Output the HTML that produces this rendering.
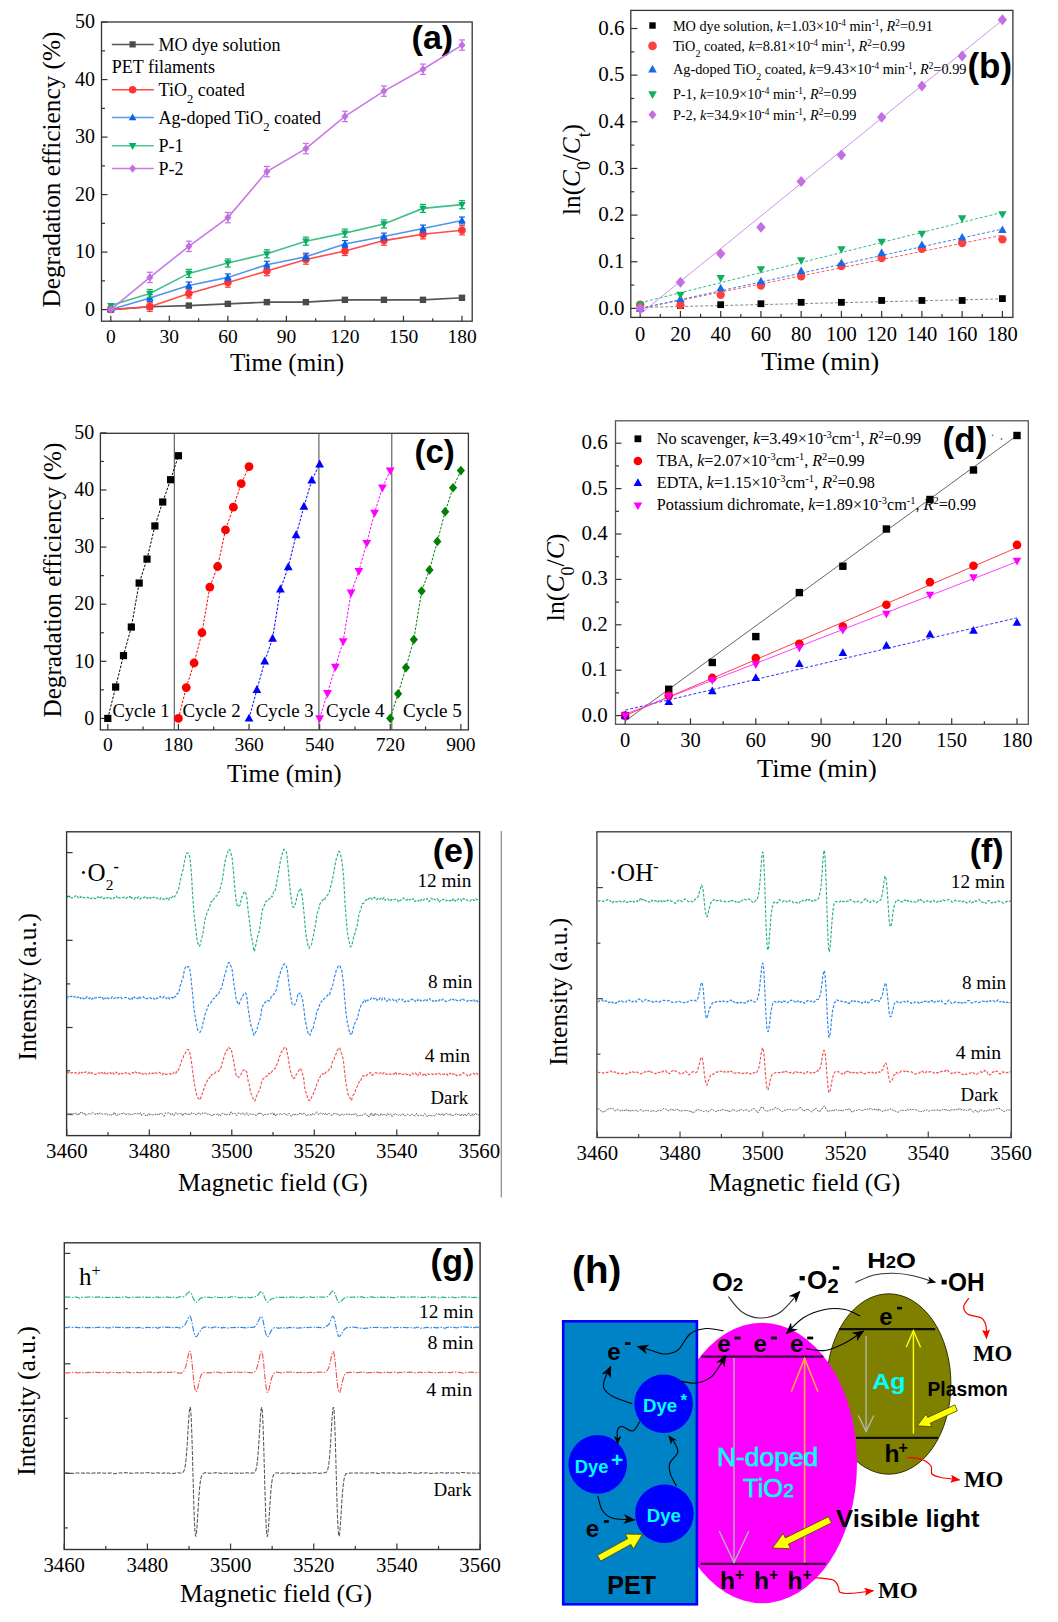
<!DOCTYPE html>
<html><head><meta charset="utf-8"><title>Figure</title>
<style>html,body{margin:0;padding:0;background:#fff;} svg{display:block;}</style>
</head><body>
<svg width="1058" height="1622" viewBox="0 0 1058 1622" font-family='"Liberation Serif", serif'>
<rect width="1058" height="1622" fill="#fff"/>
<rect x="101.50" y="22.00" width="370.70" height="299.20" fill="none" stroke="#333" stroke-width="1.3"/>
<line x1="110.80" y1="321.20" x2="110.80" y2="315.70" stroke="#333" stroke-width="1.2" />
<line x1="169.33" y1="321.20" x2="169.33" y2="315.70" stroke="#333" stroke-width="1.2" />
<line x1="227.86" y1="321.20" x2="227.86" y2="315.70" stroke="#333" stroke-width="1.2" />
<line x1="286.39" y1="321.20" x2="286.39" y2="315.70" stroke="#333" stroke-width="1.2" />
<line x1="344.92" y1="321.20" x2="344.92" y2="315.70" stroke="#333" stroke-width="1.2" />
<line x1="403.45" y1="321.20" x2="403.45" y2="315.70" stroke="#333" stroke-width="1.2" />
<line x1="461.98" y1="321.20" x2="461.98" y2="315.70" stroke="#333" stroke-width="1.2" />
<line x1="140.06" y1="321.20" x2="140.06" y2="318.20" stroke="#333" stroke-width="1.2" />
<line x1="198.59" y1="321.20" x2="198.59" y2="318.20" stroke="#333" stroke-width="1.2" />
<line x1="257.12" y1="321.20" x2="257.12" y2="318.20" stroke="#333" stroke-width="1.2" />
<line x1="315.66" y1="321.20" x2="315.66" y2="318.20" stroke="#333" stroke-width="1.2" />
<line x1="374.19" y1="321.20" x2="374.19" y2="318.20" stroke="#333" stroke-width="1.2" />
<line x1="432.72" y1="321.20" x2="432.72" y2="318.20" stroke="#333" stroke-width="1.2" />
<text x="110.8" y="343.0" font-size="19.5" font-family='"Liberation Serif", serif' text-anchor="middle">0</text>
<text x="169.3" y="343.0" font-size="19.5" font-family='"Liberation Serif", serif' text-anchor="middle">30</text>
<text x="227.9" y="343.0" font-size="19.5" font-family='"Liberation Serif", serif' text-anchor="middle">60</text>
<text x="286.4" y="343.0" font-size="19.5" font-family='"Liberation Serif", serif' text-anchor="middle">90</text>
<text x="344.9" y="343.0" font-size="19.5" font-family='"Liberation Serif", serif' text-anchor="middle">120</text>
<text x="403.5" y="343.0" font-size="19.5" font-family='"Liberation Serif", serif' text-anchor="middle">150</text>
<text x="462.0" y="343.0" font-size="19.5" font-family='"Liberation Serif", serif' text-anchor="middle">180</text>
<line x1="101.50" y1="309.60" x2="107.50" y2="309.60" stroke="#333" stroke-width="1.2" />
<line x1="101.50" y1="252.10" x2="107.50" y2="252.10" stroke="#333" stroke-width="1.2" />
<line x1="101.50" y1="194.60" x2="107.50" y2="194.60" stroke="#333" stroke-width="1.2" />
<line x1="101.50" y1="137.10" x2="107.50" y2="137.10" stroke="#333" stroke-width="1.2" />
<line x1="101.50" y1="79.60" x2="107.50" y2="79.60" stroke="#333" stroke-width="1.2" />
<line x1="101.50" y1="22.10" x2="107.50" y2="22.10" stroke="#333" stroke-width="1.2" />
<line x1="101.50" y1="280.85" x2="105.00" y2="280.85" stroke="#333" stroke-width="1.2" />
<line x1="101.50" y1="223.35" x2="105.00" y2="223.35" stroke="#333" stroke-width="1.2" />
<line x1="101.50" y1="165.85" x2="105.00" y2="165.85" stroke="#333" stroke-width="1.2" />
<line x1="101.50" y1="108.35" x2="105.00" y2="108.35" stroke="#333" stroke-width="1.2" />
<line x1="101.50" y1="50.85" x2="105.00" y2="50.85" stroke="#333" stroke-width="1.2" />
<text x="95.0" y="315.6" font-size="20" font-family='"Liberation Serif", serif' text-anchor="end">0</text>
<text x="95.0" y="258.1" font-size="20" font-family='"Liberation Serif", serif' text-anchor="end">10</text>
<text x="95.0" y="200.6" font-size="20" font-family='"Liberation Serif", serif' text-anchor="end">20</text>
<text x="95.0" y="143.1" font-size="20" font-family='"Liberation Serif", serif' text-anchor="end">30</text>
<text x="95.0" y="85.6" font-size="20" font-family='"Liberation Serif", serif' text-anchor="end">40</text>
<text x="95.0" y="28.1" font-size="20" font-family='"Liberation Serif", serif' text-anchor="end">50</text>
<text x="287.0" y="370.5" font-size="25" font-family='"Liberation Serif", serif' text-anchor="middle" textLength="114.0" lengthAdjust="spacingAndGlyphs">Time (min)</text>
<text x="59.6" y="169.5" font-size="25" font-family='"Liberation Serif", serif' text-anchor="middle" textLength="276.0" lengthAdjust="spacingAndGlyphs" transform="rotate(-90 59.6 169.5)">Degradation efficiency (%)</text>
<text x="411.6" y="49.2" font-size="34" font-family='"Liberation Sans", sans-serif' font-weight="bold">(a)</text>
<polyline points="110.80,309.60 149.82,306.73 188.84,305.58 227.86,303.85 266.88,302.12 305.90,302.12 344.92,299.83 383.94,299.83 422.96,299.83 461.98,297.81" fill="none" stroke="#555555" stroke-width="1.6" />
<rect x="107.60" y="306.40" width="6.40" height="6.40" fill="#4a4a4a"/>
<rect x="146.62" y="303.53" width="6.40" height="6.40" fill="#4a4a4a"/>
<rect x="185.64" y="302.38" width="6.40" height="6.40" fill="#4a4a4a"/>
<rect x="224.66" y="300.65" width="6.40" height="6.40" fill="#4a4a4a"/>
<rect x="263.68" y="298.93" width="6.40" height="6.40" fill="#4a4a4a"/>
<rect x="302.70" y="298.93" width="6.40" height="6.40" fill="#4a4a4a"/>
<rect x="341.72" y="296.63" width="6.40" height="6.40" fill="#4a4a4a"/>
<rect x="380.74" y="296.63" width="6.40" height="6.40" fill="#4a4a4a"/>
<rect x="419.76" y="296.63" width="6.40" height="6.40" fill="#4a4a4a"/>
<rect x="458.78" y="294.61" width="6.40" height="6.40" fill="#4a4a4a"/>
<polyline points="110.80,309.60 149.82,306.73 188.84,293.50 227.86,282.58 266.88,271.08 305.90,259.58 344.92,250.95 383.94,240.60 422.96,234.28 461.98,230.25" fill="none" stroke="#ff4a4a" stroke-width="1.6" />
<circle cx="110.80" cy="309.60" r="3.75" fill="#ff3535"/>
<line x1="149.82" y1="302.12" x2="149.82" y2="311.33" stroke="#ff3535" stroke-width="1.2" />
<line x1="146.82" y1="302.12" x2="152.82" y2="302.12" stroke="#ff3535" stroke-width="1.2" />
<line x1="146.82" y1="311.33" x2="152.82" y2="311.33" stroke="#ff3535" stroke-width="1.2" />
<circle cx="149.82" cy="306.73" r="3.75" fill="#ff3535"/>
<line x1="188.84" y1="288.90" x2="188.84" y2="298.10" stroke="#ff3535" stroke-width="1.2" />
<line x1="185.84" y1="288.90" x2="191.84" y2="288.90" stroke="#ff3535" stroke-width="1.2" />
<line x1="185.84" y1="298.10" x2="191.84" y2="298.10" stroke="#ff3535" stroke-width="1.2" />
<circle cx="188.84" cy="293.50" r="3.75" fill="#ff3535"/>
<line x1="227.86" y1="277.98" x2="227.86" y2="287.18" stroke="#ff3535" stroke-width="1.2" />
<line x1="224.86" y1="277.98" x2="230.86" y2="277.98" stroke="#ff3535" stroke-width="1.2" />
<line x1="224.86" y1="287.18" x2="230.86" y2="287.18" stroke="#ff3535" stroke-width="1.2" />
<circle cx="227.86" cy="282.58" r="3.75" fill="#ff3535"/>
<line x1="266.88" y1="266.48" x2="266.88" y2="275.68" stroke="#ff3535" stroke-width="1.2" />
<line x1="263.88" y1="266.48" x2="269.88" y2="266.48" stroke="#ff3535" stroke-width="1.2" />
<line x1="263.88" y1="275.68" x2="269.88" y2="275.68" stroke="#ff3535" stroke-width="1.2" />
<circle cx="266.88" cy="271.08" r="3.75" fill="#ff3535"/>
<line x1="305.90" y1="254.98" x2="305.90" y2="264.18" stroke="#ff3535" stroke-width="1.2" />
<line x1="302.90" y1="254.98" x2="308.90" y2="254.98" stroke="#ff3535" stroke-width="1.2" />
<line x1="302.90" y1="264.18" x2="308.90" y2="264.18" stroke="#ff3535" stroke-width="1.2" />
<circle cx="305.90" cy="259.58" r="3.75" fill="#ff3535"/>
<line x1="344.92" y1="246.35" x2="344.92" y2="255.55" stroke="#ff3535" stroke-width="1.2" />
<line x1="341.92" y1="246.35" x2="347.92" y2="246.35" stroke="#ff3535" stroke-width="1.2" />
<line x1="341.92" y1="255.55" x2="347.92" y2="255.55" stroke="#ff3535" stroke-width="1.2" />
<circle cx="344.92" cy="250.95" r="3.75" fill="#ff3535"/>
<line x1="383.94" y1="236.00" x2="383.94" y2="245.20" stroke="#ff3535" stroke-width="1.2" />
<line x1="380.94" y1="236.00" x2="386.94" y2="236.00" stroke="#ff3535" stroke-width="1.2" />
<line x1="380.94" y1="245.20" x2="386.94" y2="245.20" stroke="#ff3535" stroke-width="1.2" />
<circle cx="383.94" cy="240.60" r="3.75" fill="#ff3535"/>
<line x1="422.96" y1="229.68" x2="422.96" y2="238.88" stroke="#ff3535" stroke-width="1.2" />
<line x1="419.96" y1="229.68" x2="425.96" y2="229.68" stroke="#ff3535" stroke-width="1.2" />
<line x1="419.96" y1="238.88" x2="425.96" y2="238.88" stroke="#ff3535" stroke-width="1.2" />
<circle cx="422.96" cy="234.28" r="3.75" fill="#ff3535"/>
<line x1="461.98" y1="225.65" x2="461.98" y2="234.85" stroke="#ff3535" stroke-width="1.2" />
<line x1="458.98" y1="225.65" x2="464.98" y2="225.65" stroke="#ff3535" stroke-width="1.2" />
<line x1="458.98" y1="234.85" x2="464.98" y2="234.85" stroke="#ff3535" stroke-width="1.2" />
<circle cx="461.98" cy="230.25" r="3.75" fill="#ff3535"/>
<polyline points="110.80,309.60 149.82,298.10 188.84,285.45 227.86,277.40 266.88,264.75 305.90,256.70 344.92,244.05 383.94,236.58 422.96,228.53 461.98,220.48" fill="none" stroke="#4f95ee" stroke-width="1.6" />
<polygon points="110.80,305.55 114.55,312.30 107.05,312.30" fill="#0a62e6"/>
<line x1="149.82" y1="294.65" x2="149.82" y2="301.55" stroke="#0a62e6" stroke-width="1.2" />
<line x1="146.82" y1="294.65" x2="152.82" y2="294.65" stroke="#0a62e6" stroke-width="1.2" />
<line x1="146.82" y1="301.55" x2="152.82" y2="301.55" stroke="#0a62e6" stroke-width="1.2" />
<polygon points="149.82,294.05 153.57,300.80 146.07,300.80" fill="#0a62e6"/>
<line x1="188.84" y1="282.00" x2="188.84" y2="288.90" stroke="#0a62e6" stroke-width="1.2" />
<line x1="185.84" y1="282.00" x2="191.84" y2="282.00" stroke="#0a62e6" stroke-width="1.2" />
<line x1="185.84" y1="288.90" x2="191.84" y2="288.90" stroke="#0a62e6" stroke-width="1.2" />
<polygon points="188.84,281.40 192.59,288.15 185.09,288.15" fill="#0a62e6"/>
<line x1="227.86" y1="273.95" x2="227.86" y2="280.85" stroke="#0a62e6" stroke-width="1.2" />
<line x1="224.86" y1="273.95" x2="230.86" y2="273.95" stroke="#0a62e6" stroke-width="1.2" />
<line x1="224.86" y1="280.85" x2="230.86" y2="280.85" stroke="#0a62e6" stroke-width="1.2" />
<polygon points="227.86,273.35 231.61,280.10 224.11,280.10" fill="#0a62e6"/>
<line x1="266.88" y1="261.30" x2="266.88" y2="268.20" stroke="#0a62e6" stroke-width="1.2" />
<line x1="263.88" y1="261.30" x2="269.88" y2="261.30" stroke="#0a62e6" stroke-width="1.2" />
<line x1="263.88" y1="268.20" x2="269.88" y2="268.20" stroke="#0a62e6" stroke-width="1.2" />
<polygon points="266.88,260.70 270.63,267.45 263.13,267.45" fill="#0a62e6"/>
<line x1="305.90" y1="253.25" x2="305.90" y2="260.15" stroke="#0a62e6" stroke-width="1.2" />
<line x1="302.90" y1="253.25" x2="308.90" y2="253.25" stroke="#0a62e6" stroke-width="1.2" />
<line x1="302.90" y1="260.15" x2="308.90" y2="260.15" stroke="#0a62e6" stroke-width="1.2" />
<polygon points="305.90,252.65 309.65,259.40 302.15,259.40" fill="#0a62e6"/>
<line x1="344.92" y1="240.60" x2="344.92" y2="247.50" stroke="#0a62e6" stroke-width="1.2" />
<line x1="341.92" y1="240.60" x2="347.92" y2="240.60" stroke="#0a62e6" stroke-width="1.2" />
<line x1="341.92" y1="247.50" x2="347.92" y2="247.50" stroke="#0a62e6" stroke-width="1.2" />
<polygon points="344.92,240.00 348.67,246.75 341.17,246.75" fill="#0a62e6"/>
<line x1="383.94" y1="233.13" x2="383.94" y2="240.03" stroke="#0a62e6" stroke-width="1.2" />
<line x1="380.94" y1="233.13" x2="386.94" y2="233.13" stroke="#0a62e6" stroke-width="1.2" />
<line x1="380.94" y1="240.03" x2="386.94" y2="240.03" stroke="#0a62e6" stroke-width="1.2" />
<polygon points="383.94,232.53 387.69,239.28 380.19,239.28" fill="#0a62e6"/>
<line x1="422.96" y1="225.08" x2="422.96" y2="231.98" stroke="#0a62e6" stroke-width="1.2" />
<line x1="419.96" y1="225.08" x2="425.96" y2="225.08" stroke="#0a62e6" stroke-width="1.2" />
<line x1="419.96" y1="231.98" x2="425.96" y2="231.98" stroke="#0a62e6" stroke-width="1.2" />
<polygon points="422.96,224.48 426.71,231.23 419.21,231.23" fill="#0a62e6"/>
<line x1="461.98" y1="217.03" x2="461.98" y2="223.93" stroke="#0a62e6" stroke-width="1.2" />
<line x1="458.98" y1="217.03" x2="464.98" y2="217.03" stroke="#0a62e6" stroke-width="1.2" />
<line x1="458.98" y1="223.93" x2="464.98" y2="223.93" stroke="#0a62e6" stroke-width="1.2" />
<polygon points="461.98,216.43 465.73,223.18 458.23,223.18" fill="#0a62e6"/>
<polyline points="110.80,305.58 149.82,293.50 188.84,273.38 227.86,263.03 266.88,253.83 305.90,241.18 344.92,233.12 383.94,223.93 422.96,208.40 461.98,204.66" fill="none" stroke="#40c088" stroke-width="1.6" />
<polygon points="110.80,309.63 114.55,302.88 107.05,302.88" fill="#0aae62"/>
<line x1="149.82" y1="289.48" x2="149.82" y2="297.52" stroke="#0aae62" stroke-width="1.2" />
<line x1="146.82" y1="289.48" x2="152.82" y2="289.48" stroke="#0aae62" stroke-width="1.2" />
<line x1="146.82" y1="297.52" x2="152.82" y2="297.52" stroke="#0aae62" stroke-width="1.2" />
<polygon points="149.82,297.55 153.57,290.80 146.07,290.80" fill="#0aae62"/>
<line x1="188.84" y1="269.35" x2="188.84" y2="277.40" stroke="#0aae62" stroke-width="1.2" />
<line x1="185.84" y1="269.35" x2="191.84" y2="269.35" stroke="#0aae62" stroke-width="1.2" />
<line x1="185.84" y1="277.40" x2="191.84" y2="277.40" stroke="#0aae62" stroke-width="1.2" />
<polygon points="188.84,277.43 192.59,270.68 185.09,270.68" fill="#0aae62"/>
<line x1="227.86" y1="259.00" x2="227.86" y2="267.05" stroke="#0aae62" stroke-width="1.2" />
<line x1="224.86" y1="259.00" x2="230.86" y2="259.00" stroke="#0aae62" stroke-width="1.2" />
<line x1="224.86" y1="267.05" x2="230.86" y2="267.05" stroke="#0aae62" stroke-width="1.2" />
<polygon points="227.86,267.08 231.61,260.33 224.11,260.33" fill="#0aae62"/>
<line x1="266.88" y1="249.80" x2="266.88" y2="257.85" stroke="#0aae62" stroke-width="1.2" />
<line x1="263.88" y1="249.80" x2="269.88" y2="249.80" stroke="#0aae62" stroke-width="1.2" />
<line x1="263.88" y1="257.85" x2="269.88" y2="257.85" stroke="#0aae62" stroke-width="1.2" />
<polygon points="266.88,257.88 270.63,251.13 263.13,251.13" fill="#0aae62"/>
<line x1="305.90" y1="237.15" x2="305.90" y2="245.20" stroke="#0aae62" stroke-width="1.2" />
<line x1="302.90" y1="237.15" x2="308.90" y2="237.15" stroke="#0aae62" stroke-width="1.2" />
<line x1="302.90" y1="245.20" x2="308.90" y2="245.20" stroke="#0aae62" stroke-width="1.2" />
<polygon points="305.90,245.23 309.65,238.48 302.15,238.48" fill="#0aae62"/>
<line x1="344.92" y1="229.10" x2="344.92" y2="237.15" stroke="#0aae62" stroke-width="1.2" />
<line x1="341.92" y1="229.10" x2="347.92" y2="229.10" stroke="#0aae62" stroke-width="1.2" />
<line x1="341.92" y1="237.15" x2="347.92" y2="237.15" stroke="#0aae62" stroke-width="1.2" />
<polygon points="344.92,237.18 348.67,230.43 341.17,230.43" fill="#0aae62"/>
<line x1="383.94" y1="219.90" x2="383.94" y2="227.95" stroke="#0aae62" stroke-width="1.2" />
<line x1="380.94" y1="219.90" x2="386.94" y2="219.90" stroke="#0aae62" stroke-width="1.2" />
<line x1="380.94" y1="227.95" x2="386.94" y2="227.95" stroke="#0aae62" stroke-width="1.2" />
<polygon points="383.94,227.98 387.69,221.23 380.19,221.23" fill="#0aae62"/>
<line x1="422.96" y1="204.38" x2="422.96" y2="212.43" stroke="#0aae62" stroke-width="1.2" />
<line x1="419.96" y1="204.38" x2="425.96" y2="204.38" stroke="#0aae62" stroke-width="1.2" />
<line x1="419.96" y1="212.43" x2="425.96" y2="212.43" stroke="#0aae62" stroke-width="1.2" />
<polygon points="422.96,212.45 426.71,205.70 419.21,205.70" fill="#0aae62"/>
<line x1="461.98" y1="200.64" x2="461.98" y2="208.69" stroke="#0aae62" stroke-width="1.2" />
<line x1="458.98" y1="200.64" x2="464.98" y2="200.64" stroke="#0aae62" stroke-width="1.2" />
<line x1="458.98" y1="208.69" x2="464.98" y2="208.69" stroke="#0aae62" stroke-width="1.2" />
<polygon points="461.98,208.71 465.73,201.96 458.23,201.96" fill="#0aae62"/>
<polyline points="110.80,309.60 149.82,277.40 188.84,246.35 227.86,217.60 266.88,171.60 305.90,148.60 344.92,116.40 383.94,91.10 422.96,69.25 461.98,45.10" fill="none" stroke="#c87ae6" stroke-width="1.6" />
<polygon points="110.80,305.48 114.31,309.60 110.80,313.73 107.29,309.60" fill="#c46ee4"/>
<line x1="149.82" y1="272.23" x2="149.82" y2="282.58" stroke="#c46ee4" stroke-width="1.2" />
<line x1="146.82" y1="272.23" x2="152.82" y2="272.23" stroke="#c46ee4" stroke-width="1.2" />
<line x1="146.82" y1="282.58" x2="152.82" y2="282.58" stroke="#c46ee4" stroke-width="1.2" />
<polygon points="149.82,273.28 153.33,277.40 149.82,281.53 146.31,277.40" fill="#c46ee4"/>
<line x1="188.84" y1="241.18" x2="188.84" y2="251.53" stroke="#c46ee4" stroke-width="1.2" />
<line x1="185.84" y1="241.18" x2="191.84" y2="241.18" stroke="#c46ee4" stroke-width="1.2" />
<line x1="185.84" y1="251.53" x2="191.84" y2="251.53" stroke="#c46ee4" stroke-width="1.2" />
<polygon points="188.84,242.23 192.35,246.35 188.84,250.48 185.33,246.35" fill="#c46ee4"/>
<line x1="227.86" y1="212.43" x2="227.86" y2="222.78" stroke="#c46ee4" stroke-width="1.2" />
<line x1="224.86" y1="212.43" x2="230.86" y2="212.43" stroke="#c46ee4" stroke-width="1.2" />
<line x1="224.86" y1="222.78" x2="230.86" y2="222.78" stroke="#c46ee4" stroke-width="1.2" />
<polygon points="227.86,213.48 231.37,217.60 227.86,221.73 224.35,217.60" fill="#c46ee4"/>
<line x1="266.88" y1="166.43" x2="266.88" y2="176.78" stroke="#c46ee4" stroke-width="1.2" />
<line x1="263.88" y1="166.43" x2="269.88" y2="166.43" stroke="#c46ee4" stroke-width="1.2" />
<line x1="263.88" y1="176.78" x2="269.88" y2="176.78" stroke="#c46ee4" stroke-width="1.2" />
<polygon points="266.88,167.48 270.39,171.60 266.88,175.73 263.37,171.60" fill="#c46ee4"/>
<line x1="305.90" y1="143.43" x2="305.90" y2="153.78" stroke="#c46ee4" stroke-width="1.2" />
<line x1="302.90" y1="143.43" x2="308.90" y2="143.43" stroke="#c46ee4" stroke-width="1.2" />
<line x1="302.90" y1="153.78" x2="308.90" y2="153.78" stroke="#c46ee4" stroke-width="1.2" />
<polygon points="305.90,144.48 309.41,148.60 305.90,152.73 302.39,148.60" fill="#c46ee4"/>
<line x1="344.92" y1="111.23" x2="344.92" y2="121.58" stroke="#c46ee4" stroke-width="1.2" />
<line x1="341.92" y1="111.23" x2="347.92" y2="111.23" stroke="#c46ee4" stroke-width="1.2" />
<line x1="341.92" y1="121.58" x2="347.92" y2="121.58" stroke="#c46ee4" stroke-width="1.2" />
<polygon points="344.92,112.28 348.43,116.40 344.92,120.53 341.41,116.40" fill="#c46ee4"/>
<line x1="383.94" y1="85.93" x2="383.94" y2="96.28" stroke="#c46ee4" stroke-width="1.2" />
<line x1="380.94" y1="85.93" x2="386.94" y2="85.93" stroke="#c46ee4" stroke-width="1.2" />
<line x1="380.94" y1="96.28" x2="386.94" y2="96.28" stroke="#c46ee4" stroke-width="1.2" />
<polygon points="383.94,86.98 387.45,91.10 383.94,95.23 380.43,91.10" fill="#c46ee4"/>
<line x1="422.96" y1="64.08" x2="422.96" y2="74.43" stroke="#c46ee4" stroke-width="1.2" />
<line x1="419.96" y1="64.08" x2="425.96" y2="64.08" stroke="#c46ee4" stroke-width="1.2" />
<line x1="419.96" y1="74.43" x2="425.96" y2="74.43" stroke="#c46ee4" stroke-width="1.2" />
<polygon points="422.96,65.13 426.47,69.25 422.96,73.38 419.45,69.25" fill="#c46ee4"/>
<line x1="461.98" y1="39.93" x2="461.98" y2="50.28" stroke="#c46ee4" stroke-width="1.2" />
<line x1="458.98" y1="39.93" x2="464.98" y2="39.93" stroke="#c46ee4" stroke-width="1.2" />
<line x1="458.98" y1="50.28" x2="464.98" y2="50.28" stroke="#c46ee4" stroke-width="1.2" />
<polygon points="461.98,40.98 465.49,45.10 461.98,49.23 458.47,45.10" fill="#c46ee4"/>
<line x1="111.80" y1="44.40" x2="153.80" y2="44.40" stroke="#555555" stroke-width="1.5" />
<rect x="129.50" y="41.30" width="6.20" height="6.20" fill="#4a4a4a"/>
<text x="158.6" y="50.7" font-size="18" font-family='"Liberation Serif", serif'>MO dye solution</text>
<line x1="111.80" y1="89.80" x2="153.80" y2="89.80" stroke="#ff4a4a" stroke-width="1.5" />
<circle cx="132.60" cy="89.80" r="3.80" fill="#ff3535"/>
<text x="158.6" y="96.1" font-size="18" font-family='"Liberation Serif", serif'>TiO<tspan baseline-shift="sub" font-size="70%">2</tspan> coated</text>
<line x1="111.80" y1="117.60" x2="153.80" y2="117.60" stroke="#5a9aee" stroke-width="1.5" />
<polygon points="132.60,113.50 136.40,120.34 128.80,120.34" fill="#0a62e6"/>
<text x="158.6" y="123.9" font-size="18" font-family='"Liberation Serif", serif'>Ag-doped TiO<tspan baseline-shift="sub" font-size="70%">2</tspan> coated</text>
<line x1="111.80" y1="145.80" x2="153.80" y2="145.80" stroke="#4cc890" stroke-width="1.5" />
<polygon points="132.60,149.90 136.40,143.06 128.80,143.06" fill="#0aae62"/>
<text x="158.6" y="152.1" font-size="18" font-family='"Liberation Serif", serif'>P-1</text>
<line x1="111.80" y1="168.60" x2="153.80" y2="168.60" stroke="#c87ae6" stroke-width="1.5" />
<polygon points="132.60,164.42 136.15,168.60 132.60,172.78 129.05,168.60" fill="#c46ee4"/>
<text x="158.6" y="174.9" font-size="18" font-family='"Liberation Serif", serif'>P-2</text>
<text x="111.8" y="73.2" font-size="18" font-family='"Liberation Serif", serif'>PET filaments</text>
<rect x="630.80" y="10.40" width="382.10" height="307.00" fill="none" stroke="#333" stroke-width="1.3"/>
<line x1="640.20" y1="317.40" x2="640.20" y2="310.90" stroke="#333" stroke-width="1.2" />
<line x1="680.44" y1="317.40" x2="680.44" y2="310.90" stroke="#333" stroke-width="1.2" />
<line x1="720.69" y1="317.40" x2="720.69" y2="310.90" stroke="#333" stroke-width="1.2" />
<line x1="760.93" y1="317.40" x2="760.93" y2="310.90" stroke="#333" stroke-width="1.2" />
<line x1="801.18" y1="317.40" x2="801.18" y2="310.90" stroke="#333" stroke-width="1.2" />
<line x1="841.42" y1="317.40" x2="841.42" y2="310.90" stroke="#333" stroke-width="1.2" />
<line x1="881.66" y1="317.40" x2="881.66" y2="310.90" stroke="#333" stroke-width="1.2" />
<line x1="921.91" y1="317.40" x2="921.91" y2="310.90" stroke="#333" stroke-width="1.2" />
<line x1="962.15" y1="317.40" x2="962.15" y2="310.90" stroke="#333" stroke-width="1.2" />
<line x1="1002.40" y1="317.40" x2="1002.40" y2="310.90" stroke="#333" stroke-width="1.2" />
<line x1="660.32" y1="317.40" x2="660.32" y2="313.90" stroke="#333" stroke-width="1.2" />
<line x1="700.57" y1="317.40" x2="700.57" y2="313.90" stroke="#333" stroke-width="1.2" />
<line x1="740.81" y1="317.40" x2="740.81" y2="313.90" stroke="#333" stroke-width="1.2" />
<line x1="781.05" y1="317.40" x2="781.05" y2="313.90" stroke="#333" stroke-width="1.2" />
<line x1="821.30" y1="317.40" x2="821.30" y2="313.90" stroke="#333" stroke-width="1.2" />
<line x1="861.54" y1="317.40" x2="861.54" y2="313.90" stroke="#333" stroke-width="1.2" />
<line x1="901.79" y1="317.40" x2="901.79" y2="313.90" stroke="#333" stroke-width="1.2" />
<line x1="942.03" y1="317.40" x2="942.03" y2="313.90" stroke="#333" stroke-width="1.2" />
<line x1="982.27" y1="317.40" x2="982.27" y2="313.90" stroke="#333" stroke-width="1.2" />
<text x="640.2" y="340.6" font-size="20.5" font-family='"Liberation Serif", serif' text-anchor="middle">0</text>
<text x="680.4" y="340.6" font-size="20.5" font-family='"Liberation Serif", serif' text-anchor="middle">20</text>
<text x="720.7" y="340.6" font-size="20.5" font-family='"Liberation Serif", serif' text-anchor="middle">40</text>
<text x="760.9" y="340.6" font-size="20.5" font-family='"Liberation Serif", serif' text-anchor="middle">60</text>
<text x="801.2" y="340.6" font-size="20.5" font-family='"Liberation Serif", serif' text-anchor="middle">80</text>
<text x="841.4" y="340.6" font-size="20.5" font-family='"Liberation Serif", serif' text-anchor="middle">100</text>
<text x="881.7" y="340.6" font-size="20.5" font-family='"Liberation Serif", serif' text-anchor="middle">120</text>
<text x="921.9" y="340.6" font-size="20.5" font-family='"Liberation Serif", serif' text-anchor="middle">140</text>
<text x="962.2" y="340.6" font-size="20.5" font-family='"Liberation Serif", serif' text-anchor="middle">160</text>
<text x="1002.4" y="340.6" font-size="20.5" font-family='"Liberation Serif", serif' text-anchor="middle">180</text>
<line x1="630.80" y1="308.40" x2="637.50" y2="308.40" stroke="#333" stroke-width="1.2" />
<line x1="630.80" y1="261.75" x2="637.50" y2="261.75" stroke="#333" stroke-width="1.2" />
<line x1="630.80" y1="215.10" x2="637.50" y2="215.10" stroke="#333" stroke-width="1.2" />
<line x1="630.80" y1="168.45" x2="637.50" y2="168.45" stroke="#333" stroke-width="1.2" />
<line x1="630.80" y1="121.80" x2="637.50" y2="121.80" stroke="#333" stroke-width="1.2" />
<line x1="630.80" y1="75.15" x2="637.50" y2="75.15" stroke="#333" stroke-width="1.2" />
<line x1="630.80" y1="28.50" x2="637.50" y2="28.50" stroke="#333" stroke-width="1.2" />
<line x1="630.80" y1="285.07" x2="634.30" y2="285.07" stroke="#333" stroke-width="1.2" />
<line x1="630.80" y1="238.42" x2="634.30" y2="238.42" stroke="#333" stroke-width="1.2" />
<line x1="630.80" y1="191.77" x2="634.30" y2="191.77" stroke="#333" stroke-width="1.2" />
<line x1="630.80" y1="145.12" x2="634.30" y2="145.12" stroke="#333" stroke-width="1.2" />
<line x1="630.80" y1="98.47" x2="634.30" y2="98.47" stroke="#333" stroke-width="1.2" />
<line x1="630.80" y1="51.82" x2="634.30" y2="51.82" stroke="#333" stroke-width="1.2" />
<text x="624.4" y="314.5" font-size="21" font-family='"Liberation Serif", serif' text-anchor="end">0.0</text>
<text x="624.4" y="267.9" font-size="21" font-family='"Liberation Serif", serif' text-anchor="end">0.1</text>
<text x="624.4" y="221.2" font-size="21" font-family='"Liberation Serif", serif' text-anchor="end">0.2</text>
<text x="624.4" y="174.5" font-size="21" font-family='"Liberation Serif", serif' text-anchor="end">0.3</text>
<text x="624.4" y="127.9" font-size="21" font-family='"Liberation Serif", serif' text-anchor="end">0.4</text>
<text x="624.4" y="81.2" font-size="21" font-family='"Liberation Serif", serif' text-anchor="end">0.5</text>
<text x="624.4" y="34.6" font-size="21" font-family='"Liberation Serif", serif' text-anchor="end">0.6</text>
<text x="820.2" y="369.9" font-size="26" font-family='"Liberation Serif", serif' text-anchor="middle" textLength="118.0" lengthAdjust="spacingAndGlyphs">Time (min)</text>
<text x="580.3" y="169.5" font-size="26" font-family='"Liberation Serif", serif' text-anchor="middle" textLength="91.0" lengthAdjust="spacingAndGlyphs" transform="rotate(-90 580.3 169.5)">ln(<tspan font-style="italic">C</tspan><tspan baseline-shift="sub" font-size="70%">0</tspan>/<tspan font-style="italic">C</tspan><tspan baseline-shift="sub" font-size="70%">t</tspan>)</text>
<text x="967.4" y="77.9" font-size="35" font-family='"Liberation Sans", sans-serif' font-weight="bold">(b)</text>
<line x1="640.20" y1="307.47" x2="1002.40" y2="298.84" stroke="#888888" stroke-width="1" stroke-dasharray="3,2"/>
<rect x="636.80" y="305.00" width="6.80" height="6.80" fill="#000000"/>
<rect x="677.04" y="302.20" width="6.80" height="6.80" fill="#000000"/>
<rect x="717.29" y="301.27" width="6.80" height="6.80" fill="#000000"/>
<rect x="757.53" y="300.33" width="6.80" height="6.80" fill="#000000"/>
<rect x="797.78" y="298.94" width="6.80" height="6.80" fill="#000000"/>
<rect x="838.02" y="298.94" width="6.80" height="6.80" fill="#000000"/>
<rect x="878.26" y="297.07" width="6.80" height="6.80" fill="#000000"/>
<rect x="918.51" y="297.07" width="6.80" height="6.80" fill="#000000"/>
<rect x="958.75" y="297.07" width="6.80" height="6.80" fill="#000000"/>
<rect x="999.00" y="295.20" width="6.80" height="6.80" fill="#000000"/>
<line x1="640.20" y1="308.40" x2="1002.40" y2="235.16" stroke="#ff5a5a" stroke-width="1" stroke-dasharray="3,2"/>
<circle cx="640.20" cy="304.67" r="4.20" fill="#ff4040"/>
<circle cx="680.44" cy="305.13" r="4.20" fill="#ff4040"/>
<circle cx="720.69" cy="294.87" r="4.20" fill="#ff4040"/>
<circle cx="760.93" cy="285.54" r="4.20" fill="#ff4040"/>
<circle cx="801.18" cy="276.21" r="4.20" fill="#ff4040"/>
<circle cx="841.42" cy="265.95" r="4.20" fill="#ff4040"/>
<circle cx="881.66" cy="258.02" r="4.20" fill="#ff4040"/>
<circle cx="921.91" cy="248.69" r="4.20" fill="#ff4040"/>
<circle cx="962.15" cy="243.09" r="4.20" fill="#ff4040"/>
<circle cx="1002.40" cy="239.36" r="4.20" fill="#ff4040"/>
<line x1="640.20" y1="308.40" x2="1002.40" y2="229.09" stroke="#3a82ee" stroke-width="1" stroke-dasharray="3,2"/>
<polygon points="640.20,303.86 644.40,311.42 636.00,311.42" fill="#1a6ae8"/>
<polygon points="680.44,294.53 684.64,302.09 676.24,302.09" fill="#1a6ae8"/>
<polygon points="720.69,283.80 724.89,291.36 716.49,291.36" fill="#1a6ae8"/>
<polygon points="760.93,276.81 765.13,284.37 756.73,284.37" fill="#1a6ae8"/>
<polygon points="801.18,266.54 805.38,274.10 796.98,274.10" fill="#1a6ae8"/>
<polygon points="841.42,258.61 845.62,266.17 837.22,266.17" fill="#1a6ae8"/>
<polygon points="881.66,248.35 885.86,255.91 877.46,255.91" fill="#1a6ae8"/>
<polygon points="921.91,240.42 926.11,247.98 917.71,247.98" fill="#1a6ae8"/>
<polygon points="962.15,232.96 966.35,240.52 957.95,240.52" fill="#1a6ae8"/>
<polygon points="1002.40,225.49 1006.60,233.05 998.20,233.05" fill="#1a6ae8"/>
<line x1="640.20" y1="302.80" x2="1002.40" y2="212.30" stroke="#30c080" stroke-width="1" stroke-dasharray="3,2"/>
<polygon points="640.20,309.67 644.40,302.11 636.00,302.11" fill="#10b060"/>
<polygon points="680.44,299.41 684.64,291.85 676.24,291.85" fill="#10b060"/>
<polygon points="720.69,282.61 724.89,275.05 716.49,275.05" fill="#10b060"/>
<polygon points="760.93,273.75 765.13,266.19 756.73,266.19" fill="#10b060"/>
<polygon points="801.18,264.89 805.38,257.33 796.98,257.33" fill="#10b060"/>
<polygon points="841.42,253.69 845.62,246.13 837.22,246.13" fill="#10b060"/>
<polygon points="881.66,246.23 885.86,238.67 877.46,238.67" fill="#10b060"/>
<polygon points="921.91,238.30 926.11,230.74 917.71,230.74" fill="#10b060"/>
<polygon points="962.15,222.90 966.35,215.34 957.95,215.34" fill="#10b060"/>
<polygon points="1002.40,218.70 1006.60,211.14 998.20,211.14" fill="#10b060"/>
<line x1="640.20" y1="314.00" x2="1002.40" y2="20.10" stroke="#d090ee" stroke-width="1" />
<polygon points="640.20,302.90 644.88,308.40 640.20,313.90 635.53,308.40" fill="#c46ee4"/>
<polygon points="680.44,276.78 685.12,282.28 680.44,287.78 675.77,282.28" fill="#c46ee4"/>
<polygon points="720.69,248.32 725.36,253.82 720.69,259.32 716.01,253.82" fill="#c46ee4"/>
<polygon points="760.93,221.73 765.61,227.23 760.93,232.73 756.26,227.23" fill="#c46ee4"/>
<polygon points="801.18,176.01 805.85,181.51 801.18,187.01 796.50,181.51" fill="#c46ee4"/>
<polygon points="841.42,149.42 846.10,154.92 841.42,160.42 836.75,154.92" fill="#c46ee4"/>
<polygon points="881.66,111.63 886.34,117.13 881.66,122.63 876.99,117.13" fill="#c46ee4"/>
<polygon points="921.91,80.38 926.58,85.88 921.91,91.38 917.23,85.88" fill="#c46ee4"/>
<polygon points="962.15,50.52 966.83,56.02 962.15,61.52 957.48,56.02" fill="#c46ee4"/>
<polygon points="1002.40,14.14 1007.07,19.64 1002.40,25.14 997.72,19.64" fill="#c46ee4"/>
<rect x="649.30" y="22.30" width="6.40" height="6.40" fill="#000000"/>
<text x="672.9" y="30.5" font-size="14.5" font-family='"Liberation Serif", serif' textLength="260.0" lengthAdjust="spacingAndGlyphs">MO dye solution, <tspan font-style="italic">k</tspan>=1.03×10<tspan baseline-shift="super" font-size="65%">-4</tspan> min<tspan baseline-shift="super" font-size="65%">-1</tspan>, <tspan font-style="italic">R</tspan><tspan baseline-shift="super" font-size="65%">2</tspan>=0.91</text>
<circle cx="652.50" cy="45.90" r="4.30" fill="#ff4040"/>
<text x="672.9" y="50.9" font-size="14.5" font-family='"Liberation Serif", serif' textLength="232.0" lengthAdjust="spacingAndGlyphs">TiO<tspan baseline-shift="sub" font-size="70%">2</tspan> coated, <tspan font-style="italic">k</tspan>=8.81×10<tspan baseline-shift="super" font-size="65%">-4</tspan> min<tspan baseline-shift="super" font-size="65%">-1</tspan>, <tspan font-style="italic">R</tspan><tspan baseline-shift="super" font-size="65%">2</tspan>=0.99</text>
<polygon points="652.50,64.76 656.80,72.50 648.20,72.50" fill="#1a6ae8"/>
<text x="672.9" y="74.4" font-size="14.5" font-family='"Liberation Serif", serif' textLength="293.6" lengthAdjust="spacingAndGlyphs">Ag-doped TiO<tspan baseline-shift="sub" font-size="70%">2</tspan> coated, <tspan font-style="italic">k</tspan>=9.43×10<tspan baseline-shift="super" font-size="65%">-4</tspan> min<tspan baseline-shift="super" font-size="65%">-1</tspan>, <tspan font-style="italic">R</tspan><tspan baseline-shift="super" font-size="65%">2</tspan>=0.99</text>
<polygon points="652.50,99.04 656.80,91.30 648.20,91.30" fill="#10b060"/>
<text x="672.9" y="99.4" font-size="14.5" font-family='"Liberation Serif", serif' textLength="183.5" lengthAdjust="spacingAndGlyphs">P-1, <tspan font-style="italic">k</tspan>=10.9×10<tspan baseline-shift="super" font-size="65%">-4</tspan> min<tspan baseline-shift="super" font-size="65%">-1</tspan>, <tspan font-style="italic">R</tspan><tspan baseline-shift="super" font-size="65%">2</tspan>=0.99</text>
<polygon points="652.50,110.07 656.52,114.80 652.50,119.53 648.48,114.80" fill="#c46ee4"/>
<text x="672.9" y="119.8" font-size="14.5" font-family='"Liberation Serif", serif' textLength="183.5" lengthAdjust="spacingAndGlyphs">P-2, <tspan font-style="italic">k</tspan>=34.9×10<tspan baseline-shift="super" font-size="65%">-4</tspan> min<tspan baseline-shift="super" font-size="65%">-1</tspan>, <tspan font-style="italic">R</tspan><tspan baseline-shift="super" font-size="65%">2</tspan>=0.99</text>
<rect x="100.40" y="433.30" width="368.00" height="296.60" fill="none" stroke="#333" stroke-width="1.3"/>
<line x1="107.80" y1="729.90" x2="107.80" y2="723.90" stroke="#333" stroke-width="1.2" />
<line x1="178.41" y1="729.90" x2="178.41" y2="723.90" stroke="#333" stroke-width="1.2" />
<line x1="249.03" y1="729.90" x2="249.03" y2="723.90" stroke="#333" stroke-width="1.2" />
<line x1="319.64" y1="729.90" x2="319.64" y2="723.90" stroke="#333" stroke-width="1.2" />
<line x1="390.26" y1="729.90" x2="390.26" y2="723.90" stroke="#333" stroke-width="1.2" />
<line x1="460.87" y1="729.90" x2="460.87" y2="723.90" stroke="#333" stroke-width="1.2" />
<line x1="143.11" y1="729.90" x2="143.11" y2="726.40" stroke="#333" stroke-width="1.2" />
<line x1="213.72" y1="729.90" x2="213.72" y2="726.40" stroke="#333" stroke-width="1.2" />
<line x1="284.33" y1="729.90" x2="284.33" y2="726.40" stroke="#333" stroke-width="1.2" />
<line x1="354.95" y1="729.90" x2="354.95" y2="726.40" stroke="#333" stroke-width="1.2" />
<line x1="425.56" y1="729.90" x2="425.56" y2="726.40" stroke="#333" stroke-width="1.2" />
<text x="107.8" y="750.5" font-size="19.5" font-family='"Liberation Serif", serif' text-anchor="middle">0</text>
<text x="178.4" y="750.5" font-size="19.5" font-family='"Liberation Serif", serif' text-anchor="middle">180</text>
<text x="249.0" y="750.5" font-size="19.5" font-family='"Liberation Serif", serif' text-anchor="middle">360</text>
<text x="319.6" y="750.5" font-size="19.5" font-family='"Liberation Serif", serif' text-anchor="middle">540</text>
<text x="390.3" y="750.5" font-size="19.5" font-family='"Liberation Serif", serif' text-anchor="middle">720</text>
<text x="460.9" y="750.5" font-size="19.5" font-family='"Liberation Serif", serif' text-anchor="middle">900</text>
<line x1="100.40" y1="718.40" x2="106.40" y2="718.40" stroke="#333" stroke-width="1.2" />
<line x1="100.40" y1="661.30" x2="106.40" y2="661.30" stroke="#333" stroke-width="1.2" />
<line x1="100.40" y1="604.20" x2="106.40" y2="604.20" stroke="#333" stroke-width="1.2" />
<line x1="100.40" y1="547.10" x2="106.40" y2="547.10" stroke="#333" stroke-width="1.2" />
<line x1="100.40" y1="490.00" x2="106.40" y2="490.00" stroke="#333" stroke-width="1.2" />
<line x1="100.40" y1="432.90" x2="106.40" y2="432.90" stroke="#333" stroke-width="1.2" />
<line x1="100.40" y1="689.85" x2="103.90" y2="689.85" stroke="#333" stroke-width="1.2" />
<line x1="100.40" y1="632.75" x2="103.90" y2="632.75" stroke="#333" stroke-width="1.2" />
<line x1="100.40" y1="575.65" x2="103.90" y2="575.65" stroke="#333" stroke-width="1.2" />
<line x1="100.40" y1="518.55" x2="103.90" y2="518.55" stroke="#333" stroke-width="1.2" />
<line x1="100.40" y1="461.45" x2="103.90" y2="461.45" stroke="#333" stroke-width="1.2" />
<text x="94.2" y="724.6" font-size="20" font-family='"Liberation Serif", serif' text-anchor="end">0</text>
<text x="94.2" y="667.5" font-size="20" font-family='"Liberation Serif", serif' text-anchor="end">10</text>
<text x="94.2" y="610.4" font-size="20" font-family='"Liberation Serif", serif' text-anchor="end">20</text>
<text x="94.2" y="553.3" font-size="20" font-family='"Liberation Serif", serif' text-anchor="end">30</text>
<text x="94.2" y="496.2" font-size="20" font-family='"Liberation Serif", serif' text-anchor="end">40</text>
<text x="94.2" y="439.1" font-size="20" font-family='"Liberation Serif", serif' text-anchor="end">50</text>
<line x1="174.30" y1="433.30" x2="174.30" y2="729.90" stroke="#555" stroke-width="1.1" />
<line x1="318.90" y1="433.30" x2="318.90" y2="729.90" stroke="#555" stroke-width="1.1" />
<line x1="391.80" y1="433.30" x2="391.80" y2="729.90" stroke="#555" stroke-width="1.1" />
<text x="284.4" y="781.6" font-size="25" font-family='"Liberation Serif", serif' text-anchor="middle" textLength="114.6" lengthAdjust="spacingAndGlyphs">Time (min)</text>
<text x="61.5" y="580.1" font-size="25" font-family='"Liberation Serif", serif' text-anchor="middle" textLength="274.8" lengthAdjust="spacingAndGlyphs" transform="rotate(-90 61.5 580.1)">Degradation efficiency (%)</text>
<text x="414.5" y="463.3" font-size="33" font-family='"Liberation Sans", sans-serif' font-weight="bold">(c)</text>
<polyline points="107.80,718.40 115.65,687.00 123.49,655.59 131.34,627.04 139.18,583.07 147.03,559.09 154.88,525.97 162.72,501.99 170.57,479.72 178.41,455.74" fill="none" stroke="#000000" stroke-width="1" stroke-dasharray="2.5,1.5"/>
<rect x="104.20" y="714.80" width="7.20" height="7.20" fill="#000000"/>
<rect x="112.05" y="683.39" width="7.20" height="7.20" fill="#000000"/>
<rect x="119.89" y="651.99" width="7.20" height="7.20" fill="#000000"/>
<rect x="127.74" y="623.44" width="7.20" height="7.20" fill="#000000"/>
<rect x="135.58" y="579.47" width="7.20" height="7.20" fill="#000000"/>
<rect x="143.43" y="555.49" width="7.20" height="7.20" fill="#000000"/>
<rect x="151.28" y="522.37" width="7.20" height="7.20" fill="#000000"/>
<rect x="159.12" y="498.39" width="7.20" height="7.20" fill="#000000"/>
<rect x="166.97" y="476.12" width="7.20" height="7.20" fill="#000000"/>
<rect x="174.81" y="452.14" width="7.20" height="7.20" fill="#000000"/>
<polyline points="178.41,718.40 186.26,687.57 194.11,663.01 201.95,632.75 209.80,587.07 217.64,566.51 225.49,529.97 233.34,507.13 241.18,483.72 249.03,466.59" fill="none" stroke="#ff0000" stroke-width="1" stroke-dasharray="2.5,1.5"/>
<circle cx="178.41" cy="718.40" r="4.40" fill="#ff0000"/>
<circle cx="186.26" cy="687.57" r="4.40" fill="#ff0000"/>
<circle cx="194.11" cy="663.01" r="4.40" fill="#ff0000"/>
<circle cx="201.95" cy="632.75" r="4.40" fill="#ff0000"/>
<circle cx="209.80" cy="587.07" r="4.40" fill="#ff0000"/>
<circle cx="217.64" cy="566.51" r="4.40" fill="#ff0000"/>
<circle cx="225.49" cy="529.97" r="4.40" fill="#ff0000"/>
<circle cx="233.34" cy="507.13" r="4.40" fill="#ff0000"/>
<circle cx="241.18" cy="483.72" r="4.40" fill="#ff0000"/>
<circle cx="249.03" cy="466.59" r="4.40" fill="#ff0000"/>
<polyline points="249.03,718.40 256.87,689.85 264.72,661.30 272.57,638.46 280.41,589.35 288.26,567.09 296.10,535.11 303.95,506.56 311.80,480.29 319.64,464.30" fill="none" stroke="#0000ff" stroke-width="1" stroke-dasharray="2.5,1.5"/>
<polygon points="249.03,713.65 253.43,721.57 244.63,721.57" fill="#0000ff"/>
<polygon points="256.87,685.10 261.27,693.02 252.47,693.02" fill="#0000ff"/>
<polygon points="264.72,656.55 269.12,664.47 260.32,664.47" fill="#0000ff"/>
<polygon points="272.57,633.71 276.97,641.63 268.17,641.63" fill="#0000ff"/>
<polygon points="280.41,584.60 284.81,592.52 276.01,592.52" fill="#0000ff"/>
<polygon points="288.26,562.33 292.66,570.25 283.86,570.25" fill="#0000ff"/>
<polygon points="296.10,530.36 300.50,538.28 291.70,538.28" fill="#0000ff"/>
<polygon points="303.95,501.81 308.35,509.73 299.55,509.73" fill="#0000ff"/>
<polygon points="311.80,475.54 316.20,483.46 307.40,483.46" fill="#0000ff"/>
<polygon points="319.64,459.55 324.04,467.47 315.24,467.47" fill="#0000ff"/>
<polyline points="319.64,718.40 327.49,693.28 335.33,667.01 343.18,641.31 351.03,592.78 358.87,571.08 366.72,543.10 374.56,512.84 382.41,487.72 390.26,470.59" fill="none" stroke="#ff00ff" stroke-width="1" stroke-dasharray="2.5,1.5"/>
<polygon points="319.64,723.15 324.04,715.23 315.24,715.23" fill="#ff00ff"/>
<polygon points="327.49,698.03 331.89,690.11 323.09,690.11" fill="#ff00ff"/>
<polygon points="335.33,671.76 339.73,663.84 330.93,663.84" fill="#ff00ff"/>
<polygon points="343.18,646.07 347.58,638.15 338.78,638.15" fill="#ff00ff"/>
<polygon points="351.03,597.53 355.43,589.61 346.63,589.61" fill="#ff00ff"/>
<polygon points="358.87,575.83 363.27,567.91 354.47,567.91" fill="#ff00ff"/>
<polygon points="366.72,547.85 371.12,539.93 362.32,539.93" fill="#ff00ff"/>
<polygon points="374.56,517.59 378.96,509.67 370.16,509.67" fill="#ff00ff"/>
<polygon points="382.41,492.47 386.81,484.55 378.01,484.55" fill="#ff00ff"/>
<polygon points="390.26,475.34 394.66,467.42 385.86,467.42" fill="#ff00ff"/>
<polyline points="390.26,718.40 398.10,693.85 405.95,667.58 413.79,639.60 421.64,591.07 429.49,569.94 437.33,541.39 445.18,511.70 453.02,487.72 460.87,470.59" fill="none" stroke="#008000" stroke-width="1" stroke-dasharray="2.5,1.5"/>
<polygon points="390.26,713.56 394.37,718.40 390.26,723.24 386.14,718.40" fill="#008000"/>
<polygon points="398.10,689.01 402.22,693.85 398.10,698.69 393.99,693.85" fill="#008000"/>
<polygon points="405.95,662.74 410.06,667.58 405.95,672.42 401.83,667.58" fill="#008000"/>
<polygon points="413.79,634.76 417.91,639.60 413.79,644.44 409.68,639.60" fill="#008000"/>
<polygon points="421.64,586.23 425.75,591.07 421.64,595.91 417.53,591.07" fill="#008000"/>
<polygon points="429.49,565.10 433.60,569.94 429.49,574.78 425.37,569.94" fill="#008000"/>
<polygon points="437.33,536.55 441.45,541.39 437.33,546.23 433.22,541.39" fill="#008000"/>
<polygon points="445.18,506.86 449.29,511.70 445.18,516.54 441.06,511.70" fill="#008000"/>
<polygon points="453.02,482.88 457.14,487.72 453.02,492.56 448.91,487.72" fill="#008000"/>
<polygon points="460.87,465.75 464.98,470.59 460.87,475.43 456.76,470.59" fill="#008000"/>
<text x="112.4" y="716.5" font-size="19" font-family='"Liberation Serif", serif' textLength="57.2" lengthAdjust="spacingAndGlyphs">Cycle 1</text>
<text x="182.5" y="716.5" font-size="19" font-family='"Liberation Serif", serif' textLength="58.1" lengthAdjust="spacingAndGlyphs">Cycle 2</text>
<text x="255.8" y="716.5" font-size="19" font-family='"Liberation Serif", serif' textLength="57.9" lengthAdjust="spacingAndGlyphs">Cycle 3</text>
<text x="326.1" y="716.5" font-size="19" font-family='"Liberation Serif", serif' textLength="58.3" lengthAdjust="spacingAndGlyphs">Cycle 4</text>
<text x="403.0" y="716.5" font-size="19" font-family='"Liberation Serif", serif' textLength="58.7" lengthAdjust="spacingAndGlyphs">Cycle 5</text>
<rect x="615.50" y="420.80" width="412.80" height="303.50" fill="none" stroke="#555" stroke-width="1.3"/>
<line x1="625.20" y1="724.30" x2="625.20" y2="718.30" stroke="#333" stroke-width="1.2" />
<line x1="690.50" y1="724.30" x2="690.50" y2="718.30" stroke="#333" stroke-width="1.2" />
<line x1="755.80" y1="724.30" x2="755.80" y2="718.30" stroke="#333" stroke-width="1.2" />
<line x1="821.10" y1="724.30" x2="821.10" y2="718.30" stroke="#333" stroke-width="1.2" />
<line x1="886.40" y1="724.30" x2="886.40" y2="718.30" stroke="#333" stroke-width="1.2" />
<line x1="951.71" y1="724.30" x2="951.71" y2="718.30" stroke="#333" stroke-width="1.2" />
<line x1="1017.01" y1="724.30" x2="1017.01" y2="718.30" stroke="#333" stroke-width="1.2" />
<line x1="657.85" y1="724.30" x2="657.85" y2="721.30" stroke="#333" stroke-width="1.2" />
<line x1="723.15" y1="724.30" x2="723.15" y2="721.30" stroke="#333" stroke-width="1.2" />
<line x1="788.45" y1="724.30" x2="788.45" y2="721.30" stroke="#333" stroke-width="1.2" />
<line x1="853.75" y1="724.30" x2="853.75" y2="721.30" stroke="#333" stroke-width="1.2" />
<line x1="919.05" y1="724.30" x2="919.05" y2="721.30" stroke="#333" stroke-width="1.2" />
<line x1="984.36" y1="724.30" x2="984.36" y2="721.30" stroke="#333" stroke-width="1.2" />
<text x="625.2" y="747.3" font-size="20.5" font-family='"Liberation Serif", serif' text-anchor="middle">0</text>
<text x="690.5" y="747.3" font-size="20.5" font-family='"Liberation Serif", serif' text-anchor="middle">30</text>
<text x="755.8" y="747.3" font-size="20.5" font-family='"Liberation Serif", serif' text-anchor="middle">60</text>
<text x="821.1" y="747.3" font-size="20.5" font-family='"Liberation Serif", serif' text-anchor="middle">90</text>
<text x="886.4" y="747.3" font-size="20.5" font-family='"Liberation Serif", serif' text-anchor="middle">120</text>
<text x="951.7" y="747.3" font-size="20.5" font-family='"Liberation Serif", serif' text-anchor="middle">150</text>
<text x="1017.0" y="747.3" font-size="20.5" font-family='"Liberation Serif", serif' text-anchor="middle">180</text>
<line x1="615.50" y1="715.60" x2="621.50" y2="715.60" stroke="#333" stroke-width="1.2" />
<line x1="615.50" y1="670.20" x2="621.50" y2="670.20" stroke="#333" stroke-width="1.2" />
<line x1="615.50" y1="624.80" x2="621.50" y2="624.80" stroke="#333" stroke-width="1.2" />
<line x1="615.50" y1="579.40" x2="621.50" y2="579.40" stroke="#333" stroke-width="1.2" />
<line x1="615.50" y1="534.00" x2="621.50" y2="534.00" stroke="#333" stroke-width="1.2" />
<line x1="615.50" y1="488.60" x2="621.50" y2="488.60" stroke="#333" stroke-width="1.2" />
<line x1="615.50" y1="443.20" x2="621.50" y2="443.20" stroke="#333" stroke-width="1.2" />
<line x1="615.50" y1="692.90" x2="619.00" y2="692.90" stroke="#333" stroke-width="1.2" />
<line x1="615.50" y1="647.50" x2="619.00" y2="647.50" stroke="#333" stroke-width="1.2" />
<line x1="615.50" y1="602.10" x2="619.00" y2="602.10" stroke="#333" stroke-width="1.2" />
<line x1="615.50" y1="556.70" x2="619.00" y2="556.70" stroke="#333" stroke-width="1.2" />
<line x1="615.50" y1="511.30" x2="619.00" y2="511.30" stroke="#333" stroke-width="1.2" />
<line x1="615.50" y1="465.90" x2="619.00" y2="465.90" stroke="#333" stroke-width="1.2" />
<text x="607.7" y="721.6" font-size="21" font-family='"Liberation Serif", serif' text-anchor="end">0.0</text>
<text x="607.7" y="676.2" font-size="21" font-family='"Liberation Serif", serif' text-anchor="end">0.1</text>
<text x="607.7" y="630.8" font-size="21" font-family='"Liberation Serif", serif' text-anchor="end">0.2</text>
<text x="607.7" y="585.4" font-size="21" font-family='"Liberation Serif", serif' text-anchor="end">0.3</text>
<text x="607.7" y="540.0" font-size="21" font-family='"Liberation Serif", serif' text-anchor="end">0.4</text>
<text x="607.7" y="494.6" font-size="21" font-family='"Liberation Serif", serif' text-anchor="end">0.5</text>
<text x="607.7" y="449.2" font-size="21" font-family='"Liberation Serif", serif' text-anchor="end">0.6</text>
<text x="816.9" y="776.7" font-size="26" font-family='"Liberation Serif", serif' text-anchor="middle" textLength="119.8" lengthAdjust="spacingAndGlyphs">Time (min)</text>
<text x="563.8" y="577.4" font-size="26" font-family='"Liberation Serif", serif' text-anchor="middle" textLength="87.5" lengthAdjust="spacingAndGlyphs" transform="rotate(-90 563.8 577.4)">ln(<tspan font-style="italic">C</tspan><tspan baseline-shift="sub" font-size="70%">0</tspan>/<tspan font-style="italic">C</tspan>)</text>
<text x="942.6" y="451.8" font-size="35" font-family='"Liberation Sans", sans-serif' font-weight="bold">(d)</text>
<line x1="625.20" y1="721.05" x2="1017.01" y2="435.48" stroke="#666666" stroke-width="1" />
<line x1="625.20" y1="715.60" x2="1017.01" y2="547.62" stroke="#ff4040" stroke-width="1" />
<line x1="625.20" y1="710.15" x2="1017.01" y2="617.81" stroke="#3030ff" stroke-width="1" stroke-dasharray="3,2"/>
<line x1="625.20" y1="714.24" x2="1017.01" y2="561.69" stroke="#ff40ff" stroke-width="1" />
<circle cx="992.6" cy="435.3" r="0.9" fill="#777"/><circle cx="1001.5" cy="439" r="0.9" fill="#777"/>
<rect x="621.50" y="711.90" width="7.40" height="7.40" fill="#000000"/>
<rect x="665.03" y="685.57" width="7.40" height="7.40" fill="#000000"/>
<rect x="708.57" y="658.78" width="7.40" height="7.40" fill="#000000"/>
<rect x="752.10" y="632.90" width="7.40" height="7.40" fill="#000000"/>
<rect x="795.64" y="588.87" width="7.40" height="7.40" fill="#000000"/>
<rect x="839.17" y="562.53" width="7.40" height="7.40" fill="#000000"/>
<rect x="882.70" y="525.31" width="7.40" height="7.40" fill="#000000"/>
<rect x="926.24" y="495.80" width="7.40" height="7.40" fill="#000000"/>
<rect x="969.77" y="466.29" width="7.40" height="7.40" fill="#000000"/>
<rect x="1013.31" y="431.78" width="7.40" height="7.40" fill="#000000"/>
<circle cx="625.20" cy="715.60" r="4.30" fill="#ff0000"/>
<circle cx="668.73" cy="695.62" r="4.30" fill="#ff0000"/>
<circle cx="712.27" cy="677.92" r="4.30" fill="#ff0000"/>
<circle cx="755.80" cy="657.94" r="4.30" fill="#ff0000"/>
<circle cx="799.34" cy="643.87" r="4.30" fill="#ff0000"/>
<circle cx="842.87" cy="626.62" r="4.30" fill="#ff0000"/>
<circle cx="886.40" cy="604.82" r="4.30" fill="#ff0000"/>
<circle cx="929.94" cy="582.12" r="4.30" fill="#ff0000"/>
<circle cx="973.47" cy="565.78" r="4.30" fill="#ff0000"/>
<circle cx="1017.01" cy="544.90" r="4.30" fill="#ff0000"/>
<polygon points="625.20,710.96 629.50,718.70 620.90,718.70" fill="#0000ff"/>
<polygon points="668.73,697.34 673.03,705.08 664.43,705.08" fill="#0000ff"/>
<polygon points="712.27,686.44 716.57,694.18 707.97,694.18" fill="#0000ff"/>
<polygon points="755.80,673.27 760.10,681.01 751.50,681.01" fill="#0000ff"/>
<polygon points="799.34,659.20 803.64,666.94 795.04,666.94" fill="#0000ff"/>
<polygon points="842.87,648.30 847.17,656.04 838.57,656.04" fill="#0000ff"/>
<polygon points="886.40,641.04 890.70,648.78 882.10,648.78" fill="#0000ff"/>
<polygon points="929.94,629.69 934.24,637.43 925.64,637.43" fill="#0000ff"/>
<polygon points="973.47,626.06 977.77,633.80 969.17,633.80" fill="#0000ff"/>
<polygon points="1017.01,617.89 1021.31,625.63 1012.71,625.63" fill="#0000ff"/>
<polygon points="625.20,720.24 629.50,712.50 620.90,712.50" fill="#ff00ff"/>
<polygon points="668.73,700.72 673.03,692.98 664.43,692.98" fill="#ff00ff"/>
<polygon points="712.27,684.83 716.57,677.09 707.97,677.09" fill="#ff00ff"/>
<polygon points="755.80,668.94 760.10,661.20 751.50,661.20" fill="#ff00ff"/>
<polygon points="799.34,652.14 803.64,644.40 795.04,644.40" fill="#ff00ff"/>
<polygon points="842.87,634.44 847.17,626.70 838.57,626.70" fill="#ff00ff"/>
<polygon points="886.40,618.55 890.70,610.81 882.10,610.81" fill="#ff00ff"/>
<polygon points="929.94,599.48 934.24,591.74 925.64,591.74" fill="#ff00ff"/>
<polygon points="973.47,581.96 977.77,574.22 969.17,574.22" fill="#ff00ff"/>
<polygon points="1017.01,565.43 1021.31,557.69 1012.71,557.69" fill="#ff00ff"/>
<rect x="634.50" y="435.40" width="6.80" height="6.80" fill="#000000"/>
<text x="656.8" y="443.7" font-size="16.5" font-family='"Liberation Serif", serif' textLength="264.4" lengthAdjust="spacingAndGlyphs">No scavenger, <tspan font-style="italic">k</tspan>=3.49×10<tspan baseline-shift="super" font-size="65%">-3</tspan>cm<tspan baseline-shift="super" font-size="65%">-1</tspan>, <tspan font-style="italic">R</tspan><tspan baseline-shift="super" font-size="65%">2</tspan>=0.99</text>
<circle cx="637.90" cy="461.00" r="4.30" fill="#ff0000"/>
<text x="656.8" y="465.7" font-size="16.5" font-family='"Liberation Serif", serif' textLength="207.9" lengthAdjust="spacingAndGlyphs">TBA, <tspan font-style="italic">k</tspan>=2.07×10<tspan baseline-shift="super" font-size="65%">-3</tspan>cm<tspan baseline-shift="super" font-size="65%">-1</tspan>, <tspan font-style="italic">R</tspan><tspan baseline-shift="super" font-size="65%">2</tspan>=0.99</text>
<polygon points="637.90,478.36 642.20,486.10 633.60,486.10" fill="#0000ff"/>
<text x="656.8" y="488.0" font-size="16.5" font-family='"Liberation Serif", serif' textLength="218.1" lengthAdjust="spacingAndGlyphs">EDTA, <tspan font-style="italic">k</tspan>=1.15×10<tspan baseline-shift="super" font-size="65%">-3</tspan>cm<tspan baseline-shift="super" font-size="65%">-1</tspan>, <tspan font-style="italic">R</tspan><tspan baseline-shift="super" font-size="65%">2</tspan>=0.98</text>
<polygon points="637.90,510.14 642.20,502.40 633.60,502.40" fill="#ff00ff"/>
<text x="656.8" y="510.0" font-size="16.5" font-family='"Liberation Serif", serif' textLength="319.4" lengthAdjust="spacingAndGlyphs">Potassium dichromate, <tspan font-style="italic">k</tspan>=1.89×10<tspan baseline-shift="super" font-size="65%">-3</tspan>cm<tspan baseline-shift="super" font-size="65%">-1</tspan>, <tspan font-style="italic">R</tspan><tspan baseline-shift="super" font-size="65%">2</tspan>=0.99</text>
<rect x="66.60" y="831.80" width="413.00" height="303.80" fill="none" stroke="#333" stroke-width="1.4"/>
<line x1="66.80" y1="1135.60" x2="66.80" y2="1129.60" stroke="#333" stroke-width="1.2" />
<text x="66.8" y="1157.8" font-size="20.8" font-family='"Liberation Serif", serif' text-anchor="middle">3460</text>
<line x1="149.30" y1="1135.60" x2="149.30" y2="1129.60" stroke="#333" stroke-width="1.2" />
<text x="149.3" y="1157.8" font-size="20.8" font-family='"Liberation Serif", serif' text-anchor="middle">3480</text>
<line x1="231.80" y1="1135.60" x2="231.80" y2="1129.60" stroke="#333" stroke-width="1.2" />
<text x="231.8" y="1157.8" font-size="20.8" font-family='"Liberation Serif", serif' text-anchor="middle">3500</text>
<line x1="314.30" y1="1135.60" x2="314.30" y2="1129.60" stroke="#333" stroke-width="1.2" />
<text x="314.3" y="1157.8" font-size="20.8" font-family='"Liberation Serif", serif' text-anchor="middle">3520</text>
<line x1="396.80" y1="1135.60" x2="396.80" y2="1129.60" stroke="#333" stroke-width="1.2" />
<text x="396.8" y="1157.8" font-size="20.8" font-family='"Liberation Serif", serif' text-anchor="middle">3540</text>
<line x1="479.30" y1="1135.60" x2="479.30" y2="1129.60" stroke="#333" stroke-width="1.2" />
<text x="479.3" y="1157.8" font-size="20.8" font-family='"Liberation Serif", serif' text-anchor="middle">3560</text>
<line x1="108.05" y1="1135.60" x2="108.05" y2="1132.10" stroke="#333" stroke-width="1.2" />
<line x1="190.55" y1="1135.60" x2="190.55" y2="1132.10" stroke="#333" stroke-width="1.2" />
<line x1="273.05" y1="1135.60" x2="273.05" y2="1132.10" stroke="#333" stroke-width="1.2" />
<line x1="355.55" y1="1135.60" x2="355.55" y2="1132.10" stroke="#333" stroke-width="1.2" />
<line x1="438.05" y1="1135.60" x2="438.05" y2="1132.10" stroke="#333" stroke-width="1.2" />
<line x1="66.60" y1="852.60" x2="72.60" y2="852.60" stroke="#333" stroke-width="1.2" />
<line x1="66.60" y1="940.30" x2="72.60" y2="940.30" stroke="#333" stroke-width="1.2" />
<line x1="66.60" y1="1027.50" x2="72.60" y2="1027.50" stroke="#333" stroke-width="1.2" />
<line x1="66.60" y1="1114.20" x2="72.60" y2="1114.20" stroke="#333" stroke-width="1.2" />
<line x1="66.60" y1="896.40" x2="70.10" y2="896.40" stroke="#333" stroke-width="1.2" />
<line x1="66.60" y1="983.90" x2="70.10" y2="983.90" stroke="#333" stroke-width="1.2" />
<line x1="66.60" y1="1070.80" x2="70.10" y2="1070.80" stroke="#333" stroke-width="1.2" />
<text x="272.8" y="1190.6" font-size="25.5" font-family='"Liberation Serif", serif' text-anchor="middle" textLength="189.7" lengthAdjust="spacingAndGlyphs">Magnetic field (G)</text>
<text x="36.5" y="986.8" font-size="26" font-family='"Liberation Serif", serif' text-anchor="middle" textLength="147.4" lengthAdjust="spacingAndGlyphs" transform="rotate(-90 36.5 986.8)">Intensity (a.u.)</text>
<line x1="501.30" y1="831.00" x2="501.30" y2="1197.50" stroke="#888" stroke-width="1.2" />
<polyline points="67.10,897.62 67.60,897.19 68.10,896.83 68.60,896.49 69.10,896.95 69.60,897.82 70.10,898.06 70.60,897.73 71.10,897.33 71.60,897.74 72.10,898.09 72.60,897.41 73.10,897.23 73.60,897.52 74.10,897.32 74.60,897.12 75.10,895.87 75.60,895.90 76.10,895.24 76.60,896.04 77.10,896.06 77.60,897.08 78.10,897.27 78.60,897.79 79.10,896.45 79.60,896.12 80.10,896.19 80.60,897.46 81.10,896.99 81.60,896.78 82.10,896.26 82.60,896.61 83.10,897.35 83.60,897.44 84.10,897.82 84.60,897.73 85.10,897.85 85.60,897.81 86.10,897.44 86.60,897.76 87.10,897.22 87.60,897.21 88.10,897.84 88.60,897.68 89.10,898.06 89.60,897.47 90.10,897.91 90.60,898.46 91.10,898.78 91.60,898.51 92.10,897.59 92.60,897.50 93.10,897.99 93.60,898.29 94.10,897.98 94.60,898.39 95.10,898.76 95.60,898.47 96.10,898.25 96.60,897.34 97.10,897.73 97.60,897.06 98.10,897.01 98.60,896.86 99.10,897.86 99.60,898.70 100.10,898.16 100.60,897.35 101.10,897.11 101.60,896.79 102.10,896.95 102.60,896.60 103.10,898.17 103.60,898.72 104.10,898.62 104.60,897.84 105.10,897.39 105.60,898.28 106.10,898.26 106.60,898.23 107.10,897.67 107.60,897.82 108.10,897.88 108.60,897.17 109.10,897.23 109.60,897.11 110.10,898.22 110.60,898.54 111.10,898.74 111.60,898.51 112.10,898.03 112.60,898.55 113.10,898.23 113.60,898.68 114.10,897.56 114.60,897.73 115.10,896.64 115.60,896.28 116.10,895.97 116.60,896.35 117.10,897.42 117.60,898.65 118.10,898.68 118.60,898.31 119.10,897.33 119.60,897.97 120.10,898.19 120.60,897.99 121.10,898.10 121.60,898.44 122.10,898.04 122.60,897.67 123.10,897.44 123.60,897.43 124.10,897.60 124.60,897.17 125.10,898.15 125.60,898.12 126.10,898.58 126.60,897.83 127.10,897.68 127.60,896.68 128.10,896.42 128.60,896.66 129.10,896.60 129.60,897.55 130.10,896.54 130.60,897.93 131.10,897.12 131.60,898.34 132.10,898.04 132.60,897.71 133.10,897.94 133.60,898.58 134.10,899.29 134.60,898.56 135.10,897.79 135.60,897.36 136.10,898.02 136.60,897.84 137.10,898.29 137.60,897.38 138.10,897.34 138.60,896.75 139.10,897.74 139.60,897.98 140.10,899.06 140.60,898.46 141.10,898.21 141.60,897.59 142.10,897.31 142.60,897.66 143.10,897.63 143.60,897.76 144.10,897.10 144.60,896.89 145.10,897.84 145.60,898.18 146.10,898.07 146.60,897.43 147.10,898.44 147.60,898.25 148.10,897.99 148.60,897.01 149.10,896.87 149.60,897.32 150.10,897.72 150.60,898.61 151.10,897.89 151.60,898.13 152.10,897.83 152.60,898.13 153.10,897.38 153.60,897.06 154.10,897.77 154.60,898.06 155.10,898.79 155.60,898.13 156.10,898.17 156.60,897.78 157.10,898.11 157.60,898.17 158.10,898.35 158.60,898.06 159.10,898.77 159.60,899.17 160.10,899.35 160.60,898.51 161.10,897.52 161.60,897.79 162.10,898.53 162.60,899.13 163.10,898.93 163.60,898.84 164.10,899.31 164.60,899.49 165.10,898.90 165.60,899.22 166.10,898.17 166.60,898.78 167.10,898.26 167.60,899.25 168.10,899.70 168.60,900.13 169.10,899.10 169.60,897.31 170.10,896.91 170.60,896.89 171.10,897.61 171.60,897.52 172.10,897.11 172.60,895.98 173.10,895.57 173.60,896.24 174.10,896.99 174.60,896.72 175.10,895.96 175.60,894.80 176.10,893.99 176.60,893.09 177.10,892.08 177.60,891.32 178.10,890.26 178.60,889.40 179.10,886.61 179.60,884.16 180.10,881.35 180.60,879.21 181.10,877.28 181.60,874.96 182.10,873.12 182.60,870.79 183.10,869.66 183.60,866.25 184.10,863.98 184.60,860.60 185.10,859.20 185.60,856.28 186.10,854.27 186.60,853.12 187.10,853.02 187.60,853.32 188.10,853.09 188.60,854.14 189.10,854.69 189.60,855.98 190.10,859.59 190.60,864.32 191.10,869.58 191.60,876.39 192.10,885.49 192.60,894.40 193.10,901.66 193.60,907.59 194.10,913.67 194.60,919.03 195.10,923.75 195.60,927.23 196.10,931.42 196.60,936.21 197.10,940.33 197.60,942.92 198.10,943.53 198.60,944.76 199.10,945.14 199.60,946.37 200.10,944.69 200.60,943.24 201.10,940.49 201.60,938.08 202.10,936.73 202.60,934.84 203.10,932.36 203.60,928.90 204.10,925.52 204.60,921.97 205.10,919.60 205.60,917.39 206.10,916.80 206.60,914.38 207.10,912.60 207.60,910.89 208.10,910.50 208.60,909.40 209.10,908.15 209.60,907.04 210.10,905.40 210.60,904.07 211.10,901.39 211.60,901.43 212.10,901.19 212.60,901.70 213.10,900.56 213.60,899.50 214.10,898.57 214.60,897.55 215.10,896.81 215.60,896.13 216.10,896.32 216.60,896.04 217.10,895.37 217.60,893.73 218.10,892.47 218.60,892.49 219.10,892.10 219.60,891.34 220.10,888.99 220.60,886.51 221.10,884.50 221.60,882.94 222.10,880.95 222.60,878.40 223.10,874.97 223.60,871.57 224.10,867.21 224.60,864.08 225.10,860.87 225.60,859.48 226.10,856.87 226.60,855.53 227.10,854.14 227.60,852.67 228.10,850.66 228.60,849.19 229.10,849.32 229.60,849.55 230.10,850.42 230.60,852.39 231.10,853.95 231.60,855.66 232.10,857.95 232.60,862.98 233.10,867.38 233.60,872.85 234.10,879.60 234.60,885.72 235.10,891.47 235.60,895.77 236.10,900.02 236.60,902.62 237.10,904.74 237.60,906.21 238.10,906.94 238.60,905.96 239.10,905.78 239.60,905.63 240.10,905.05 240.60,902.64 241.10,899.63 241.60,897.40 242.10,896.65 242.60,895.53 243.10,894.46 243.60,893.21 244.10,892.18 244.60,891.48 245.10,891.41 245.60,892.30 246.10,894.04 246.60,896.81 247.10,900.15 247.60,905.74 248.10,910.17 248.60,914.83 249.10,918.30 249.60,922.57 250.10,926.57 250.60,931.34 251.10,935.24 251.60,937.07 252.10,939.35 252.60,941.68 253.10,945.61 253.60,949.38 254.10,951.31 254.60,950.57 255.10,947.77 255.60,945.74 256.10,943.69 256.60,941.19 257.10,938.90 257.60,936.28 258.10,935.16 258.60,933.32 259.10,931.99 259.60,928.70 260.10,925.80 260.60,922.41 261.10,919.02 261.60,915.04 262.10,911.66 262.60,909.08 263.10,907.75 263.60,906.62 264.10,905.96 264.60,904.85 265.10,903.14 265.60,901.91 266.10,900.90 266.60,901.40 267.10,901.14 267.60,901.14 268.10,900.65 268.60,899.84 269.10,898.45 269.60,898.22 270.10,898.42 270.60,897.30 271.10,896.88 271.60,896.21 272.10,896.98 272.60,895.29 273.10,893.92 273.60,891.71 274.10,891.98 274.60,890.77 275.10,890.66 275.60,887.55 276.10,885.96 276.60,882.44 277.10,880.09 277.60,877.40 278.10,874.31 278.60,871.92 279.10,868.84 279.60,866.15 280.10,862.69 280.60,859.84 281.10,858.20 281.60,856.43 282.10,854.50 282.60,852.71 283.10,851.01 283.60,849.66 284.10,849.13 284.60,849.98 285.10,850.30 285.60,851.17 286.10,851.60 286.60,853.31 287.10,856.81 287.60,861.45 288.10,867.63 288.60,872.47 289.10,879.26 289.60,884.14 290.10,888.91 290.60,893.34 291.10,897.11 291.60,901.18 292.10,904.30 292.60,906.50 293.10,907.23 293.60,906.99 294.10,907.20 294.60,905.69 295.10,904.32 295.60,901.64 296.10,901.01 296.60,898.72 297.10,896.60 297.60,894.18 298.10,893.42 298.60,892.26 299.10,890.68 299.60,888.83 300.10,888.36 300.60,888.92 301.10,890.20 301.60,892.91 302.10,895.94 302.60,899.48 303.10,904.53 303.60,908.76 304.10,914.15 304.60,919.54 305.10,926.61 305.60,931.16 306.10,935.75 306.60,937.94 307.10,940.82 307.60,943.06 308.10,946.35 308.60,947.79 309.10,948.30 309.60,947.07 310.10,946.31 310.60,946.28 311.10,945.66 311.60,944.18 312.10,941.49 312.60,938.95 313.10,937.71 313.60,934.38 314.10,932.01 314.60,928.02 315.10,927.19 315.60,923.65 316.10,921.05 316.60,916.80 317.10,913.96 317.60,912.21 318.10,911.27 318.60,909.96 319.10,907.43 319.60,904.80 320.10,903.60 320.60,902.92 321.10,902.80 321.60,902.06 322.10,900.73 322.60,900.03 323.10,899.46 323.60,900.11 324.10,900.60 324.60,900.15 325.10,898.77 325.60,897.45 326.10,896.79 326.60,896.30 327.10,895.72 327.60,894.82 328.10,894.58 328.60,893.46 329.10,892.78 329.60,890.95 330.10,889.08 330.60,886.84 331.10,885.00 331.60,882.97 332.10,881.20 332.60,878.82 333.10,875.88 333.60,873.25 334.10,870.07 334.60,867.68 335.10,864.68 335.60,861.61 336.10,859.52 336.60,857.70 337.10,856.57 337.60,854.36 338.10,852.55 338.60,851.30 339.10,851.41 339.60,852.02 340.10,853.70 340.60,854.76 341.10,856.84 341.60,859.17 342.10,862.99 342.60,866.81 343.10,871.81 343.60,877.31 344.10,886.18 344.60,894.70 345.10,903.61 345.60,911.60 346.10,918.29 346.60,923.60 347.10,928.75 347.60,933.66 348.10,937.38 348.60,938.81 349.10,941.03 349.60,943.43 350.10,946.19 350.60,947.02 351.10,945.95 351.60,945.37 352.10,944.01 352.60,941.96 353.10,939.92 353.60,937.56 354.10,936.36 354.60,933.82 355.10,932.90 355.60,931.01 356.10,929.09 356.60,927.04 357.10,925.77 357.60,923.30 358.10,920.03 358.60,916.40 359.10,913.96 359.60,912.29 360.10,911.26 360.60,909.77 361.10,908.21 361.60,905.96 362.10,904.44 362.60,903.25 363.10,903.28 363.60,903.36 364.10,902.80 364.60,902.03 365.10,901.39 365.60,900.46 366.10,899.59 366.60,899.48 367.10,899.73 367.60,900.46 368.10,899.16 368.60,898.82 369.10,898.19 369.60,898.42 370.10,897.36 370.60,897.35 371.10,898.08 371.60,899.26 372.10,899.07 372.60,898.57 373.10,898.70 373.60,897.61 374.10,897.51 374.60,897.36 375.10,898.97 375.60,899.81 376.10,900.05 376.60,899.83 377.10,899.12 377.60,898.92 378.10,898.48 378.60,898.28 379.10,898.31 379.60,899.49 380.10,899.40 380.60,898.92 381.10,898.06 381.60,898.77 382.10,898.76 382.60,899.36 383.10,898.24 383.60,898.16 384.10,897.35 384.60,898.20 385.10,900.39 385.60,899.76 386.10,898.95 386.60,898.61 387.10,899.02 387.60,898.73 388.10,899.07 388.60,899.63 389.10,900.61 389.60,899.88 390.10,900.14 390.60,899.79 391.10,900.55 391.60,899.62 392.10,899.33 392.60,898.90 393.10,899.00 393.60,899.74 394.10,899.77 394.60,899.67 395.10,899.38 395.60,899.09 396.10,899.98 396.60,899.64 397.10,899.61 397.60,899.75 398.10,901.14 398.60,902.32 399.10,901.77 399.60,900.80 400.10,900.57 400.60,900.49 401.10,899.91 401.60,899.23 402.10,899.52 402.60,899.59 403.10,898.74 403.60,897.84 404.10,898.56 404.60,898.99 405.10,899.62 405.60,899.40 406.10,900.07 406.60,899.98 407.10,900.12 407.60,899.40 408.10,899.39 408.60,898.66 409.10,899.63 409.60,899.80 410.10,899.94 410.60,899.23 411.10,899.14 411.60,899.83 412.10,899.24 412.60,898.85 413.10,898.33 413.60,900.32 414.10,901.29 414.60,901.42 415.10,900.54 415.60,901.08 416.10,901.02 416.60,900.51 417.10,900.10 417.60,900.46 418.10,900.96 418.60,900.13 419.10,900.82 419.60,901.33 420.10,901.85 420.60,901.25 421.10,899.46 421.60,899.50 422.10,899.08 422.60,900.26 423.10,900.29 423.60,900.22 424.10,899.20 424.60,899.05 425.10,898.86 425.60,899.52 426.10,899.06 426.60,899.25 427.10,898.30 427.60,899.18 428.10,899.47 428.60,901.12 429.10,901.49 429.60,901.39 430.10,899.98 430.60,898.60 431.10,898.01 431.60,898.64 432.10,899.12 432.60,898.74 433.10,899.15 433.60,898.38 434.10,899.49 434.60,899.28 435.10,899.86 435.60,899.68 436.10,899.48 436.60,899.34 437.10,898.57 437.60,898.82 438.10,900.00 438.60,901.77 439.10,902.43 439.60,901.88 440.10,900.60 440.60,900.66 441.10,900.30 441.60,900.60 442.10,899.76 442.60,899.84 443.10,899.66 443.60,899.77 444.10,899.20 444.60,899.24 445.10,900.38 445.60,900.87 446.10,900.94 446.60,900.10 447.10,900.48 447.60,900.06 448.10,899.71 448.60,899.81 449.10,900.48 449.60,900.64 450.10,900.95 450.60,900.50 451.10,900.48 451.60,899.49 452.10,900.53 452.60,899.56 453.10,899.49 453.60,898.52 454.10,899.78 454.60,900.40 455.10,901.33 455.60,900.25 456.10,900.33 456.60,899.52 457.10,899.96 457.60,899.86 458.10,899.56 458.60,898.88 459.10,898.45 459.60,898.17 460.10,898.86 460.60,899.23 461.10,900.10 461.60,901.18 462.10,900.91 462.60,900.02 463.10,898.90 463.60,898.55 464.10,898.71 464.60,899.29 465.10,899.42 465.60,899.06 466.10,899.19 466.60,899.45 467.10,900.58 467.60,900.29 468.10,900.65 468.60,900.50 469.10,901.05 469.60,900.96 470.10,901.13 470.60,900.73 471.10,899.83 471.60,899.57 472.10,899.25 472.60,900.05 473.10,899.48 473.60,900.39 474.10,900.35 474.60,900.42 475.10,898.82 475.60,898.63 476.10,899.18 476.60,899.66 477.10,899.84 477.60,899.58 478.10,900.19 478.60,899.80 479.10,900.10" fill="none" stroke="#2bb37c" stroke-width="1.15" stroke-dasharray="3,1.6" stroke-linejoin="round"/>
<polyline points="67.10,998.52 67.60,997.89 68.10,996.39 68.60,997.19 69.10,996.89 69.60,997.05 70.10,996.69 70.60,996.77 71.10,996.57 71.60,996.38 72.10,995.89 72.60,995.67 73.10,995.71 73.60,996.70 74.10,997.26 74.60,996.66 75.10,996.40 75.60,996.84 76.10,997.87 76.60,998.04 77.10,997.30 77.60,997.34 78.10,997.12 78.60,997.00 79.10,996.37 79.60,997.27 80.10,997.89 80.60,998.75 81.10,997.91 81.60,998.23 82.10,997.46 82.60,997.60 83.10,998.29 83.60,998.90 84.10,998.75 84.60,997.62 85.10,997.43 85.60,998.19 86.10,998.01 86.60,997.11 87.10,996.45 87.60,996.68 88.10,997.50 88.60,998.21 89.10,998.34 89.60,998.66 90.10,997.59 90.60,997.84 91.10,998.41 91.60,999.24 92.10,998.97 92.60,998.12 93.10,998.57 93.60,998.06 94.10,997.94 94.60,997.36 95.10,998.10 95.60,997.96 96.10,997.90 96.60,997.45 97.10,997.70 97.60,997.51 98.10,997.14 98.60,997.08 99.10,997.53 99.60,997.61 100.10,997.51 100.60,997.42 101.10,997.38 101.60,997.57 102.10,996.82 102.60,997.79 103.10,998.73 103.60,1000.10 104.10,999.50 104.60,998.81 105.10,997.98 105.60,998.13 106.10,998.49 106.60,997.86 107.10,998.28 107.60,997.58 108.10,998.79 108.60,998.41 109.10,998.14 109.60,997.64 110.10,997.89 110.60,998.20 111.10,998.30 111.60,997.75 112.10,996.80 112.60,996.98 113.10,997.52 113.60,998.53 114.10,998.17 114.60,998.32 115.10,998.06 115.60,997.72 116.10,997.19 116.60,997.92 117.10,997.62 117.60,998.23 118.10,997.43 118.60,997.56 119.10,997.60 119.60,997.84 120.10,997.75 120.60,997.04 121.10,997.50 121.60,998.60 122.10,998.58 122.60,998.35 123.10,998.14 123.60,998.05 124.10,998.03 124.60,997.71 125.10,997.76 125.60,997.39 126.10,997.44 126.60,997.69 127.10,997.66 127.60,997.45 128.10,997.93 128.60,998.28 129.10,998.86 129.60,998.90 130.10,999.07 130.60,999.69 131.10,998.80 131.60,998.90 132.10,997.76 132.60,998.94 133.10,999.34 133.60,998.62 134.10,997.38 134.60,996.93 135.10,998.14 135.60,998.90 136.10,998.58 136.60,998.44 137.10,998.40 137.60,998.40 138.10,998.66 138.60,997.38 139.10,997.70 139.60,996.79 140.10,998.22 140.60,997.84 141.10,997.91 141.60,997.65 142.10,997.36 142.60,997.35 143.10,996.50 143.60,996.89 144.10,997.52 144.60,998.66 145.10,998.62 145.60,998.86 146.10,998.42 146.60,998.45 147.10,998.24 147.60,998.71 148.10,998.60 148.60,998.24 149.10,997.71 149.60,997.90 150.10,997.69 150.60,998.22 151.10,998.01 151.60,998.61 152.10,997.80 152.60,998.14 153.10,998.11 153.60,998.29 154.10,999.03 154.60,999.02 155.10,999.99 155.60,999.53 156.10,999.07 156.60,998.13 157.10,997.90 157.60,998.22 158.10,998.41 158.60,998.10 159.10,997.28 159.60,997.16 160.10,996.31 160.60,997.27 161.10,997.05 161.60,997.72 162.10,997.46 162.60,997.90 163.10,997.59 163.60,996.92 164.10,996.33 164.60,996.06 165.10,996.41 165.60,997.57 166.10,998.00 166.60,998.70 167.10,997.38 167.60,997.95 168.10,997.50 168.60,998.04 169.10,998.12 169.60,998.99 170.10,999.05 170.60,998.80 171.10,997.53 171.60,997.63 172.10,997.39 172.60,998.10 173.10,997.73 173.60,998.51 174.10,997.16 174.60,996.94 175.10,996.32 175.60,996.65 176.10,995.92 176.60,994.81 177.10,993.68 177.60,993.30 178.10,993.41 178.60,993.19 179.10,991.16 179.60,988.15 180.10,985.93 180.60,985.29 181.10,983.63 181.60,981.76 182.10,979.95 182.60,978.97 183.10,977.32 183.60,974.59 184.10,971.71 184.60,969.86 185.10,967.89 185.60,967.61 186.10,966.32 186.60,966.43 187.10,966.37 187.60,967.20 188.10,966.68 188.60,966.57 189.10,967.00 189.60,968.76 190.10,971.20 190.60,974.73 191.10,978.51 191.60,984.42 192.10,988.82 192.60,994.31 193.10,998.99 193.60,1005.01 194.10,1009.58 194.60,1013.21 195.10,1016.28 195.60,1019.62 196.10,1021.62 196.60,1024.90 197.10,1026.85 197.60,1029.65 198.10,1030.83 198.60,1031.64 199.10,1031.89 199.60,1032.29 200.10,1032.25 200.60,1031.01 201.10,1029.95 201.60,1029.11 202.10,1027.15 202.60,1024.52 203.10,1022.51 203.60,1021.35 204.10,1019.25 204.60,1016.25 205.10,1014.14 205.60,1012.51 206.10,1011.00 206.60,1010.29 207.10,1009.00 207.60,1007.91 208.10,1005.98 208.60,1005.14 209.10,1003.98 209.60,1003.52 210.10,1003.13 210.60,1002.86 211.10,1002.40 211.60,1001.39 212.10,1000.61 212.60,999.75 213.10,998.95 213.60,998.80 214.10,997.95 214.60,998.26 215.10,997.52 215.60,997.23 216.10,995.95 216.60,995.18 217.10,995.14 217.60,994.58 218.10,994.89 218.60,993.92 219.10,992.58 219.60,990.96 220.10,989.40 220.60,989.17 221.10,988.56 221.60,988.18 222.10,985.93 222.60,983.35 223.10,981.76 223.60,979.87 224.10,977.54 224.60,974.97 225.10,973.94 225.60,972.65 226.10,970.56 226.60,968.17 227.10,966.65 227.60,965.11 228.10,963.45 228.60,962.60 229.10,962.45 229.60,963.19 230.10,963.74 230.60,965.91 231.10,966.43 231.60,967.80 232.10,969.41 232.60,973.39 233.10,977.45 233.60,981.26 234.10,985.23 234.60,988.34 235.10,991.53 235.60,995.14 236.10,998.54 236.60,1000.56 237.10,1001.54 237.60,1002.75 238.10,1004.34 238.60,1004.69 239.10,1004.35 239.60,1002.51 240.10,1001.04 240.60,1000.47 241.10,998.95 241.60,998.21 242.10,996.64 242.60,996.40 243.10,995.18 243.60,994.15 244.10,993.61 244.60,993.51 245.10,992.70 245.60,993.20 246.10,993.93 246.60,995.93 247.10,998.27 247.60,1003.11 248.10,1008.17 248.60,1011.28 249.10,1014.60 249.60,1017.70 250.10,1021.14 250.60,1023.86 251.10,1025.65 251.60,1027.28 252.10,1029.05 252.60,1030.38 253.10,1032.56 253.60,1033.77 254.10,1035.29 254.60,1034.39 255.10,1033.41 255.60,1032.20 256.10,1031.67 256.60,1030.69 257.10,1028.96 257.60,1026.94 258.10,1024.55 258.60,1023.11 259.10,1021.35 259.60,1020.17 260.10,1018.86 260.60,1016.94 261.10,1013.55 261.60,1009.83 262.10,1007.17 262.60,1005.82 263.10,1005.42 263.60,1004.96 264.10,1003.78 264.60,1002.62 265.10,1002.38 265.60,1002.35 266.10,1001.33 266.60,1000.25 267.10,1000.21 267.60,1000.49 268.10,1000.88 268.60,1000.99 269.10,1000.91 269.60,1000.62 270.10,999.94 270.60,998.28 271.10,997.13 271.60,996.45 272.10,996.38 272.60,996.23 273.10,995.26 273.60,994.29 274.10,993.71 274.60,993.25 275.10,992.73 275.60,991.37 276.10,990.28 276.60,988.94 277.10,985.66 277.60,982.68 278.10,979.96 278.60,978.38 279.10,976.77 279.60,975.49 280.10,973.77 280.60,971.41 281.10,970.25 281.60,969.01 282.10,967.70 282.60,965.71 283.10,965.05 283.60,964.47 284.10,964.25 284.60,963.79 285.10,964.02 285.60,964.36 286.10,965.75 286.60,966.92 287.10,969.22 287.60,972.13 288.10,977.24 288.60,980.84 289.10,986.07 289.60,988.91 290.10,992.60 290.60,995.43 291.10,998.54 291.60,1001.61 292.10,1003.90 292.60,1005.16 293.10,1005.13 293.60,1005.01 294.10,1004.97 294.60,1005.02 295.10,1004.03 295.60,1003.24 296.10,1002.30 296.60,1000.90 297.10,998.28 297.60,995.60 298.10,993.59 298.60,994.02 299.10,993.38 299.60,993.87 300.10,992.95 300.60,993.98 301.10,994.82 301.60,996.33 302.10,997.60 302.60,999.73 303.10,1003.09 303.60,1006.52 304.10,1010.52 304.60,1015.82 305.10,1019.41 305.60,1022.51 306.10,1023.98 306.60,1027.05 307.10,1029.21 307.60,1031.27 308.10,1033.22 308.60,1033.61 309.10,1035.05 309.60,1034.57 310.10,1035.11 310.60,1033.87 311.10,1031.93 311.60,1030.13 312.10,1028.94 312.60,1029.35 313.10,1028.10 313.60,1026.22 314.10,1022.90 314.60,1021.39 315.10,1020.13 315.60,1018.78 316.10,1015.91 316.60,1012.22 317.10,1010.53 317.60,1009.97 318.10,1009.52 318.60,1008.55 319.10,1006.56 319.60,1004.86 320.10,1004.03 320.60,1002.46 321.10,1002.09 321.60,1000.99 322.10,1001.35 322.60,1001.12 323.10,1000.73 323.60,999.64 324.10,998.58 324.60,998.14 325.10,997.89 325.60,997.60 326.10,996.70 326.60,996.44 327.10,995.78 327.60,995.25 328.10,994.11 328.60,994.21 329.10,994.05 329.60,994.62 330.10,992.74 330.60,991.07 331.10,989.28 331.60,988.33 332.10,986.80 332.60,985.36 333.10,983.47 333.60,981.27 334.10,978.12 334.60,976.44 335.10,975.05 335.60,973.07 336.10,970.74 336.60,969.38 337.10,968.75 337.60,967.50 338.10,966.42 338.60,965.79 339.10,965.32 339.60,965.41 340.10,966.19 340.60,967.81 341.10,968.22 341.60,969.58 342.10,972.55 342.60,977.17 343.10,979.79 343.60,985.10 344.10,989.98 344.60,997.61 345.10,1002.75 345.60,1009.46 346.10,1014.23 346.60,1017.19 347.10,1020.66 347.60,1023.43 348.10,1025.35 348.60,1028.10 349.10,1030.29 349.60,1033.60 350.10,1033.07 350.60,1034.11 351.10,1034.18 351.60,1034.87 352.10,1033.37 352.60,1031.00 353.10,1028.98 353.60,1026.78 354.10,1025.27 354.60,1023.91 355.10,1022.83 355.60,1021.82 356.10,1020.04 356.60,1019.69 357.10,1018.73 357.60,1017.12 358.10,1015.14 358.60,1012.60 359.10,1010.92 359.60,1009.36 360.10,1007.84 360.60,1006.52 361.10,1004.21 361.60,1003.60 362.10,1003.41 362.60,1002.89 363.10,1002.49 363.60,1001.05 364.10,1000.59 364.60,999.70 365.10,1000.52 365.60,1001.89 366.10,1002.48 366.60,1001.37 367.10,1000.49 367.60,999.99 368.10,1000.51 368.60,1000.19 369.10,1000.33 369.60,1000.12 370.10,999.63 370.60,999.23 371.10,998.12 371.60,998.12 372.10,997.62 372.60,998.28 373.10,998.02 373.60,998.65 374.10,998.88 374.60,998.65 375.10,998.21 375.60,997.57 376.10,998.49 376.60,999.58 377.10,1000.34 377.60,999.84 378.10,999.71 378.60,998.65 379.10,999.44 379.60,998.49 380.10,997.92 380.60,998.41 381.10,999.38 381.60,1000.14 382.10,999.04 382.60,998.24 383.10,998.74 383.60,998.01 384.10,997.80 384.60,997.97 385.10,999.87 385.60,1000.70 386.10,1000.54 386.60,1001.48 387.10,1000.64 387.60,1000.72 388.10,998.85 388.60,998.61 389.10,999.09 389.60,999.52 390.10,1000.31 390.60,999.70 391.10,999.66 391.60,999.28 392.10,999.08 392.60,999.33 393.10,999.82 393.60,1000.34 394.10,1000.30 394.60,999.57 395.10,999.42 395.60,999.63 396.10,1000.49 396.60,1001.54 397.10,1001.95 397.60,1001.49 398.10,1000.25 398.60,999.50 399.10,999.12 399.60,998.76 400.10,998.97 400.60,999.18 401.10,999.96 401.60,999.96 402.10,1000.06 402.60,999.20 403.10,1000.11 403.60,1000.42 404.10,1001.75 404.60,1001.38 405.10,1001.82 405.60,1000.92 406.10,1000.89 406.60,1001.43 407.10,1001.01 407.60,1001.21 408.10,1000.77 408.60,1001.50 409.10,1001.32 409.60,1001.14 410.10,1000.67 410.60,1000.52 411.10,999.57 411.60,999.56 412.10,999.10 412.60,999.43 413.10,999.81 413.60,1000.29 414.10,999.72 414.60,1000.55 415.10,1000.88 415.60,1001.85 416.10,1000.80 416.60,1000.24 417.10,1000.16 417.60,1000.51 418.10,999.80 418.60,999.89 419.10,1001.02 419.60,1000.95 420.10,1001.07 420.60,999.92 421.10,1000.71 421.60,1000.89 422.10,1000.19 422.60,1000.32 423.10,1000.36 423.60,1000.81 424.10,1000.55 424.60,999.95 425.10,999.84 425.60,1000.73 426.10,1000.27 426.60,1000.87 427.10,999.61 427.60,1000.33 428.10,999.89 428.60,999.29 429.10,998.99 429.60,998.56 430.10,999.53 430.60,1000.23 431.10,1000.21 431.60,999.94 432.10,999.90 432.60,1000.46 433.10,1001.64 433.60,1001.14 434.10,1000.69 434.60,999.97 435.10,1000.38 435.60,1001.21 436.10,1001.25 436.60,1000.72 437.10,1000.24 437.60,999.98 438.10,1000.84 438.60,1000.90 439.10,1000.65 439.60,999.57 440.10,999.89 440.60,1000.70 441.10,1000.86 441.60,1000.23 442.10,999.96 442.60,999.26 443.10,998.98 443.60,999.34 444.10,999.88 444.60,1000.64 445.10,1000.84 445.60,1001.35 446.10,1001.20 446.60,1001.61 447.10,1001.62 447.60,1001.46 448.10,1000.83 448.60,1000.72 449.10,1000.49 449.60,1000.20 450.10,999.94 450.60,999.44 451.10,999.34 451.60,999.29 452.10,999.98 452.60,999.32 453.10,999.29 453.60,999.47 454.10,1000.27 454.60,999.92 455.10,1000.23 455.60,999.64 456.10,1000.05 456.60,1000.36 457.10,1000.60 457.60,1000.48 458.10,1000.37 458.60,1000.52 459.10,1000.62 459.60,1000.24 460.10,1000.89 460.60,1000.03 461.10,999.56 461.60,998.63 462.10,999.14 462.60,999.13 463.10,999.22 463.60,999.85 464.10,999.83 464.60,1000.27 465.10,1000.32 465.60,1000.40 466.10,1000.41 466.60,1000.97 467.10,1001.45 467.60,1001.10 468.10,1000.34 468.60,999.78 469.10,1000.20 469.60,1000.62 470.10,1000.67 470.60,1000.46 471.10,1000.57 471.60,1000.72 472.10,1000.90 472.60,999.95 473.10,999.80 473.60,999.49 474.10,1000.92 474.60,1001.11 475.10,1001.11 475.60,999.91 476.10,1000.02 476.60,1000.54 477.10,1000.88 477.60,1001.86 478.10,1001.67 478.60,1002.23 479.10,1001.45" fill="none" stroke="#2f87e8" stroke-width="1.15" stroke-dasharray="3,1.6" stroke-linejoin="round"/>
<polyline points="67.10,1072.81 67.60,1072.54 68.10,1073.03 68.60,1072.22 69.10,1072.60 69.60,1072.54 70.10,1073.23 70.60,1072.78 71.10,1072.84 71.60,1073.18 72.10,1072.78 72.60,1072.50 73.10,1072.45 73.60,1073.02 74.10,1073.25 74.60,1072.90 75.10,1072.51 75.60,1072.64 76.10,1073.34 76.60,1073.25 77.10,1073.89 77.60,1073.76 78.10,1074.00 78.60,1073.71 79.10,1072.78 79.60,1072.27 80.10,1071.44 80.60,1071.86 81.10,1072.43 81.60,1072.74 82.10,1072.95 82.60,1072.22 83.10,1072.63 83.60,1072.02 84.10,1072.61 84.60,1072.25 85.10,1072.36 85.60,1072.07 86.10,1071.84 86.60,1072.30 87.10,1073.09 87.60,1073.72 88.10,1073.33 88.60,1072.77 89.10,1072.18 89.60,1072.76 90.10,1072.26 90.60,1073.13 91.10,1072.76 91.60,1073.26 92.10,1072.90 92.60,1073.51 93.10,1073.97 93.60,1074.25 94.10,1073.89 94.60,1074.25 95.10,1074.33 95.60,1074.24 96.10,1074.32 96.60,1073.89 97.10,1073.97 97.60,1073.02 98.10,1072.84 98.60,1073.12 99.10,1072.96 99.60,1073.34 100.10,1073.17 100.60,1073.81 101.10,1072.67 101.60,1072.49 102.10,1072.64 102.60,1073.22 103.10,1073.30 103.60,1072.08 104.10,1072.66 104.60,1072.36 105.10,1073.67 105.60,1072.66 106.10,1073.20 106.60,1072.76 107.10,1073.82 107.60,1073.18 108.10,1073.02 108.60,1073.60 109.10,1073.64 109.60,1073.61 110.10,1072.60 110.60,1072.52 111.10,1073.29 111.60,1074.09 112.10,1074.22 112.60,1073.05 113.10,1072.83 113.60,1073.56 114.10,1074.58 114.60,1074.58 115.10,1073.79 115.60,1073.39 116.10,1072.37 116.60,1072.15 117.10,1072.62 117.60,1072.90 118.10,1074.39 118.60,1074.03 119.10,1074.04 119.60,1073.45 120.10,1074.14 120.60,1074.60 121.10,1073.79 121.60,1073.22 122.10,1073.57 122.60,1073.87 123.10,1073.41 123.60,1073.27 124.10,1073.52 124.60,1073.39 125.10,1072.83 125.60,1072.47 126.10,1073.04 126.60,1073.23 127.10,1074.00 127.60,1074.17 128.10,1073.50 128.60,1073.20 129.10,1073.28 129.60,1074.09 130.10,1074.34 130.60,1073.76 131.10,1073.20 131.60,1073.16 132.10,1072.95 132.60,1072.47 133.10,1072.51 133.60,1072.65 134.10,1073.39 134.60,1072.42 135.10,1072.18 135.60,1071.84 136.10,1072.26 136.60,1072.94 137.10,1072.49 137.60,1072.93 138.10,1072.31 138.60,1072.81 139.10,1072.78 139.60,1073.23 140.10,1073.04 140.60,1073.51 141.10,1073.19 141.60,1073.91 142.10,1073.25 142.60,1074.17 143.10,1073.89 143.60,1074.21 144.10,1073.35 144.60,1073.98 145.10,1073.27 145.60,1073.43 146.10,1073.74 146.60,1074.18 147.10,1074.37 147.60,1074.51 148.10,1074.53 148.60,1074.16 149.10,1073.55 149.60,1072.93 150.10,1073.77 150.60,1073.96 151.10,1074.21 151.60,1073.50 152.10,1073.09 152.60,1073.33 153.10,1073.19 153.60,1073.35 154.10,1072.52 154.60,1072.74 155.10,1072.35 155.60,1073.06 156.10,1073.36 156.60,1073.03 157.10,1073.38 157.60,1073.18 158.10,1073.41 158.60,1072.63 159.10,1072.23 159.60,1072.63 160.10,1072.80 160.60,1073.30 161.10,1073.58 161.60,1074.38 162.10,1074.98 162.60,1074.44 163.10,1073.59 163.60,1073.37 164.10,1073.61 164.60,1074.50 165.10,1074.09 165.60,1074.45 166.10,1074.33 166.60,1074.60 167.10,1074.31 167.60,1074.11 168.10,1073.89 168.60,1073.76 169.10,1073.96 169.60,1073.63 170.10,1074.20 170.60,1073.71 171.10,1074.26 171.60,1073.48 172.10,1073.36 172.60,1073.72 173.10,1073.56 173.60,1073.08 174.10,1071.89 174.60,1071.80 175.10,1073.01 175.60,1073.09 176.10,1073.21 176.60,1071.50 177.10,1071.05 177.60,1070.37 178.10,1070.70 178.60,1069.30 179.10,1068.18 179.60,1066.43 180.10,1065.17 180.60,1063.76 181.10,1062.29 181.60,1060.48 182.10,1059.43 182.60,1058.49 183.10,1057.93 183.60,1055.79 184.10,1054.83 184.60,1053.86 185.10,1053.70 185.60,1052.73 186.10,1051.44 186.60,1050.55 187.10,1049.49 187.60,1049.70 188.10,1049.48 188.60,1049.81 189.10,1050.60 189.60,1051.86 190.10,1054.18 190.60,1056.63 191.10,1059.77 191.60,1063.04 192.10,1066.93 192.60,1070.65 193.10,1074.80 193.60,1078.67 194.10,1081.39 194.60,1084.93 195.10,1087.76 195.60,1090.33 196.10,1091.76 196.60,1094.44 197.10,1096.42 197.60,1097.73 198.10,1097.77 198.60,1098.43 199.10,1099.46 199.60,1099.44 200.10,1099.72 200.60,1097.90 201.10,1097.00 201.60,1094.49 202.10,1094.39 202.60,1092.60 203.10,1091.44 203.60,1089.49 204.10,1088.61 204.60,1086.86 205.10,1085.23 205.60,1083.10 206.10,1082.60 206.60,1081.76 207.10,1081.28 207.60,1080.12 208.10,1079.22 208.60,1078.32 209.10,1078.10 209.60,1078.19 210.10,1077.07 210.60,1076.21 211.10,1074.86 211.60,1075.31 212.10,1074.50 212.60,1074.19 213.10,1073.19 213.60,1073.52 214.10,1073.30 214.60,1073.34 215.10,1072.90 215.60,1072.44 216.10,1071.53 216.60,1071.28 217.10,1071.17 217.60,1071.40 218.10,1071.19 218.60,1071.15 219.10,1070.29 219.60,1069.00 220.10,1068.38 220.60,1068.49 221.10,1067.48 221.60,1065.24 222.10,1063.18 222.60,1061.96 223.10,1060.26 223.60,1058.60 224.10,1056.32 224.60,1054.82 225.10,1053.72 225.60,1052.59 226.10,1051.80 226.60,1050.61 227.10,1050.31 227.60,1049.31 228.10,1048.31 228.60,1047.21 229.10,1048.04 229.60,1048.50 230.10,1048.78 230.60,1048.61 231.10,1049.27 231.60,1050.98 232.10,1053.71 232.60,1056.49 233.10,1058.69 233.60,1060.83 234.10,1063.09 234.60,1066.57 235.10,1069.15 235.60,1072.97 236.10,1074.86 236.60,1075.47 237.10,1075.14 237.60,1076.03 238.10,1077.05 238.60,1077.30 239.10,1076.95 239.60,1076.98 240.10,1076.36 240.60,1075.13 241.10,1074.31 241.60,1073.35 242.10,1072.79 242.60,1071.16 243.10,1070.31 243.60,1070.11 244.10,1069.49 244.60,1069.47 245.10,1069.48 245.60,1070.40 246.10,1071.31 246.60,1071.62 247.10,1073.89 247.60,1077.32 248.10,1081.11 248.60,1082.40 249.10,1083.89 249.60,1086.38 250.10,1089.77 250.60,1092.17 251.10,1094.02 251.60,1094.71 252.10,1096.00 252.60,1096.87 253.10,1098.77 253.60,1099.55 254.10,1100.72 254.60,1101.06 255.10,1100.60 255.60,1098.67 256.10,1097.04 256.60,1095.91 257.10,1094.24 257.60,1093.29 258.10,1092.44 258.60,1091.98 259.10,1091.23 259.60,1089.89 260.10,1088.38 260.60,1086.08 261.10,1083.79 261.60,1081.90 262.10,1080.52 262.60,1079.62 263.10,1078.75 263.60,1078.37 264.10,1078.17 264.60,1078.03 265.10,1077.06 265.60,1076.52 266.10,1076.45 266.60,1075.95 267.10,1076.26 267.60,1075.08 268.10,1074.77 268.60,1073.26 269.10,1073.26 269.60,1073.30 270.10,1074.11 270.60,1073.64 271.10,1073.07 271.60,1071.95 272.10,1071.50 272.60,1070.57 273.10,1070.24 273.60,1069.30 274.10,1069.22 274.60,1068.53 275.10,1068.21 275.60,1066.93 276.10,1065.43 276.60,1065.42 277.10,1063.97 277.60,1063.52 278.10,1061.26 278.60,1060.01 279.10,1057.45 279.60,1056.15 280.10,1055.56 280.60,1054.34 281.10,1052.68 281.60,1051.48 282.10,1051.06 282.60,1051.10 283.10,1049.67 283.60,1049.16 284.10,1047.51 284.60,1048.54 285.10,1048.26 285.60,1048.32 286.10,1048.05 286.60,1049.05 287.10,1052.35 287.60,1054.69 288.10,1057.38 288.60,1059.83 289.10,1063.97 289.60,1066.98 290.10,1069.68 290.60,1071.55 291.10,1073.43 291.60,1074.85 292.10,1076.47 292.60,1077.63 293.10,1078.65 293.60,1077.93 294.10,1078.36 294.60,1077.66 295.10,1077.48 295.60,1075.96 296.10,1074.75 296.60,1074.03 297.10,1073.54 297.60,1072.64 298.10,1071.89 298.60,1070.68 299.10,1070.09 299.60,1068.55 300.10,1068.73 300.60,1068.62 301.10,1069.77 301.60,1071.27 302.10,1073.04 302.60,1073.94 303.10,1075.87 303.60,1077.64 304.10,1082.18 304.60,1086.60 305.10,1090.00 305.60,1091.78 306.10,1092.58 306.60,1094.57 307.10,1096.21 307.60,1098.06 308.10,1098.77 308.60,1100.21 309.10,1100.00 309.60,1100.60 310.10,1100.11 310.60,1100.16 311.10,1098.88 311.60,1097.26 312.10,1095.90 312.60,1095.21 313.10,1094.70 313.60,1092.96 314.10,1091.69 314.60,1089.99 315.10,1089.30 315.60,1087.84 316.10,1086.62 316.60,1084.99 317.10,1083.62 317.60,1081.88 318.10,1081.31 318.60,1079.36 319.10,1078.89 319.60,1077.36 320.10,1077.38 320.60,1075.89 321.10,1074.72 321.60,1074.21 322.10,1073.90 322.60,1074.48 323.10,1073.72 323.60,1074.30 324.10,1073.98 324.60,1074.26 325.10,1073.19 325.60,1072.55 326.10,1071.97 326.60,1071.77 327.10,1071.78 327.60,1071.80 328.10,1070.98 328.60,1070.28 329.10,1069.31 329.60,1069.17 330.10,1069.19 330.60,1068.92 331.10,1067.77 331.60,1065.25 332.10,1063.19 332.60,1061.32 333.10,1060.91 333.60,1059.82 334.10,1059.18 334.60,1057.18 335.10,1056.03 335.60,1055.12 336.10,1053.81 336.60,1052.56 337.10,1050.58 337.60,1050.17 338.10,1049.07 338.60,1048.48 339.10,1047.59 339.60,1047.80 340.10,1049.07 340.60,1051.46 341.10,1052.52 341.60,1053.94 342.10,1054.76 342.60,1056.92 343.10,1058.97 343.60,1062.08 344.10,1066.71 344.60,1072.19 345.10,1075.74 345.60,1080.43 346.10,1083.56 346.60,1087.05 347.10,1089.62 347.60,1092.16 348.10,1094.31 348.60,1095.72 349.10,1096.80 349.60,1096.95 350.10,1098.19 350.60,1099.35 351.10,1100.69 351.60,1100.21 352.10,1098.10 352.60,1096.82 353.10,1095.16 353.60,1094.58 354.10,1094.06 354.60,1092.97 355.10,1091.97 355.60,1089.57 356.10,1088.58 356.60,1087.46 357.10,1086.77 357.60,1085.33 358.10,1084.83 358.60,1083.43 359.10,1082.15 359.60,1080.02 360.10,1080.01 360.60,1080.29 361.10,1079.77 361.60,1078.11 362.10,1076.33 362.60,1076.06 363.10,1075.65 363.60,1076.16 364.10,1076.09 364.60,1076.30 365.10,1075.82 365.60,1075.42 366.10,1075.89 366.60,1075.10 367.10,1075.16 367.60,1074.28 368.10,1074.28 368.60,1073.74 369.10,1073.71 369.60,1073.53 370.10,1072.77 370.60,1072.40 371.10,1073.32 371.60,1074.70 372.10,1075.30 372.60,1075.17 373.10,1074.14 373.60,1073.83 374.10,1073.44 374.60,1073.18 375.10,1072.79 375.60,1072.70 376.10,1072.98 376.60,1072.93 377.10,1073.03 377.60,1073.03 378.10,1073.85 378.60,1073.68 379.10,1073.65 379.60,1073.27 380.10,1073.19 380.60,1073.03 381.10,1072.81 381.60,1073.17 382.10,1073.69 382.60,1074.36 383.10,1073.38 383.60,1072.96 384.10,1072.27 384.60,1073.02 385.10,1073.85 385.60,1073.81 386.10,1074.06 386.60,1074.31 387.10,1074.05 387.60,1074.27 388.10,1074.60 388.60,1074.84 389.10,1074.64 389.60,1073.95 390.10,1074.63 390.60,1074.21 391.10,1074.19 391.60,1073.58 392.10,1073.37 392.60,1073.77 393.10,1073.99 393.60,1074.31 394.10,1074.01 394.60,1072.47 395.10,1072.50 395.60,1071.96 396.10,1073.53 396.60,1073.95 397.10,1074.82 397.60,1074.57 398.10,1074.04 398.60,1073.88 399.10,1073.82 399.60,1073.66 400.10,1073.34 400.60,1074.04 401.10,1074.27 401.60,1075.03 402.10,1074.45 402.60,1074.49 403.10,1074.04 403.60,1074.33 404.10,1074.63 404.60,1074.80 405.10,1074.34 405.60,1073.70 406.10,1074.27 406.60,1074.43 407.10,1074.63 407.60,1074.55 408.10,1075.10 408.60,1075.43 409.10,1074.69 409.60,1075.20 410.10,1075.14 410.60,1075.52 411.10,1074.51 411.60,1073.79 412.10,1073.03 412.60,1073.26 413.10,1073.99 413.60,1074.43 414.10,1073.80 414.60,1073.07 415.10,1073.03 415.60,1072.92 416.10,1073.86 416.60,1074.46 417.10,1076.18 417.60,1076.17 418.10,1075.47 418.60,1073.99 419.10,1072.25 419.60,1072.25 420.10,1072.53 420.60,1074.31 421.10,1074.79 421.60,1075.10 422.10,1074.80 422.60,1074.82 423.10,1075.17 423.60,1074.66 424.10,1074.21 424.60,1073.07 425.10,1074.15 425.60,1074.86 426.10,1075.72 426.60,1074.59 427.10,1074.14 427.60,1073.74 428.10,1074.26 428.60,1074.11 429.10,1074.42 429.60,1074.23 430.10,1074.65 430.60,1074.54 431.10,1074.58 431.60,1074.19 432.10,1073.92 432.60,1074.37 433.10,1074.31 433.60,1074.60 434.10,1074.12 434.60,1073.63 435.10,1073.88 435.60,1073.61 436.10,1074.49 436.60,1074.29 437.10,1074.05 437.60,1073.40 438.10,1073.03 438.60,1073.37 439.10,1073.27 439.60,1073.78 440.10,1074.01 440.60,1074.64 441.10,1074.17 441.60,1074.39 442.10,1073.94 442.60,1074.10 443.10,1074.22 443.60,1074.54 444.10,1074.37 444.60,1073.70 445.10,1073.75 445.60,1074.07 446.10,1074.40 446.60,1074.03 447.10,1074.11 447.60,1075.21 448.10,1075.40 448.60,1075.32 449.10,1074.48 449.60,1073.57 450.10,1073.48 450.60,1073.05 451.10,1074.64 451.60,1074.49 452.10,1074.46 452.60,1073.82 453.10,1073.99 453.60,1074.08 454.10,1074.15 454.60,1073.54 455.10,1073.67 455.60,1074.01 456.10,1075.34 456.60,1075.72 457.10,1075.52 457.60,1075.20 458.10,1075.33 458.60,1075.89 459.10,1075.85 459.60,1075.40 460.10,1074.83 460.60,1074.47 461.10,1074.64 461.60,1074.62 462.10,1074.24 462.60,1073.27 463.10,1072.92 463.60,1072.43 464.10,1073.30 464.60,1073.57 465.10,1073.71 465.60,1073.96 466.10,1074.31 466.60,1075.03 467.10,1075.42 467.60,1075.82 468.10,1075.30 468.60,1075.05 469.10,1074.48 469.60,1075.13 470.10,1075.09 470.60,1074.63 471.10,1074.22 471.60,1073.52 472.10,1073.51 472.60,1073.70 473.10,1073.46 473.60,1073.34 474.10,1073.61 474.60,1074.17 475.10,1074.74 475.60,1073.75 476.10,1073.47 476.60,1073.09 477.10,1073.87 477.60,1073.95 478.10,1074.55 478.60,1074.51 479.10,1074.76" fill="none" stroke="#f05656" stroke-width="1.15" stroke-dasharray="3,1.6" stroke-linejoin="round"/>
<polyline points="67.10,1113.92 67.60,1114.43 68.10,1114.31 68.60,1114.60 69.10,1114.11 69.60,1114.14 70.10,1114.53 70.60,1114.95 71.10,1114.88 71.60,1114.82 72.10,1114.44 72.60,1114.85 73.10,1114.43 73.60,1113.43 74.10,1113.47 74.60,1113.53 75.10,1113.95 75.60,1113.24 76.10,1112.79 76.60,1114.29 77.10,1114.61 77.60,1114.30 78.10,1113.59 78.60,1113.18 79.10,1114.78 79.60,1114.05 80.10,1113.20 80.60,1112.35 81.10,1112.67 81.60,1113.52 82.10,1112.50 82.60,1112.86 83.10,1113.82 83.60,1113.93 84.10,1114.27 84.60,1113.24 85.10,1115.20 85.60,1114.86 86.10,1115.04 86.60,1114.47 87.10,1114.51 87.60,1114.33 88.10,1114.15 88.60,1113.67 89.10,1113.12 89.60,1113.73 90.10,1113.81 90.60,1114.35 91.10,1113.57 91.60,1113.02 92.10,1112.68 92.60,1112.30 93.10,1112.77 93.60,1113.43 94.10,1114.18 94.60,1114.20 95.10,1114.39 95.60,1114.16 96.10,1113.88 96.60,1113.76 97.10,1113.05 97.60,1114.04 98.10,1114.14 98.60,1114.58 99.10,1113.48 99.60,1113.33 100.10,1112.97 100.60,1113.91 101.10,1113.80 101.60,1113.78 102.10,1113.88 102.60,1114.27 103.10,1114.37 103.60,1114.48 104.10,1114.01 104.60,1114.15 105.10,1113.67 105.60,1113.46 106.10,1113.40 106.60,1113.27 107.10,1114.32 107.60,1115.22 108.10,1115.17 108.60,1115.21 109.10,1114.50 109.60,1114.80 110.10,1114.47 110.60,1114.62 111.10,1115.56 111.60,1115.26 112.10,1114.58 112.60,1114.07 113.10,1113.77 113.60,1114.18 114.10,1112.21 114.60,1112.86 115.10,1113.38 115.60,1115.12 116.10,1115.11 116.60,1115.51 117.10,1115.13 117.60,1115.11 118.10,1113.99 118.60,1113.85 119.10,1113.91 119.60,1114.43 120.10,1113.98 120.60,1113.66 121.10,1113.40 121.60,1113.64 122.10,1113.67 122.60,1113.57 123.10,1113.23 123.60,1112.52 124.10,1113.52 124.60,1113.55 125.10,1114.16 125.60,1113.63 126.10,1114.62 126.60,1113.96 127.10,1113.53 127.60,1113.30 128.10,1114.23 128.60,1114.09 129.10,1113.49 129.60,1113.58 130.10,1114.39 130.60,1115.09 131.10,1114.35 131.60,1114.03 132.10,1113.92 132.60,1114.58 133.10,1113.82 133.60,1113.83 134.10,1113.37 134.60,1113.44 135.10,1113.48 135.60,1113.57 136.10,1113.89 136.60,1113.98 137.10,1113.31 137.60,1113.48 138.10,1113.50 138.60,1114.28 139.10,1114.80 139.60,1114.05 140.10,1113.23 140.60,1112.84 141.10,1113.61 141.60,1115.27 142.10,1115.45 142.60,1114.84 143.10,1114.24 143.60,1113.57 144.10,1113.29 144.60,1114.12 145.10,1114.66 145.60,1115.67 146.10,1114.73 146.60,1115.41 147.10,1115.22 147.60,1115.52 148.10,1114.22 148.60,1113.45 149.10,1113.54 149.60,1114.69 150.10,1115.57 150.60,1115.02 151.10,1114.42 151.60,1113.87 152.10,1114.47 152.60,1114.70 153.10,1115.25 153.60,1114.72 154.10,1114.90 154.60,1114.90 155.10,1115.07 155.60,1114.05 156.10,1114.06 156.60,1114.72 157.10,1115.02 157.60,1114.73 158.10,1114.13 158.60,1114.81 159.10,1115.16 159.60,1114.01 160.10,1113.80 160.60,1112.97 161.10,1113.34 161.60,1113.36 162.10,1113.77 162.60,1114.52 163.10,1115.72 163.60,1116.21 164.10,1116.17 164.60,1114.31 165.10,1113.66 165.60,1112.84 166.10,1113.01 166.60,1112.81 167.10,1112.99 167.60,1113.14 168.10,1113.19 168.60,1112.84 169.10,1112.31 169.60,1112.98 170.10,1113.66 170.60,1114.76 171.10,1115.03 171.60,1114.85 172.10,1114.69 172.60,1113.55 173.10,1114.75 173.60,1114.99 174.10,1115.56 174.60,1113.98 175.10,1113.60 175.60,1112.85 176.10,1113.02 176.60,1113.19 177.10,1114.09 177.60,1114.22 178.10,1114.32 178.60,1113.81 179.10,1114.16 179.60,1113.50 180.10,1113.59 180.60,1113.67 181.10,1113.44 181.60,1114.71 182.10,1114.23 182.60,1115.60 183.10,1114.22 183.60,1114.77 184.10,1113.31 184.60,1113.20 185.10,1112.99 185.60,1113.86 186.10,1113.89 186.60,1114.36 187.10,1113.68 187.60,1114.33 188.10,1113.96 188.60,1114.60 189.10,1113.72 189.60,1114.29 190.10,1114.27 190.60,1114.91 191.10,1113.69 191.60,1112.66 192.10,1112.23 192.60,1112.95 193.10,1113.57 193.60,1113.68 194.10,1113.19 194.60,1114.07 195.10,1114.44 195.60,1114.41 196.10,1114.31 196.60,1114.68 197.10,1114.97 197.60,1114.07 198.10,1113.15 198.60,1112.59 199.10,1112.65 199.60,1113.26 200.10,1113.97 200.60,1114.44 201.10,1114.65 201.60,1114.58 202.10,1113.87 202.60,1112.78 203.10,1112.44 203.60,1112.46 204.10,1113.16 204.60,1113.27 205.10,1113.14 205.60,1112.93 206.10,1113.01 206.60,1113.64 207.10,1113.85 207.60,1114.12 208.10,1113.97 208.60,1113.80 209.10,1113.59 209.60,1114.56 210.10,1114.72 210.60,1115.24 211.10,1115.01 211.60,1116.01 212.10,1115.10 212.60,1115.39 213.10,1114.76 213.60,1115.02 214.10,1113.99 214.60,1114.21 215.10,1114.35 215.60,1114.38 216.10,1114.69 216.60,1114.34 217.10,1113.94 217.60,1113.72 218.10,1114.38 218.60,1115.36 219.10,1114.50 219.60,1114.68 220.10,1114.40 220.60,1115.70 221.10,1114.63 221.60,1114.51 222.10,1113.58 222.60,1113.42 223.10,1112.99 223.60,1113.64 224.10,1114.16 224.60,1114.15 225.10,1114.04 225.60,1114.71 226.10,1115.49 226.60,1114.73 227.10,1114.25 227.60,1114.27 228.10,1114.34 228.60,1114.02 229.10,1113.93 229.60,1114.95 230.10,1114.76 230.60,1113.19 231.10,1111.81 231.60,1111.88 232.10,1113.01 232.60,1113.96 233.10,1114.36 233.60,1114.10 234.10,1113.89 234.60,1113.51 235.10,1113.82 235.60,1113.45 236.10,1115.13 236.60,1115.52 237.10,1115.44 237.60,1113.75 238.10,1113.17 238.60,1112.80 239.10,1112.93 239.60,1112.79 240.10,1113.95 240.60,1114.09 241.10,1114.07 241.60,1113.05 242.10,1112.71 242.60,1113.04 243.10,1113.56 243.60,1114.62 244.10,1114.36 244.60,1114.95 245.10,1114.55 245.60,1114.84 246.10,1113.43 246.60,1112.72 247.10,1113.06 247.60,1114.63 248.10,1115.32 248.60,1115.33 249.10,1114.50 249.60,1114.24 250.10,1113.58 250.60,1114.22 251.10,1114.55 251.60,1114.75 252.10,1114.15 252.60,1114.25 253.10,1114.50 253.60,1114.27 254.10,1114.81 254.60,1114.78 255.10,1115.17 255.60,1115.06 256.10,1115.41 256.60,1115.37 257.10,1114.94 257.60,1113.98 258.10,1113.72 258.60,1112.44 259.10,1113.49 259.60,1112.92 260.10,1114.27 260.60,1113.33 261.10,1113.75 261.60,1113.35 262.10,1113.86 262.60,1114.59 263.10,1115.49 263.60,1115.54 264.10,1115.66 264.60,1114.57 265.10,1114.74 265.60,1114.41 266.10,1114.47 266.60,1114.10 267.10,1114.00 267.60,1114.30 268.10,1114.53 268.60,1114.33 269.10,1113.90 269.60,1114.06 270.10,1113.52 270.60,1113.57 271.10,1113.95 271.60,1113.48 272.10,1113.45 272.60,1113.05 273.10,1113.54 273.60,1115.05 274.10,1113.55 274.60,1114.97 275.10,1114.49 275.60,1116.10 276.10,1115.34 276.60,1114.79 277.10,1113.96 277.60,1114.43 278.10,1113.76 278.60,1114.04 279.10,1114.13 279.60,1114.14 280.10,1114.10 280.60,1113.71 281.10,1113.61 281.60,1114.31 282.10,1114.40 282.60,1114.32 283.10,1113.76 283.60,1113.25 284.10,1113.65 284.60,1113.71 285.10,1113.74 285.60,1114.48 286.10,1114.12 286.60,1114.90 287.10,1114.44 287.60,1115.16 288.10,1114.46 288.60,1114.25 289.10,1113.33 289.60,1113.84 290.10,1114.51 290.60,1116.01 291.10,1116.34 291.60,1116.03 292.10,1114.96 292.60,1114.54 293.10,1114.42 293.60,1115.19 294.10,1115.44 294.60,1115.07 295.10,1114.09 295.60,1114.28 296.10,1114.81 296.60,1115.02 297.10,1114.94 297.60,1114.62 298.10,1114.60 298.60,1113.84 299.10,1113.12 299.60,1113.65 300.10,1113.31 300.60,1113.95 301.10,1113.21 301.60,1114.10 302.10,1114.33 302.60,1114.68 303.10,1113.58 303.60,1113.57 304.10,1112.89 304.60,1113.80 305.10,1114.01 305.60,1114.68 306.10,1115.48 306.60,1115.55 307.10,1115.84 307.60,1114.96 308.10,1114.64 308.60,1114.81 309.10,1115.25 309.60,1114.74 310.10,1114.78 310.60,1114.51 311.10,1115.55 311.60,1115.28 312.10,1114.48 312.60,1113.50 313.10,1114.12 313.60,1114.81 314.10,1114.70 314.60,1114.03 315.10,1113.74 315.60,1113.55 316.10,1112.34 316.60,1111.77 317.10,1112.74 317.60,1113.77 318.10,1114.40 318.60,1114.40 319.10,1114.70 319.60,1113.85 320.10,1113.59 320.60,1112.93 321.10,1113.33 321.60,1113.22 322.10,1113.54 322.60,1113.99 323.10,1113.57 323.60,1113.41 324.10,1114.46 324.60,1114.64 325.10,1114.09 325.60,1113.29 326.10,1114.05 326.60,1115.04 327.10,1114.40 327.60,1114.59 328.10,1114.02 328.60,1114.01 329.10,1113.27 329.60,1113.59 330.10,1114.44 330.60,1115.00 331.10,1115.04 331.60,1115.15 332.10,1114.90 332.60,1115.32 333.10,1114.25 333.60,1113.49 334.10,1113.44 334.60,1113.44 335.10,1114.03 335.60,1113.63 336.10,1114.04 336.60,1113.98 337.10,1114.66 337.60,1113.73 338.10,1114.34 338.60,1114.76 339.10,1115.93 339.60,1115.52 340.10,1114.80 340.60,1115.63 341.10,1115.09 341.60,1114.80 342.10,1113.88 342.60,1114.68 343.10,1114.71 343.60,1115.10 344.10,1114.65 344.60,1114.60 345.10,1114.00 345.60,1113.89 346.10,1113.80 346.60,1114.04 347.10,1113.81 347.60,1114.60 348.10,1114.60 348.60,1114.51 349.10,1114.29 349.60,1114.01 350.10,1114.88 350.60,1114.37 351.10,1114.83 351.60,1114.68 352.10,1114.42 352.60,1114.33 353.10,1115.18 353.60,1114.42 354.10,1114.43 354.60,1113.70 355.10,1114.25 355.60,1113.59 356.10,1114.38 356.60,1114.69 357.10,1116.28 357.60,1115.53 358.10,1115.74 358.60,1115.01 359.10,1115.05 359.60,1115.56 360.10,1115.54 360.60,1115.32 361.10,1114.86 361.60,1115.28 362.10,1115.59 362.60,1115.05 363.10,1114.14 363.60,1113.92 364.10,1114.09 364.60,1114.21 365.10,1113.62 365.60,1113.79 366.10,1114.16 366.60,1115.06 367.10,1115.18 367.60,1115.94 368.10,1115.45 368.60,1116.92 369.10,1116.42 369.60,1116.69 370.10,1114.99 370.60,1113.24 371.10,1112.94 371.60,1113.25 372.10,1115.43 372.60,1114.87 373.10,1115.67 373.60,1114.67 374.10,1115.64 374.60,1113.60 375.10,1113.78 375.60,1113.29 376.10,1114.77 376.60,1114.75 377.10,1114.38 377.60,1114.51 378.10,1114.78 378.60,1115.58 379.10,1115.61 379.60,1115.80 380.10,1115.52 380.60,1114.43 381.10,1113.29 381.60,1113.92 382.10,1114.87 382.60,1115.56 383.10,1114.74 383.60,1114.43 384.10,1114.40 384.60,1114.44 385.10,1114.11 385.60,1115.09 386.10,1115.35 386.60,1115.40 387.10,1113.80 387.60,1113.37 388.10,1113.98 388.60,1114.93 389.10,1115.16 389.60,1114.85 390.10,1114.37 390.60,1113.96 391.10,1114.53 391.60,1114.85 392.10,1116.49 392.60,1115.55 393.10,1115.32 393.60,1114.59 394.10,1114.82 394.60,1114.25 395.10,1113.41 395.60,1113.57 396.10,1114.37 396.60,1114.76 397.10,1115.18 397.60,1115.47 398.10,1115.67 398.60,1115.22 399.10,1114.65 399.60,1114.76 400.10,1115.17 400.60,1115.31 401.10,1115.27 401.60,1114.70 402.10,1114.02 402.60,1113.36 403.10,1113.86 403.60,1114.71 404.10,1115.90 404.60,1115.58 405.10,1115.77 405.60,1115.65 406.10,1116.08 406.60,1115.41 407.10,1114.72 407.60,1114.32 408.10,1114.15 408.60,1114.45 409.10,1114.86 409.60,1115.10 410.10,1115.79 410.60,1115.18 411.10,1115.31 411.60,1114.30 412.10,1114.11 412.60,1114.39 413.10,1114.51 413.60,1115.60 414.10,1115.69 414.60,1115.93 415.10,1115.07 415.60,1114.14 416.10,1113.85 416.60,1113.57 417.10,1114.65 417.60,1114.68 418.10,1115.84 418.60,1115.74 419.10,1116.14 419.60,1115.48 420.10,1115.24 420.60,1115.16 421.10,1115.48 421.60,1115.06 422.10,1114.98 422.60,1115.77 423.10,1116.05 423.60,1115.71 424.10,1114.19 424.60,1113.57 425.10,1114.23 425.60,1114.58 426.10,1115.38 426.60,1115.68 427.10,1116.81 427.60,1116.27 428.10,1115.90 428.60,1115.04 429.10,1115.63 429.60,1115.37 430.10,1115.07 430.60,1115.62 431.10,1115.69 431.60,1115.86 432.10,1115.70 432.60,1115.83 433.10,1115.89 433.60,1115.47 434.10,1115.86 434.60,1115.89 435.10,1115.70 435.60,1114.50 436.10,1114.11 436.60,1113.67 437.10,1114.11 437.60,1114.39 438.10,1113.93 438.60,1113.89 439.10,1114.07 439.60,1115.09 440.10,1114.64 440.60,1114.93 441.10,1114.53 441.60,1114.41 442.10,1113.33 442.60,1113.65 443.10,1114.66 443.60,1115.70 444.10,1115.80 444.60,1114.80 445.10,1113.97 445.60,1113.46 446.10,1113.93 446.60,1113.41 447.10,1113.88 447.60,1114.26 448.10,1115.00 448.60,1115.17 449.10,1114.44 449.60,1113.84 450.10,1113.34 450.60,1114.30 451.10,1115.44 451.60,1115.53 452.10,1115.55 452.60,1114.93 453.10,1115.83 453.60,1115.50 454.10,1115.45 454.60,1115.12 455.10,1114.54 455.60,1114.32 456.10,1113.29 456.60,1113.77 457.10,1114.17 457.60,1114.81 458.10,1114.50 458.60,1115.19 459.10,1115.03 459.60,1114.89 460.10,1114.80 460.60,1115.65 461.10,1116.14 461.60,1114.77 462.10,1113.84 462.60,1113.97 463.10,1114.77 463.60,1115.76 464.10,1114.86 464.60,1115.16 465.10,1114.16 465.60,1115.40 466.10,1115.05 466.60,1115.81 467.10,1114.91 467.60,1114.30 468.10,1113.32 468.60,1113.34 469.10,1113.52 469.60,1114.58 470.10,1115.47 470.60,1116.07 471.10,1115.04 471.60,1114.38 472.10,1113.94 472.60,1115.08 473.10,1115.28 473.60,1115.82 474.10,1114.97 474.60,1113.91 475.10,1113.33 475.60,1113.00 476.10,1114.09 476.60,1114.49 477.10,1114.64 477.60,1114.29 478.10,1114.97 478.60,1114.90 479.10,1114.66" fill="none" stroke="#555555" stroke-width="1.0" stroke-dasharray="2,1.2" stroke-linejoin="round"/>
<text x="79.3" y="881.0" font-size="25" font-family='"Liberation Serif", serif'>·O<tspan baseline-shift="sub" font-size="62%">2</tspan><tspan baseline-shift="super" font-size="65%" font-weight="bold">-</tspan></text>
<text x="432.7" y="862.3" font-size="34" font-family='"Liberation Sans", sans-serif' font-weight="bold">(e)</text>
<text x="471.3" y="887.2" font-size="19.5" font-family='"Liberation Serif", serif' text-anchor="end" textLength="53.9" lengthAdjust="spacingAndGlyphs">12 min</text>
<text x="472.4" y="987.6" font-size="19.5" font-family='"Liberation Serif", serif' text-anchor="end" textLength="44.3" lengthAdjust="spacingAndGlyphs">8 min</text>
<text x="470.1" y="1062.0" font-size="19.5" font-family='"Liberation Serif", serif' text-anchor="end" textLength="45.3" lengthAdjust="spacingAndGlyphs">4 min</text>
<text x="468.0" y="1103.6" font-size="19" font-family='"Liberation Serif", serif' text-anchor="end" textLength="37.4" lengthAdjust="spacingAndGlyphs">Dark</text>
<rect x="596.90" y="831.80" width="414.40" height="305.70" fill="none" stroke="#444" stroke-width="1.4"/>
<line x1="597.30" y1="1137.50" x2="597.30" y2="1131.50" stroke="#444" stroke-width="1.2" />
<text x="597.3" y="1159.5" font-size="20.8" font-family='"Liberation Serif", serif' text-anchor="middle">3460</text>
<line x1="680.04" y1="1137.50" x2="680.04" y2="1131.50" stroke="#444" stroke-width="1.2" />
<text x="680.0" y="1159.5" font-size="20.8" font-family='"Liberation Serif", serif' text-anchor="middle">3480</text>
<line x1="762.78" y1="1137.50" x2="762.78" y2="1131.50" stroke="#444" stroke-width="1.2" />
<text x="762.8" y="1159.5" font-size="20.8" font-family='"Liberation Serif", serif' text-anchor="middle">3500</text>
<line x1="845.52" y1="1137.50" x2="845.52" y2="1131.50" stroke="#444" stroke-width="1.2" />
<text x="845.5" y="1159.5" font-size="20.8" font-family='"Liberation Serif", serif' text-anchor="middle">3520</text>
<line x1="928.26" y1="1137.50" x2="928.26" y2="1131.50" stroke="#444" stroke-width="1.2" />
<text x="928.3" y="1159.5" font-size="20.8" font-family='"Liberation Serif", serif' text-anchor="middle">3540</text>
<line x1="1011.00" y1="1137.50" x2="1011.00" y2="1131.50" stroke="#444" stroke-width="1.2" />
<text x="1011.0" y="1159.5" font-size="20.8" font-family='"Liberation Serif", serif' text-anchor="middle">3560</text>
<line x1="638.67" y1="1137.50" x2="638.67" y2="1134.00" stroke="#444" stroke-width="1.2" />
<line x1="721.41" y1="1137.50" x2="721.41" y2="1134.00" stroke="#444" stroke-width="1.2" />
<line x1="804.15" y1="1137.50" x2="804.15" y2="1134.00" stroke="#444" stroke-width="1.2" />
<line x1="886.89" y1="1137.50" x2="886.89" y2="1134.00" stroke="#444" stroke-width="1.2" />
<line x1="969.63" y1="1137.50" x2="969.63" y2="1134.00" stroke="#444" stroke-width="1.2" />
<line x1="596.90" y1="887.60" x2="602.90" y2="887.60" stroke="#444" stroke-width="1.2" />
<line x1="596.90" y1="998.70" x2="602.90" y2="998.70" stroke="#444" stroke-width="1.2" />
<line x1="596.90" y1="943.20" x2="600.40" y2="943.20" stroke="#444" stroke-width="1.2" />
<line x1="596.90" y1="1054.20" x2="600.40" y2="1054.20" stroke="#444" stroke-width="1.2" />
<text x="804.5" y="1190.5" font-size="25.5" font-family='"Liberation Serif", serif' text-anchor="middle" textLength="191.7" lengthAdjust="spacingAndGlyphs">Magnetic field (G)</text>
<text x="566.6" y="991.8" font-size="26" font-family='"Liberation Serif", serif' text-anchor="middle" textLength="148.1" lengthAdjust="spacingAndGlyphs" transform="rotate(-90 566.6 991.8)">Intensity (a.u.)</text>
<polyline points="597.71,900.77 598.21,900.87 598.71,901.10 599.20,901.19 599.70,900.86 600.20,900.59 600.69,901.08 601.19,901.04 601.69,901.03 602.18,901.10 602.68,901.10 603.17,901.60 603.67,901.23 604.17,901.46 604.66,901.49 605.16,901.12 605.66,900.77 606.15,900.44 606.65,900.14 607.15,899.87 607.64,899.41 608.14,899.52 608.64,900.09 609.13,899.74 609.63,900.77 610.12,900.71 610.62,900.93 611.12,901.73 611.61,901.67 612.11,901.25 612.61,902.72 613.10,901.69 613.60,901.64 614.10,902.00 614.59,901.20 615.09,901.14 615.59,901.51 616.08,901.58 616.58,901.65 617.07,901.67 617.57,901.60 618.07,902.03 618.56,901.62 619.06,901.63 619.56,900.77 620.05,901.27 620.55,901.71 621.05,901.84 621.54,901.96 622.04,902.53 622.54,901.97 623.03,901.88 623.53,901.79 624.03,901.22 624.52,900.88 625.02,900.42 625.51,900.87 626.01,902.09 626.51,901.99 627.00,902.06 627.50,902.12 628.00,902.56 628.49,903.03 628.99,902.48 629.49,901.60 629.98,901.79 630.48,901.27 630.98,901.61 631.47,900.87 631.97,900.90 632.46,900.92 632.96,901.42 633.46,901.36 633.95,902.12 634.45,901.52 634.95,902.02 635.44,901.73 635.94,901.76 636.44,901.37 636.93,901.73 637.43,900.59 637.93,901.06 638.42,900.27 638.92,900.81 639.41,900.00 639.91,899.60 640.41,898.62 640.90,899.99 641.40,899.39 641.90,899.99 642.39,899.34 642.89,899.40 643.39,899.65 643.88,900.52 644.38,899.84 644.88,900.67 645.37,900.50 645.87,900.70 646.36,901.23 646.86,901.48 647.36,901.94 647.85,902.15 648.35,901.87 648.85,901.77 649.34,901.49 649.84,902.18 650.34,901.64 650.83,900.58 651.33,900.41 651.83,900.18 652.32,901.14 652.82,900.54 653.31,900.13 653.81,900.81 654.31,900.73 654.80,900.53 655.30,900.85 655.80,900.73 656.29,901.27 656.79,900.54 657.29,900.64 657.78,901.63 658.28,901.74 658.78,900.76 659.27,900.69 659.77,900.96 660.27,901.97 660.76,901.59 661.26,900.88 661.75,900.84 662.25,902.21 662.75,902.21 663.24,901.48 663.74,900.71 664.24,901.39 664.73,901.40 665.23,901.06 665.73,900.51 666.22,899.93 666.72,900.69 667.22,900.86 667.71,900.08 668.21,900.05 668.70,900.68 669.20,900.38 669.70,900.31 670.19,900.29 670.69,900.96 671.19,901.22 671.68,901.35 672.18,901.42 672.68,901.88 673.17,902.39 673.67,902.63 674.17,902.82 674.66,903.18 675.16,903.21 675.65,902.85 676.15,903.03 676.65,902.81 677.14,902.59 677.64,901.37 678.14,900.18 678.63,900.33 679.13,900.77 679.63,900.74 680.12,900.07 680.62,900.49 681.12,900.84 681.61,901.67 682.11,901.70 682.60,901.11 683.10,900.59 683.60,900.29 684.09,899.56 684.59,899.09 685.09,899.11 685.58,898.97 686.08,899.62 686.58,899.97 687.07,900.51 687.57,900.98 688.07,901.51 688.56,901.57 689.06,901.67 689.56,900.96 690.05,900.82 690.55,901.08 691.04,900.84 691.54,901.32 692.04,901.73 692.53,901.47 693.03,901.70 693.53,900.85 694.02,900.77 694.52,900.68 695.02,899.47 695.51,898.81 696.01,898.95 696.51,898.45 697.00,898.61 697.50,897.49 697.99,896.82 698.49,895.58 698.99,893.52 699.48,891.89 699.98,889.92 700.48,888.08 700.97,886.64 701.47,884.95 701.97,885.61 702.46,887.28 702.96,888.92 703.46,892.95 703.95,898.00 704.45,903.53 704.94,908.23 705.44,911.97 705.94,914.17 706.43,916.58 706.93,917.00 707.43,915.98 707.92,913.62 708.42,911.66 708.92,909.79 709.41,908.26 709.91,905.65 710.41,903.93 710.90,902.73 711.40,902.29 711.89,901.76 712.39,900.56 712.89,900.19 713.38,900.43 713.88,900.20 714.38,899.76 714.87,899.39 715.37,900.04 715.87,900.80 716.36,900.94 716.86,900.52 717.36,900.38 717.85,900.60 718.35,900.48 718.85,899.75 719.34,899.64 719.84,900.05 720.33,900.48 720.83,901.26 721.33,901.15 721.82,901.41 722.32,901.36 722.82,901.26 723.31,901.35 723.81,901.40 724.31,901.13 724.80,901.44 725.30,901.56 725.80,902.00 726.29,902.26 726.79,901.98 727.28,902.02 727.78,901.93 728.28,901.73 728.77,901.44 729.27,901.42 729.77,901.03 730.26,901.15 730.76,900.19 731.26,899.93 731.75,900.76 732.25,900.92 732.75,900.60 733.24,900.94 733.74,901.05 734.23,901.77 734.73,902.08 735.23,901.23 735.72,901.22 736.22,902.82 736.72,902.85 737.21,902.17 737.71,902.05 738.21,901.96 738.70,902.08 739.20,902.50 739.70,901.38 740.19,900.82 740.69,901.22 741.18,901.28 741.68,901.04 742.18,900.33 742.67,899.83 743.17,899.50 743.67,900.02 744.16,899.28 744.66,899.42 745.16,899.57 745.65,899.70 746.15,899.69 746.65,899.64 747.14,899.99 747.64,899.59 748.14,899.44 748.63,898.77 749.13,899.03 749.62,899.58 750.12,899.67 750.62,899.38 751.11,900.01 751.61,900.86 752.11,901.82 752.60,902.40 753.10,901.59 753.60,901.40 754.09,901.74 754.59,901.95 755.09,901.06 755.58,900.72 756.08,899.60 756.57,899.97 757.07,899.68 757.57,898.31 758.06,896.38 758.56,894.08 759.06,890.10 759.55,886.20 760.05,880.50 760.55,874.12 761.04,867.05 761.54,860.85 762.04,854.37 762.53,852.15 763.03,852.35 763.52,856.71 764.02,865.17 764.52,877.00 765.01,891.57 765.51,908.55 766.01,923.47 766.50,935.63 767.00,943.99 767.50,949.28 767.99,950.12 768.49,948.36 768.99,942.96 769.48,935.55 769.98,929.21 770.47,923.60 770.97,916.80 771.47,913.08 771.96,908.68 772.46,906.69 772.96,905.15 773.45,903.07 773.95,901.94 774.45,902.41 774.94,902.38 775.44,903.01 775.94,902.65 776.43,902.67 776.93,903.05 777.42,902.74 777.92,902.09 778.42,901.20 778.91,899.60 779.41,899.41 779.91,899.49 780.40,900.64 780.90,901.03 781.40,901.17 781.89,901.48 782.39,901.97 782.89,901.68 783.38,900.99 783.88,900.57 784.38,900.51 784.87,900.25 785.37,900.02 785.86,900.83 786.36,901.24 786.86,902.08 787.35,901.22 787.85,900.76 788.35,901.24 788.84,901.60 789.34,900.94 789.84,900.33 790.33,900.62 790.83,900.59 791.33,901.23 791.82,901.29 792.32,901.27 792.81,902.24 793.31,902.91 793.81,902.77 794.30,902.78 794.80,902.12 795.30,902.27 795.79,902.51 796.29,902.38 796.79,902.99 797.28,902.81 797.78,903.23 798.28,903.87 798.77,903.63 799.27,903.04 799.76,902.13 800.26,901.63 800.76,901.11 801.25,901.23 801.75,900.32 802.25,900.73 802.74,900.36 803.24,901.07 803.74,900.11 804.23,900.34 804.73,900.59 805.23,900.82 805.72,900.44 806.22,900.64 806.71,899.46 807.21,900.17 807.71,900.50 808.20,899.65 808.70,900.16 809.20,899.84 809.69,899.64 810.19,900.51 810.69,900.14 811.18,900.83 811.68,900.67 812.18,900.73 812.67,901.39 813.17,901.03 813.67,900.38 814.16,900.84 814.66,899.80 815.15,900.52 815.65,900.65 816.15,900.10 816.64,900.37 817.14,899.85 817.64,899.44 818.13,898.80 818.63,897.97 819.13,896.35 819.62,894.03 820.12,892.25 820.62,889.81 821.11,885.03 821.61,878.85 822.10,871.72 822.60,864.36 823.10,858.29 823.59,852.47 824.09,850.22 824.59,851.62 825.08,858.00 825.58,867.86 826.08,881.83 826.57,897.44 827.07,913.02 827.57,927.58 828.06,939.54 828.56,947.90 829.05,951.78 829.55,950.91 830.05,946.98 830.54,942.35 831.04,935.34 831.54,927.87 832.03,920.51 832.53,915.09 833.03,910.41 833.52,906.61 834.02,904.16 834.52,902.43 835.01,901.75 835.51,901.52 836.00,901.39 836.50,901.78 837.00,902.08 837.49,901.72 837.99,901.48 838.49,901.96 838.98,901.98 839.48,902.05 839.98,901.54 840.47,900.98 840.97,901.62 841.47,902.14 841.96,901.56 842.46,901.41 842.96,901.13 843.45,901.45 843.95,901.62 844.44,901.46 844.94,901.22 845.44,901.00 845.93,901.63 846.43,901.73 846.93,901.40 847.42,901.30 847.92,900.96 848.42,901.36 848.91,901.50 849.41,900.39 849.91,899.75 850.40,899.41 850.90,900.18 851.39,900.43 851.89,900.61 852.39,900.37 852.88,900.92 853.38,901.42 853.88,901.70 854.37,901.56 854.87,902.05 855.37,901.75 855.86,902.35 856.36,902.10 856.86,901.91 857.35,901.46 857.85,901.50 858.34,901.16 858.84,901.86 859.34,901.98 859.83,902.40 860.33,902.40 860.83,902.82 861.32,902.77 861.82,902.55 862.32,901.48 862.81,901.38 863.31,900.75 863.81,900.07 864.30,899.91 864.80,899.35 865.29,898.61 865.79,899.33 866.29,898.90 866.78,899.35 867.28,900.45 867.78,901.30 868.27,901.73 868.77,902.74 869.27,902.46 869.76,902.54 870.26,902.62 870.76,901.66 871.25,900.89 871.75,901.04 872.25,900.77 872.74,900.49 873.24,900.44 873.73,900.64 874.23,901.70 874.73,902.28 875.22,902.79 875.72,902.41 876.22,902.43 876.71,902.59 877.21,902.10 877.71,901.35 878.20,901.62 878.70,900.96 879.20,900.56 879.69,900.51 880.19,900.53 880.68,899.82 881.18,899.22 881.68,896.69 882.17,894.26 882.67,891.49 883.17,887.93 883.66,884.39 884.16,880.55 884.66,877.98 885.15,876.25 885.65,876.52 886.15,879.28 886.64,883.86 887.14,889.42 887.63,896.66 888.13,904.25 888.63,912.12 889.12,919.82 889.62,924.24 890.12,926.72 890.61,926.70 891.11,925.82 891.61,922.54 892.10,919.86 892.60,915.11 893.10,911.88 893.59,908.48 894.09,906.21 894.58,904.96 895.08,903.69 895.58,901.71 896.07,901.34 896.57,900.32 897.07,900.19 897.56,900.58 898.06,899.73 898.56,900.38 899.05,900.78 899.55,901.18 900.05,902.10 900.54,902.09 901.04,901.66 901.53,901.66 902.03,901.41 902.53,902.09 903.02,900.99 903.52,900.84 904.02,900.52 904.51,900.28 905.01,899.92 905.51,900.63 906.00,900.23 906.50,900.86 907.00,900.26 907.49,901.16 907.99,900.69 908.49,901.37 908.98,901.41 909.48,901.24 909.97,901.16 910.47,901.66 910.97,900.96 911.46,901.75 911.96,902.10 912.46,901.35 912.95,901.63 913.45,901.50 913.95,901.36 914.44,901.69 914.94,902.22 915.44,902.13 915.93,901.97 916.43,900.92 916.92,901.32 917.42,901.48 917.92,901.12 918.41,899.83 918.91,899.13 919.41,899.57 919.90,900.08 920.40,899.64 920.90,899.44 921.39,900.24 921.89,900.98 922.39,901.37 922.88,900.82 923.38,901.83 923.87,902.40 924.37,902.28 924.87,901.30 925.36,901.01 925.86,901.27 926.36,901.20 926.85,900.93 927.35,900.66 927.85,900.81 928.34,901.57 928.84,902.06 929.34,901.52 929.83,901.67 930.33,902.21 930.82,901.62 931.32,901.33 931.82,901.49 932.31,901.24 932.81,901.26 933.31,900.89 933.80,900.21 934.30,901.04 934.80,901.75 935.29,901.37 935.79,901.82 936.29,901.73 936.78,902.29 937.28,901.84 937.78,901.52 938.27,901.28 938.77,901.66 939.26,900.90 939.76,901.76 940.26,901.52 940.75,901.39 941.25,901.26 941.75,900.43 942.24,900.03 942.74,900.51 943.24,899.96 943.73,900.34 944.23,900.61 944.73,900.67 945.22,900.68 945.72,900.70 946.21,900.27 946.71,900.18 947.21,899.94 947.70,900.13 948.20,899.51 948.70,899.47 949.19,899.34 949.69,899.83 950.19,900.14 950.68,900.50 951.18,900.92 951.68,901.72 952.17,902.30 952.67,902.02 953.16,901.49 953.66,901.18 954.16,900.95 954.65,900.55 955.15,900.36 955.65,900.31 956.14,900.93 956.64,901.37 957.14,901.65 957.63,901.67 958.13,901.38 958.63,900.99 959.12,901.23 959.62,901.15 960.11,900.99 960.61,900.73 961.11,901.46 961.60,901.38 962.10,901.69 962.60,901.60 963.09,901.02 963.59,901.14 964.09,901.97 964.58,901.47 965.08,901.99 965.58,902.29 966.07,902.23 966.57,903.02 967.07,902.92 967.56,902.09 968.06,901.78 968.55,901.88 969.05,901.78 969.55,901.99 970.04,900.88 970.54,901.38 971.04,902.42 971.53,902.88 972.03,902.42 972.53,901.98 973.02,901.83 973.52,902.22 974.02,902.04 974.51,900.97 975.01,900.83 975.50,901.46 976.00,901.02 976.50,901.02 976.99,901.13 977.49,900.33 977.99,900.30 978.48,899.86 978.98,899.74 979.48,899.93 979.97,900.21 980.47,901.23 980.97,901.98 981.46,902.41 981.96,902.49 982.45,901.66 982.95,902.43 983.45,902.18 983.94,901.70 984.44,902.44 984.94,902.50 985.43,902.67 985.93,903.69 986.43,902.99 986.92,902.42 987.42,902.00 987.92,900.80 988.41,900.79 988.91,900.51 989.40,900.58 989.90,901.65 990.40,902.36 990.89,902.36 991.39,902.83 991.89,902.88 992.38,902.60 992.88,902.08 993.38,901.77 993.87,901.57 994.37,902.30 994.87,902.52 995.36,901.91 995.86,902.35 996.36,901.91 996.85,901.86 997.35,901.46 997.84,901.22 998.34,900.91 998.84,901.58 999.33,901.48 999.83,901.25 1000.33,901.69 1000.82,901.95 1001.32,902.12 1001.82,902.13 1002.31,902.02 1002.81,902.76 1003.31,903.43 1003.80,903.30 1004.30,902.81 1004.79,902.62 1005.29,902.37 1005.79,902.06 1006.28,901.38 1006.78,901.39 1007.28,901.48 1007.77,901.34 1008.27,901.04 1008.77,900.86 1009.26,901.34 1009.76,901.18 1010.26,901.22 1010.75,900.46" fill="none" stroke="#2bb37c" stroke-width="1.15" stroke-dasharray="3,1.6" stroke-linejoin="round"/>
<polyline points="597.71,1002.06 598.21,1001.65 598.71,1001.69 599.20,1001.13 599.70,1000.49 600.20,1000.50 600.69,1000.24 601.19,999.96 601.69,1000.12 602.18,999.72 602.68,1000.65 603.17,1001.12 603.67,1001.16 604.17,1000.90 604.66,1001.60 605.16,1000.84 605.66,1000.81 606.15,1001.05 606.65,1001.37 607.15,1001.52 607.64,1001.93 608.14,1001.52 608.64,1002.71 609.13,1002.46 609.63,1002.23 610.12,1002.15 610.62,1002.80 611.12,1003.26 611.61,1002.86 612.11,1001.97 612.61,1002.41 613.10,1002.75 613.60,1002.89 614.10,1002.60 614.59,1002.94 615.09,1002.70 615.59,1003.49 616.08,1003.17 616.58,1002.59 617.07,1002.39 617.57,1002.82 618.07,1001.70 618.56,1001.87 619.06,1001.04 619.56,1001.39 620.05,1001.22 620.55,1001.33 621.05,1000.47 621.54,1000.66 622.04,1001.19 622.54,1001.66 623.03,1001.71 623.53,1002.04 624.03,1001.78 624.52,1001.62 625.02,1002.06 625.51,1001.77 626.01,1002.16 626.51,1001.28 627.00,1000.55 627.50,999.95 628.00,1000.18 628.49,1000.20 628.99,1000.33 629.49,999.99 629.98,1000.71 630.48,1001.51 630.98,1002.13 631.47,1002.56 631.97,1002.25 632.46,1001.33 632.96,1001.22 633.46,1001.63 633.95,1001.24 634.45,1001.29 634.95,1000.96 635.44,1000.75 635.94,1001.86 636.44,1001.90 636.93,1001.10 637.43,1000.19 637.93,1000.05 638.42,999.59 638.92,999.15 639.41,999.04 639.91,999.36 640.41,999.06 640.90,1000.39 641.40,1000.73 641.90,1001.13 642.39,1001.98 642.89,1001.17 643.39,1000.53 643.88,1000.69 644.38,1000.04 644.88,1000.18 645.37,999.99 645.87,999.36 646.36,999.59 646.86,1000.06 647.36,1000.43 647.85,1001.09 648.35,1000.55 648.85,1000.57 649.34,1000.78 649.84,1001.11 650.34,1000.74 650.83,1000.94 651.33,1001.26 651.83,1001.30 652.32,1001.74 652.82,1002.36 653.31,1002.13 653.81,1002.15 654.31,1001.69 654.80,1001.22 655.30,1001.58 655.80,1001.51 656.29,1001.07 656.79,1001.71 657.29,1002.29 657.78,1002.18 658.28,1002.04 658.78,1001.90 659.27,1002.19 659.77,1002.10 660.27,1001.45 660.76,1001.01 661.26,1000.88 661.75,1000.87 662.25,1000.64 662.75,1000.55 663.24,1000.28 663.74,1000.35 664.24,1000.17 664.73,1000.41 665.23,1000.65 665.73,1000.69 666.22,1000.68 666.72,1000.65 667.22,1000.82 667.71,1000.58 668.21,1000.78 668.70,1000.38 669.20,1000.72 669.70,1000.63 670.19,1000.95 670.69,1001.19 671.19,1001.82 671.68,1002.16 672.18,1002.58 672.68,1002.36 673.17,1002.20 673.67,1002.37 674.17,1001.95 674.66,1002.01 675.16,1002.20 675.65,1002.23 676.15,1002.13 676.65,1001.80 677.14,1001.67 677.64,1001.76 678.14,1002.00 678.63,1001.50 679.13,1001.15 679.63,1001.52 680.12,1001.79 680.62,1001.76 681.12,1002.37 681.61,1002.50 682.11,1002.83 682.60,1002.99 683.10,1002.42 683.60,1002.77 684.09,1002.84 684.59,1002.34 685.09,1001.67 685.58,1001.46 686.08,1001.31 686.58,1001.74 687.07,1002.03 687.57,1002.13 688.07,1001.50 688.56,1001.35 689.06,1000.82 689.56,1000.62 690.05,1000.70 690.55,1000.36 691.04,1000.04 691.54,1000.68 692.04,1000.75 692.53,1000.80 693.03,1000.59 693.53,1000.11 694.02,1000.42 694.52,1000.13 695.02,1000.36 695.51,1000.90 696.01,1001.04 696.51,1001.05 697.00,1000.46 697.50,998.97 697.99,998.24 698.49,995.97 698.99,993.56 699.48,991.36 699.98,988.65 700.48,986.27 700.97,984.08 701.47,982.76 701.97,982.52 702.46,984.08 702.96,987.18 703.46,991.69 703.95,998.24 704.45,1004.02 704.94,1009.07 705.44,1014.14 705.94,1016.68 706.43,1018.18 706.93,1018.32 707.43,1016.36 707.92,1014.80 708.42,1012.82 708.92,1010.54 709.41,1009.02 709.91,1007.55 710.41,1006.52 710.90,1005.36 711.40,1004.81 711.89,1003.89 712.39,1002.89 712.89,1002.87 713.38,1002.58 713.88,1002.36 714.38,1002.72 714.87,1002.62 715.37,1002.31 715.87,1002.48 716.36,1001.58 716.86,1001.35 717.36,1001.05 717.85,1001.26 718.35,1001.14 718.85,1001.32 719.34,1001.34 719.84,1001.33 720.33,1001.31 720.83,1001.71 721.33,1001.35 721.82,1000.53 722.32,1000.69 722.82,1000.86 723.31,1001.37 723.81,1001.74 724.31,1001.13 724.80,1001.22 725.30,1001.64 725.80,1001.82 726.29,1001.79 726.79,1001.91 727.28,1001.33 727.78,1001.82 728.28,1001.26 728.77,1001.00 729.27,1001.12 729.77,1000.97 730.26,1000.20 730.76,1000.11 731.26,1000.05 731.75,1000.96 732.25,1001.78 732.75,1001.86 733.24,1001.29 733.74,1001.79 734.23,1002.24 734.73,1002.36 735.23,1001.98 735.72,1001.55 736.22,1001.87 736.72,1002.96 737.21,1002.97 737.71,1002.48 738.21,1003.03 738.70,1002.71 739.20,1003.19 739.70,1003.24 740.19,1002.43 740.69,1002.56 741.18,1002.77 741.68,1002.25 742.18,1002.55 742.67,1002.80 743.17,1002.36 743.67,1002.67 744.16,1002.95 744.66,1002.97 745.16,1002.68 745.65,1003.32 746.15,1002.39 746.65,1002.03 747.14,1002.05 747.64,1001.32 748.14,1000.71 748.63,1001.18 749.13,1000.17 749.62,1000.27 750.12,1000.30 750.62,999.96 751.11,999.96 751.61,1000.71 752.11,1001.16 752.60,1001.67 753.10,1002.10 753.60,1001.71 754.09,1002.02 754.59,1001.96 755.09,1002.11 755.58,1001.14 756.08,1000.72 756.57,1000.12 757.07,999.88 757.57,998.49 758.06,997.70 758.56,994.97 759.06,991.84 759.55,988.05 760.05,983.29 760.55,978.33 761.04,973.65 761.54,968.33 762.04,964.74 762.53,962.97 763.03,963.87 763.52,967.18 764.02,974.17 764.52,983.30 765.01,994.51 765.51,1005.56 766.01,1014.73 766.50,1022.41 767.00,1028.92 767.50,1030.96 767.99,1031.66 768.49,1030.99 768.99,1028.01 769.48,1024.48 769.98,1019.92 770.47,1014.92 770.97,1011.70 771.47,1009.03 771.96,1006.47 772.46,1004.33 772.96,1002.67 773.45,1002.01 773.95,1001.47 774.45,1001.47 774.94,1001.63 775.44,1001.96 775.94,1002.13 776.43,1002.81 776.93,1002.54 777.42,1002.85 777.92,1002.22 778.42,1001.99 778.91,1001.14 779.41,1001.96 779.91,1001.46 780.40,1001.69 780.90,1001.36 781.40,1002.61 781.89,1002.17 782.39,1002.24 782.89,1000.72 783.38,1000.92 783.88,1001.19 784.38,1001.59 784.87,1001.12 785.37,1001.37 785.86,1001.75 786.36,1002.52 786.86,1002.79 787.35,1002.38 787.85,1002.38 788.35,1002.19 788.84,1001.21 789.34,1000.62 789.84,1000.92 790.33,1000.44 790.83,1000.24 791.33,1000.56 791.82,1000.04 792.32,1000.80 792.81,1001.24 793.31,1001.14 793.81,1000.79 794.30,1001.37 794.80,1001.88 795.30,1002.41 795.79,1002.76 796.29,1002.06 796.79,1001.17 797.28,1001.64 797.78,1001.35 798.28,1000.79 798.77,1000.74 799.27,1000.39 799.76,1001.18 800.26,1002.41 800.76,1002.14 801.25,1001.57 801.75,1001.93 802.25,1002.33 802.74,1002.65 803.24,1002.44 803.74,1002.65 804.23,1002.75 804.73,1003.47 805.23,1002.42 805.72,1002.03 806.22,1001.57 806.71,1001.50 807.21,1000.84 807.71,1000.56 808.20,1000.97 808.70,1001.24 809.20,1001.28 809.69,1001.59 810.19,1001.18 810.69,1001.25 811.18,1001.72 811.68,1001.04 812.18,1002.03 812.67,1002.21 813.17,1002.23 813.67,1002.32 814.16,1001.57 814.66,1001.15 815.15,1001.13 815.65,1000.33 816.15,1000.53 816.64,999.59 817.14,999.44 817.64,999.22 818.13,999.58 818.63,998.99 819.13,998.17 819.62,996.32 820.12,995.64 820.62,993.44 821.11,990.97 821.61,986.01 822.10,982.26 822.60,978.12 823.10,974.62 823.59,971.73 824.09,970.54 824.59,971.44 825.08,976.02 825.58,982.00 826.08,990.16 826.57,999.68 827.07,1009.90 827.57,1020.37 828.06,1028.94 828.56,1034.23 829.05,1037.30 829.55,1036.67 830.05,1034.12 830.54,1030.85 831.04,1025.66 831.54,1019.87 832.03,1015.77 832.53,1011.42 833.03,1008.43 833.52,1006.44 834.02,1003.88 834.52,1002.46 835.01,1002.23 835.51,1001.17 836.00,1000.37 836.50,1000.50 837.00,999.83 837.49,1000.15 837.99,1000.58 838.49,1000.87 838.98,1000.87 839.48,1000.79 839.98,1000.47 840.47,1000.73 840.97,1001.22 841.47,1001.51 841.96,1001.05 842.46,1001.52 842.96,1001.58 843.45,1002.36 843.95,1002.31 844.44,1002.05 844.94,1001.98 845.44,1002.10 845.93,1001.90 846.43,1001.93 846.93,1001.56 847.42,1002.05 847.92,1003.17 848.42,1003.20 848.91,1003.32 849.41,1002.87 849.91,1003.58 850.40,1003.05 850.90,1002.42 851.39,1001.17 851.89,1000.53 852.39,1001.01 852.88,1001.72 853.38,1001.18 853.88,1001.54 854.37,1001.37 854.87,1000.78 855.37,1001.33 855.86,1001.03 856.36,1000.78 856.86,1001.06 857.35,1001.06 857.85,1001.62 858.34,1001.60 858.84,1001.45 859.34,1001.74 859.83,1002.06 860.33,1001.82 860.83,1001.89 861.32,1002.23 861.82,1003.33 862.32,1002.82 862.81,1002.19 863.31,1001.82 863.81,1002.38 864.30,1002.22 864.80,1001.97 865.29,1001.27 865.79,1002.57 866.29,1002.86 866.78,1002.73 867.28,1002.21 867.78,1002.85 868.27,1002.86 868.77,1002.60 869.27,1001.87 869.76,1001.28 870.26,1001.07 870.76,1000.75 871.25,999.95 871.75,999.49 872.25,999.53 872.74,999.63 873.24,1000.35 873.73,1000.52 874.23,1000.58 874.73,1001.29 875.22,1000.84 875.72,1000.52 876.22,1000.59 876.71,1000.54 877.21,1000.93 877.71,1001.22 878.20,1000.48 878.70,1000.92 879.20,1001.62 879.69,1000.89 880.19,1000.06 880.68,998.68 881.18,997.51 881.68,997.03 882.17,995.78 882.67,993.24 883.17,990.88 883.66,988.52 884.16,986.87 884.66,985.02 885.15,983.65 885.65,982.89 886.15,984.35 886.64,987.77 887.14,992.44 887.63,996.91 888.13,1002.25 888.63,1007.26 889.12,1011.82 889.62,1014.93 890.12,1016.54 890.61,1016.61 891.11,1016.58 891.61,1015.52 892.10,1013.02 892.60,1010.91 893.10,1008.97 893.59,1006.51 894.09,1004.62 894.58,1003.43 895.08,1001.81 895.58,1001.77 896.07,1001.54 896.57,1001.29 897.07,1001.79 897.56,1002.20 898.06,1002.24 898.56,1002.61 899.05,1002.19 899.55,1002.01 900.05,1002.69 900.54,1002.82 901.04,1002.35 901.53,1001.83 902.03,1001.73 902.53,1001.81 903.02,1001.97 903.52,1002.11 904.02,1001.18 904.51,1001.83 905.01,1002.09 905.51,1002.09 906.00,1002.04 906.50,1001.80 907.00,1001.05 907.49,1002.00 907.99,1001.15 908.49,1001.44 908.98,1001.55 909.48,1002.11 909.97,1002.41 910.47,1002.81 910.97,1002.66 911.46,1003.53 911.96,1003.11 912.46,1002.96 912.95,1002.68 913.45,1002.78 913.95,1003.07 914.44,1002.21 914.94,1001.78 915.44,1002.12 915.93,1001.98 916.43,1001.68 916.92,1002.15 917.42,1001.92 917.92,1002.30 918.41,1002.85 918.91,1002.89 919.41,1003.57 919.90,1003.77 920.40,1003.14 920.90,1002.38 921.39,1002.50 921.89,1002.27 922.39,1001.92 922.88,1002.28 923.38,1002.04 923.87,1001.16 924.37,1001.34 924.87,1001.61 925.36,1001.49 925.86,1001.47 926.36,1000.57 926.85,1001.18 927.35,1001.77 927.85,1002.12 928.34,1001.93 928.84,1001.40 929.34,1001.85 929.83,1001.29 930.33,1000.50 930.82,1000.87 931.32,1000.51 931.82,1000.86 932.31,1001.23 932.81,1000.61 933.31,1002.17 933.80,1002.38 934.30,1002.18 934.80,1001.94 935.29,1001.44 935.79,1001.69 936.29,1002.03 936.78,1001.31 937.28,1001.15 937.78,1001.44 938.27,1001.23 938.77,1001.37 939.26,1001.07 939.76,1000.60 940.26,1000.65 940.75,1000.66 941.25,1000.16 941.75,1001.34 942.24,1001.70 942.74,1002.19 943.24,1002.49 943.73,1002.76 944.23,1003.25 944.73,1003.92 945.22,1004.11 945.72,1003.79 946.21,1003.48 946.71,1003.44 947.21,1001.95 947.70,1001.22 948.20,1000.82 948.70,1000.24 949.19,1000.13 949.69,1000.42 950.19,1000.87 950.68,1001.91 951.18,1002.85 951.68,1003.43 952.17,1003.38 952.67,1003.24 953.16,1003.36 953.66,1002.87 954.16,1002.89 954.65,1002.45 955.15,1001.69 955.65,1001.89 956.14,1002.48 956.64,1002.40 957.14,1002.65 957.63,1002.51 958.13,1002.42 958.63,1002.89 959.12,1002.40 959.62,1003.11 960.11,1002.63 960.61,1002.24 961.11,1002.89 961.60,1003.19 962.10,1002.89 962.60,1002.95 963.09,1002.11 963.59,1002.47 964.09,1002.92 964.58,1002.44 965.08,1002.33 965.58,1002.63 966.07,1002.96 966.57,1001.78 967.07,1001.21 967.56,1000.69 968.06,1000.72 968.55,1000.63 969.05,1000.66 969.55,1000.61 970.04,1001.60 970.54,1001.90 971.04,1002.75 971.53,1002.62 972.03,1002.66 972.53,1002.88 973.02,1002.79 973.52,1002.15 974.02,1002.27 974.51,1001.55 975.01,1001.72 975.50,1001.97 976.00,1001.60 976.50,1001.39 976.99,1002.38 977.49,1002.40 977.99,1002.56 978.48,1002.70 978.98,1002.43 979.48,1002.16 979.97,1002.10 980.47,1001.81 980.97,1001.34 981.46,1000.89 981.96,1001.22 982.45,1001.06 982.95,1001.16 983.45,1001.27 983.94,1001.27 984.44,1001.60 984.94,1002.04 985.43,1001.33 985.93,1001.73 986.43,1001.50 986.92,1001.89 987.42,1001.25 987.92,1000.88 988.41,1001.19 988.91,1001.41 989.40,1000.88 989.90,1001.23 990.40,1000.54 990.89,1001.20 991.39,1000.82 991.89,1000.34 992.38,1000.17 992.88,1000.57 993.38,1000.74 993.87,1000.80 994.37,1001.32 994.87,1001.86 995.36,1001.32 995.86,1000.74 996.36,1001.08 996.85,1000.76 997.35,1000.83 997.84,1000.04 998.34,999.87 998.84,1001.01 999.33,1001.78 999.83,1001.86 1000.33,1001.82 1000.82,1001.26 1001.32,1001.79 1001.82,1002.03 1002.31,1001.50 1002.81,1002.05 1003.31,1001.36 1003.80,1001.82 1004.30,1002.60 1004.79,1002.07 1005.29,1002.36 1005.79,1002.24 1006.28,1002.13 1006.78,1002.54 1007.28,1002.17 1007.77,1002.37 1008.27,1002.81 1008.77,1002.55 1009.26,1003.05 1009.76,1002.57 1010.26,1002.45 1010.75,1002.11" fill="none" stroke="#2f87e8" stroke-width="1.15" stroke-dasharray="3,1.6" stroke-linejoin="round"/>
<polyline points="597.71,1072.03 598.21,1072.13 598.71,1072.48 599.20,1072.84 599.70,1072.46 600.20,1072.67 600.69,1072.77 601.19,1072.90 601.69,1073.11 602.18,1072.83 602.68,1072.85 603.17,1073.27 603.67,1073.08 604.17,1072.67 604.66,1072.78 605.16,1072.60 605.66,1072.54 606.15,1072.32 606.65,1072.42 607.15,1072.70 607.64,1072.28 608.14,1072.02 608.64,1071.61 609.13,1071.41 609.63,1071.42 610.12,1071.32 610.62,1070.93 611.12,1071.65 611.61,1071.97 612.11,1071.71 612.61,1071.78 613.10,1071.52 613.60,1072.13 614.10,1072.26 614.59,1071.93 615.09,1071.87 615.59,1072.32 616.08,1072.29 616.58,1073.13 617.07,1072.67 617.57,1073.07 618.07,1073.54 618.56,1073.21 619.06,1073.80 619.56,1074.03 620.05,1073.85 620.55,1073.51 621.05,1073.51 621.54,1073.29 622.04,1073.42 622.54,1073.61 623.03,1073.57 623.53,1073.20 624.03,1073.53 624.52,1073.56 625.02,1073.78 625.51,1074.13 626.01,1073.80 626.51,1074.08 627.00,1073.77 627.50,1073.56 628.00,1072.98 628.49,1072.66 628.99,1072.93 629.49,1072.75 629.98,1071.97 630.48,1072.27 630.98,1072.74 631.47,1072.86 631.97,1072.80 632.46,1072.45 632.96,1071.68 633.46,1072.25 633.95,1072.45 634.45,1072.30 634.95,1072.16 635.44,1071.95 635.94,1071.67 636.44,1072.32 636.93,1072.10 637.43,1072.03 637.93,1072.41 638.42,1073.12 638.92,1073.14 639.41,1073.12 639.91,1073.57 640.41,1073.45 640.90,1073.84 641.40,1073.78 641.90,1073.21 642.39,1073.35 642.89,1073.58 643.39,1072.78 643.88,1072.57 644.38,1072.02 644.88,1071.78 645.37,1071.81 645.87,1071.83 646.36,1071.66 646.86,1071.51 647.36,1072.27 647.85,1071.67 648.35,1071.20 648.85,1071.51 649.34,1071.14 649.84,1071.48 650.34,1072.29 650.83,1071.56 651.33,1072.35 651.83,1072.21 652.32,1072.20 652.82,1072.66 653.31,1072.54 653.81,1072.57 654.31,1072.99 654.80,1073.34 655.30,1073.88 655.80,1073.35 656.29,1073.40 656.79,1073.49 657.29,1072.62 657.78,1072.88 658.28,1072.49 658.78,1072.40 659.27,1072.50 659.77,1072.44 660.27,1072.38 660.76,1072.73 661.26,1072.34 661.75,1071.66 662.25,1071.97 662.75,1071.90 663.24,1071.20 663.74,1070.81 664.24,1070.65 664.73,1070.79 665.23,1071.17 665.73,1070.83 666.22,1070.88 666.72,1072.24 667.22,1072.71 667.71,1073.58 668.21,1073.09 668.70,1073.59 669.20,1073.20 669.70,1073.68 670.19,1073.20 670.69,1072.54 671.19,1071.57 671.68,1071.53 672.18,1070.85 672.68,1070.92 673.17,1070.44 673.67,1069.78 674.17,1070.31 674.66,1070.83 675.16,1070.78 675.65,1071.08 676.15,1071.31 676.65,1071.53 677.14,1071.76 677.64,1071.98 678.14,1072.08 678.63,1072.70 679.13,1072.80 679.63,1073.42 680.12,1074.03 680.62,1074.12 681.12,1073.83 681.61,1073.94 682.11,1073.48 682.60,1073.67 683.10,1073.06 683.60,1072.30 684.09,1072.36 684.59,1071.90 685.09,1071.36 685.58,1070.99 686.08,1071.58 686.58,1072.03 687.07,1072.63 687.57,1072.80 688.07,1073.60 688.56,1074.16 689.06,1075.09 689.56,1074.67 690.05,1073.92 690.55,1073.67 691.04,1073.41 691.54,1072.73 692.04,1071.98 692.53,1071.79 693.03,1071.83 693.53,1071.68 694.02,1072.07 694.52,1072.65 695.02,1072.83 695.51,1072.91 696.01,1072.54 696.51,1072.16 697.00,1071.92 697.50,1070.23 697.99,1068.76 698.49,1066.76 698.99,1065.10 699.48,1063.36 699.98,1060.88 700.48,1059.08 700.97,1057.84 701.47,1056.98 701.97,1057.78 702.46,1058.88 702.96,1061.20 703.46,1065.00 703.95,1069.91 704.45,1074.81 704.94,1078.35 705.44,1081.14 705.94,1083.39 706.43,1084.62 706.93,1085.31 707.43,1084.42 707.92,1082.67 708.42,1080.71 708.92,1079.52 709.41,1078.21 709.91,1076.83 710.41,1075.28 710.90,1074.81 711.40,1074.14 711.89,1074.47 712.39,1074.30 712.89,1074.05 713.38,1074.23 713.88,1074.10 714.38,1073.29 714.87,1073.24 715.37,1072.42 715.87,1072.19 716.36,1072.18 716.86,1072.08 717.36,1072.37 717.85,1071.66 718.35,1071.84 718.85,1071.56 719.34,1071.46 719.84,1071.18 720.33,1071.03 720.83,1071.20 721.33,1071.64 721.82,1071.60 722.32,1072.14 722.82,1071.50 723.31,1071.97 723.81,1071.95 724.31,1071.37 724.80,1071.68 725.30,1072.62 725.80,1072.52 726.29,1072.55 726.79,1072.06 727.28,1071.93 727.78,1071.97 728.28,1072.17 728.77,1070.84 729.27,1071.14 729.77,1071.54 730.26,1071.41 730.76,1071.27 731.26,1071.27 731.75,1071.56 732.25,1072.04 732.75,1071.76 733.24,1071.92 733.74,1072.41 734.23,1073.30 734.73,1073.22 735.23,1073.11 735.72,1073.18 736.22,1072.99 736.72,1073.04 737.21,1073.03 737.71,1072.25 738.21,1072.61 738.70,1072.79 739.20,1072.91 739.70,1073.15 740.19,1073.15 740.69,1073.83 741.18,1073.63 741.68,1073.53 742.18,1073.48 742.67,1073.18 743.17,1073.44 743.67,1073.44 744.16,1072.94 744.66,1073.68 745.16,1073.55 745.65,1073.33 746.15,1073.27 746.65,1072.94 747.14,1072.88 747.64,1072.29 748.14,1072.12 748.63,1072.72 749.13,1073.19 749.62,1073.60 750.12,1073.43 750.62,1073.91 751.11,1074.04 751.61,1073.79 752.11,1073.83 752.60,1072.97 753.10,1072.83 753.60,1073.22 754.09,1072.69 754.59,1072.63 755.09,1072.74 755.58,1071.96 756.08,1072.51 756.57,1072.44 757.07,1071.59 757.57,1070.94 758.06,1070.28 758.56,1068.56 759.06,1066.66 759.55,1064.13 760.05,1060.93 760.55,1057.68 761.04,1054.33 761.54,1051.43 762.04,1048.93 762.53,1047.68 763.03,1048.45 763.52,1051.17 764.02,1055.38 764.52,1061.05 765.01,1068.09 765.51,1074.92 766.01,1080.95 766.50,1085.18 767.00,1088.40 767.50,1089.96 767.99,1089.95 768.49,1088.37 768.99,1087.01 769.48,1084.45 769.98,1081.31 770.47,1078.68 770.97,1077.42 771.47,1076.20 771.96,1075.08 772.46,1073.90 772.96,1073.64 773.45,1073.78 773.95,1073.52 774.45,1073.12 774.94,1072.99 775.44,1072.76 775.94,1072.67 776.43,1072.19 776.93,1072.06 777.42,1072.18 777.92,1072.35 778.42,1072.74 778.91,1072.53 779.41,1072.63 779.91,1072.54 780.40,1072.36 780.90,1071.81 781.40,1072.03 781.89,1072.02 782.39,1072.29 782.89,1071.76 783.38,1071.95 783.88,1072.05 784.38,1072.83 784.87,1072.00 785.37,1071.18 785.86,1071.32 786.36,1071.68 786.86,1071.71 787.35,1072.09 787.85,1072.22 788.35,1072.57 788.84,1072.97 789.34,1072.50 789.84,1072.57 790.33,1072.80 790.83,1072.48 791.33,1072.20 791.82,1072.32 792.32,1072.96 792.81,1073.61 793.31,1073.21 793.81,1072.74 794.30,1072.35 794.80,1071.44 795.30,1071.51 795.79,1071.31 796.29,1071.82 796.79,1072.13 797.28,1072.25 797.78,1072.39 798.28,1073.23 798.77,1073.27 799.27,1072.81 799.76,1072.42 800.26,1072.61 800.76,1072.11 801.25,1072.68 801.75,1072.42 802.25,1072.17 802.74,1072.23 803.24,1072.56 803.74,1072.86 804.23,1074.01 804.73,1073.42 805.23,1073.18 805.72,1073.58 806.22,1073.33 806.71,1072.57 807.21,1071.53 807.71,1071.54 808.20,1072.22 808.70,1072.57 809.20,1072.36 809.69,1072.60 810.19,1072.70 810.69,1073.46 811.18,1072.66 811.68,1072.71 812.18,1072.41 812.67,1072.07 813.17,1072.61 813.67,1072.69 814.16,1072.67 814.66,1072.76 815.15,1071.67 815.65,1071.99 816.15,1071.82 816.64,1071.72 817.14,1071.22 817.64,1070.35 818.13,1070.36 818.63,1070.84 819.13,1070.14 819.62,1069.33 820.12,1068.03 820.62,1066.35 821.11,1064.58 821.61,1061.56 822.10,1058.29 822.60,1055.41 823.10,1052.76 823.59,1050.57 824.09,1050.36 824.59,1050.69 825.08,1053.13 825.58,1057.48 826.08,1062.87 826.57,1069.94 827.07,1075.89 827.57,1082.00 828.06,1087.68 828.56,1091.31 829.05,1092.55 829.55,1092.61 830.05,1090.88 830.54,1089.25 831.04,1086.11 831.54,1083.14 832.03,1080.32 832.53,1078.86 833.03,1076.27 833.52,1074.73 834.02,1073.71 834.52,1072.60 835.01,1072.18 835.51,1071.67 836.00,1071.10 836.50,1071.45 837.00,1071.58 837.49,1071.46 837.99,1071.89 838.49,1071.54 838.98,1072.58 839.48,1072.55 839.98,1072.54 840.47,1072.96 840.97,1073.16 841.47,1073.58 841.96,1074.25 842.46,1073.29 842.96,1073.62 843.45,1074.27 843.95,1073.98 844.44,1073.80 844.94,1072.49 845.44,1071.76 845.93,1072.60 846.43,1071.72 846.93,1071.20 847.42,1071.29 847.92,1071.39 848.42,1072.83 848.91,1072.46 849.41,1071.92 849.91,1072.74 850.40,1072.50 850.90,1072.40 851.39,1072.81 851.89,1072.71 852.39,1073.42 852.88,1072.60 853.38,1072.29 853.88,1072.82 854.37,1072.73 854.87,1072.13 855.37,1072.68 855.86,1072.44 856.36,1072.95 856.86,1073.07 857.35,1072.85 857.85,1072.85 858.34,1072.84 858.84,1072.13 859.34,1072.27 859.83,1072.19 860.33,1072.08 860.83,1072.32 861.32,1072.27 861.82,1072.66 862.32,1072.66 862.81,1072.28 863.31,1072.75 863.81,1073.41 864.30,1073.75 864.80,1073.87 865.29,1073.80 865.79,1073.35 866.29,1073.20 866.78,1073.28 867.28,1072.74 867.78,1072.41 868.27,1072.42 868.77,1072.24 869.27,1072.29 869.76,1072.89 870.26,1072.98 870.76,1072.88 871.25,1072.98 871.75,1072.43 872.25,1072.09 872.74,1072.70 873.24,1073.10 873.73,1072.91 874.23,1072.90 874.73,1072.25 875.22,1072.92 875.72,1073.40 876.22,1072.49 876.71,1072.11 877.21,1072.18 877.71,1072.34 878.20,1072.36 878.70,1072.37 879.20,1071.59 879.69,1072.38 880.19,1072.04 880.68,1071.19 881.18,1070.99 881.68,1071.02 882.17,1069.75 882.67,1069.78 883.17,1067.72 883.66,1066.40 884.16,1065.82 884.66,1063.64 885.15,1063.00 885.65,1063.25 886.15,1063.41 886.64,1065.05 887.14,1067.44 887.63,1069.61 888.13,1073.27 888.63,1076.15 889.12,1078.60 889.62,1081.13 890.12,1082.17 890.61,1082.05 891.11,1081.74 891.61,1080.91 892.10,1079.85 892.60,1078.92 893.10,1076.85 893.59,1075.84 894.09,1075.03 894.58,1074.57 895.08,1074.20 895.58,1073.39 896.07,1072.24 896.57,1072.84 897.07,1073.16 897.56,1073.17 898.06,1073.00 898.56,1072.60 899.05,1072.44 899.55,1072.98 900.05,1072.24 900.54,1071.75 901.04,1071.21 901.53,1071.01 902.03,1071.35 902.53,1071.51 903.02,1071.62 903.52,1071.04 904.02,1071.17 904.51,1071.59 905.01,1071.30 905.51,1070.59 906.00,1070.87 906.50,1070.61 907.00,1071.41 907.49,1071.34 907.99,1071.57 908.49,1071.85 908.98,1071.92 909.48,1071.76 909.97,1071.91 910.47,1071.96 910.97,1071.96 911.46,1071.64 911.96,1072.01 912.46,1072.84 912.95,1073.11 913.45,1073.53 913.95,1073.47 914.44,1073.85 914.94,1074.24 915.44,1074.10 915.93,1073.76 916.43,1073.57 916.92,1073.99 917.42,1073.85 917.92,1073.54 918.41,1073.15 918.91,1073.02 919.41,1073.07 919.90,1072.68 920.40,1071.32 920.90,1071.40 921.39,1070.98 921.89,1071.17 922.39,1071.23 922.88,1071.51 923.38,1072.38 923.87,1073.11 924.37,1072.84 924.87,1072.98 925.36,1072.65 925.86,1072.62 926.36,1071.62 926.85,1071.12 927.35,1071.00 927.85,1071.38 928.34,1071.64 928.84,1071.92 929.34,1071.68 929.83,1072.17 930.33,1071.60 930.82,1071.64 931.32,1071.92 931.82,1072.08 932.31,1072.16 932.81,1072.08 933.31,1072.67 933.80,1072.99 934.30,1073.20 934.80,1072.75 935.29,1072.40 935.79,1072.61 936.29,1072.92 936.78,1072.53 937.28,1072.90 937.78,1072.65 938.27,1072.50 938.77,1072.94 939.26,1072.50 939.76,1072.51 940.26,1072.25 940.75,1071.64 941.25,1071.44 941.75,1071.41 942.24,1071.26 942.74,1071.76 943.24,1071.21 943.73,1071.46 944.23,1071.24 944.73,1071.12 945.22,1071.12 945.72,1070.41 946.21,1069.47 946.71,1070.04 947.21,1070.02 947.70,1070.68 948.20,1070.75 948.70,1071.58 949.19,1072.23 949.69,1072.54 950.19,1073.01 950.68,1073.18 951.18,1073.10 951.68,1073.72 952.17,1073.10 952.67,1073.35 953.16,1073.69 953.66,1072.85 954.16,1072.96 954.65,1073.12 955.15,1072.44 955.65,1072.15 956.14,1072.25 956.64,1072.06 957.14,1072.40 957.63,1072.30 958.13,1072.29 958.63,1072.13 959.12,1072.56 959.62,1072.56 960.11,1072.94 960.61,1073.43 961.11,1073.34 961.60,1073.54 962.10,1074.51 962.60,1074.22 963.09,1074.47 963.59,1074.74 964.09,1074.48 964.58,1074.94 965.08,1074.96 965.58,1074.20 966.07,1074.64 966.57,1074.20 967.07,1073.79 967.56,1073.59 968.06,1073.45 968.55,1073.35 969.05,1073.41 969.55,1073.21 970.04,1073.33 970.54,1072.98 971.04,1072.80 971.53,1072.25 972.03,1071.89 972.53,1072.22 973.02,1072.38 973.52,1072.74 974.02,1073.34 974.51,1073.79 975.01,1074.27 975.50,1074.87 976.00,1074.65 976.50,1074.55 976.99,1074.06 977.49,1073.65 977.99,1073.19 978.48,1072.68 978.98,1072.18 979.48,1071.91 979.97,1071.86 980.47,1071.75 980.97,1071.82 981.46,1072.07 981.96,1072.45 982.45,1072.35 982.95,1072.70 983.45,1072.04 983.94,1071.36 984.44,1070.72 984.94,1071.09 985.43,1070.30 985.93,1070.63 986.43,1071.12 986.92,1071.48 987.42,1072.68 987.92,1073.85 988.41,1073.67 988.91,1074.98 989.40,1075.02 989.90,1074.34 990.40,1074.64 990.89,1074.00 991.39,1073.02 991.89,1072.33 992.38,1072.31 992.88,1071.95 993.38,1072.17 993.87,1071.81 994.37,1071.99 994.87,1072.32 995.36,1072.59 995.86,1071.50 996.36,1071.23 996.85,1071.01 997.35,1071.31 997.84,1071.91 998.34,1072.31 998.84,1073.01 999.33,1073.54 999.83,1073.95 1000.33,1073.77 1000.82,1073.68 1001.32,1072.37 1001.82,1071.95 1002.31,1071.89 1002.81,1071.85 1003.31,1072.22 1003.80,1072.52 1004.30,1072.09 1004.79,1072.61 1005.29,1072.58 1005.79,1072.45 1006.28,1072.96 1006.78,1072.38 1007.28,1072.39 1007.77,1072.78 1008.27,1072.82 1008.77,1072.55 1009.26,1072.21 1009.76,1071.71 1010.26,1072.06 1010.75,1071.80" fill="none" stroke="#f05656" stroke-width="1.15" stroke-dasharray="3,1.6" stroke-linejoin="round"/>
<polyline points="597.71,1109.20 598.21,1108.87 598.71,1108.86 599.20,1109.15 599.70,1109.61 600.20,1109.80 600.69,1110.71 601.19,1110.88 601.69,1111.45 602.18,1112.09 602.68,1111.89 603.17,1111.98 603.67,1112.00 604.17,1111.16 604.66,1111.30 605.16,1111.52 605.66,1110.77 606.15,1110.31 606.65,1109.98 607.15,1109.76 607.64,1109.15 608.14,1109.31 608.64,1108.60 609.13,1109.26 609.63,1109.12 610.12,1108.68 610.62,1108.63 611.12,1108.67 611.61,1108.08 612.11,1108.27 612.61,1108.35 613.10,1108.55 613.60,1109.09 614.10,1110.01 614.59,1110.82 615.09,1110.72 615.59,1110.61 616.08,1110.38 616.58,1110.30 617.07,1110.13 617.57,1109.07 618.07,1109.50 618.56,1109.95 619.06,1110.05 619.56,1110.19 620.05,1110.18 620.55,1110.89 621.05,1111.36 621.54,1111.18 622.04,1110.05 622.54,1110.29 623.03,1110.76 623.53,1111.53 624.03,1111.05 624.52,1110.27 625.02,1110.08 625.51,1110.98 626.01,1110.22 626.51,1109.63 627.00,1109.30 627.50,1109.72 628.00,1110.59 628.49,1110.00 628.99,1111.11 629.49,1111.33 629.98,1111.53 630.48,1110.64 630.98,1110.68 631.47,1110.58 631.97,1111.27 632.46,1110.41 632.96,1110.80 633.46,1110.89 633.95,1110.73 634.45,1110.62 634.95,1110.79 635.44,1110.33 635.94,1110.30 636.44,1110.43 636.93,1110.93 637.43,1111.75 637.93,1111.41 638.42,1110.91 638.92,1110.51 639.41,1110.31 639.91,1110.23 640.41,1109.58 640.90,1109.46 641.40,1109.71 641.90,1110.04 642.39,1110.68 642.89,1111.12 643.39,1111.16 643.88,1111.24 644.38,1111.38 644.88,1110.51 645.37,1110.80 645.87,1110.24 646.36,1110.31 646.86,1110.25 647.36,1110.65 647.85,1110.50 648.35,1110.78 648.85,1110.71 649.34,1111.24 649.84,1110.98 650.34,1111.01 650.83,1110.97 651.33,1111.25 651.83,1111.67 652.32,1110.74 652.82,1110.53 653.31,1110.52 653.81,1111.13 654.31,1110.92 654.80,1110.59 655.30,1110.94 655.80,1111.45 656.29,1111.58 656.79,1111.60 657.29,1110.43 657.78,1110.64 658.28,1110.82 658.78,1110.30 659.27,1109.93 659.77,1110.02 660.27,1110.46 660.76,1110.77 661.26,1110.05 661.75,1110.05 662.25,1109.58 662.75,1109.20 663.24,1108.96 663.74,1108.22 664.24,1108.35 664.73,1108.53 665.23,1108.50 665.73,1108.99 666.22,1109.57 666.72,1109.57 667.22,1110.04 667.71,1110.47 668.21,1110.99 668.70,1111.12 669.20,1110.03 669.70,1109.89 670.19,1109.94 670.69,1109.79 671.19,1108.87 671.68,1109.06 672.18,1108.92 672.68,1109.87 673.17,1110.28 673.67,1110.27 674.17,1109.93 674.66,1110.68 675.16,1110.02 675.65,1109.41 676.15,1109.40 676.65,1109.31 677.14,1109.05 677.64,1109.76 678.14,1109.20 678.63,1109.98 679.13,1110.80 679.63,1110.70 680.12,1110.78 680.62,1111.59 681.12,1111.07 681.61,1111.04 682.11,1110.45 682.60,1110.84 683.10,1110.65 683.60,1110.80 684.09,1110.38 684.59,1110.41 685.09,1110.70 685.58,1110.55 686.08,1110.21 686.58,1110.95 687.07,1110.40 687.57,1110.95 688.07,1110.53 688.56,1110.91 689.06,1111.09 689.56,1111.15 690.05,1111.06 690.55,1111.79 691.04,1111.23 691.54,1112.04 692.04,1111.93 692.53,1112.62 693.03,1111.95 693.53,1112.25 694.02,1112.04 694.52,1112.11 695.02,1111.57 695.51,1111.60 696.01,1110.32 696.51,1110.08 697.00,1109.91 697.50,1109.19 697.99,1109.64 698.49,1109.74 698.99,1109.67 699.48,1110.22 699.98,1110.86 700.48,1110.51 700.97,1110.93 701.47,1110.38 701.97,1110.85 702.46,1111.16 702.96,1111.59 703.46,1111.57 703.95,1111.60 704.45,1111.13 704.94,1111.41 705.44,1111.33 705.94,1110.79 706.43,1110.62 706.93,1110.95 707.43,1111.05 707.92,1112.03 708.42,1111.91 708.92,1110.99 709.41,1110.97 709.91,1110.54 710.41,1110.27 710.90,1109.93 711.40,1109.39 711.89,1108.94 712.39,1109.55 712.89,1109.74 713.38,1110.23 713.88,1110.33 714.38,1110.69 714.87,1110.93 715.37,1111.31 715.87,1111.37 716.36,1111.89 716.86,1110.66 717.36,1110.32 717.85,1110.37 718.35,1110.69 718.85,1110.26 719.34,1110.34 719.84,1110.10 720.33,1110.82 720.83,1110.21 721.33,1109.97 721.82,1109.14 722.32,1109.76 722.82,1109.34 723.31,1109.66 723.81,1109.87 724.31,1110.26 724.80,1110.21 725.30,1110.25 725.80,1110.16 726.29,1110.99 726.79,1110.28 727.28,1110.56 727.78,1110.51 728.28,1110.80 728.77,1112.01 729.27,1111.37 729.77,1111.28 730.26,1111.77 730.76,1110.77 731.26,1110.60 731.75,1110.14 732.25,1109.67 732.75,1110.01 733.24,1109.52 733.74,1109.35 734.23,1110.06 734.73,1110.65 735.23,1110.88 735.72,1110.94 736.22,1110.81 736.72,1111.47 737.21,1111.10 737.71,1110.77 738.21,1110.92 738.70,1111.19 739.20,1110.09 739.70,1110.45 740.19,1109.37 740.69,1109.19 741.18,1109.76 741.68,1109.22 742.18,1109.19 742.67,1109.75 743.17,1110.36 743.67,1110.81 744.16,1110.68 744.66,1110.01 745.16,1109.99 745.65,1109.91 746.15,1110.04 746.65,1109.70 747.14,1109.79 747.64,1110.26 748.14,1110.76 748.63,1111.04 749.13,1111.09 749.62,1111.37 750.12,1111.30 750.62,1111.05 751.11,1110.38 751.61,1109.97 752.11,1110.12 752.60,1109.13 753.10,1108.68 753.60,1108.56 754.09,1108.55 754.59,1108.78 755.09,1109.68 755.58,1110.07 756.08,1110.84 756.57,1111.46 757.07,1111.72 757.57,1111.44 758.06,1112.69 758.56,1111.58 759.06,1110.77 759.55,1110.19 760.05,1109.40 760.55,1108.07 761.04,1108.04 761.54,1107.07 762.04,1107.16 762.53,1106.99 763.03,1107.97 763.52,1107.90 764.02,1109.25 764.52,1109.89 765.01,1110.49 765.51,1111.06 766.01,1111.49 766.50,1111.18 767.00,1111.39 767.50,1110.94 767.99,1111.22 768.49,1111.04 768.99,1110.51 769.48,1110.08 769.98,1109.71 770.47,1109.83 770.97,1109.98 771.47,1109.76 771.96,1109.49 772.46,1109.86 772.96,1109.58 773.45,1108.78 773.95,1108.77 774.45,1108.10 774.94,1107.73 775.44,1107.53 775.94,1107.74 776.43,1107.80 776.93,1108.92 777.42,1108.76 777.92,1108.90 778.42,1108.68 778.91,1109.27 779.41,1109.18 779.91,1109.88 780.40,1110.43 780.90,1110.70 781.40,1111.23 781.89,1111.75 782.39,1111.62 782.89,1111.35 783.38,1110.76 783.88,1110.81 784.38,1110.05 784.87,1110.04 785.37,1110.24 785.86,1110.25 786.36,1110.03 786.86,1110.28 787.35,1109.41 787.85,1109.68 788.35,1109.57 788.84,1109.27 789.34,1109.02 789.84,1109.60 790.33,1109.29 790.83,1109.61 791.33,1109.77 791.82,1109.93 792.32,1110.10 792.81,1110.38 793.31,1109.79 793.81,1109.88 794.30,1109.42 794.80,1109.70 795.30,1109.81 795.79,1110.17 796.29,1109.90 796.79,1110.28 797.28,1109.98 797.78,1109.49 798.28,1109.12 798.77,1108.62 799.27,1107.68 799.76,1107.23 800.26,1107.39 800.76,1107.67 801.25,1107.86 801.75,1108.99 802.25,1109.29 802.74,1109.72 803.24,1110.59 803.74,1110.13 804.23,1110.98 804.73,1111.02 805.23,1109.73 805.72,1109.62 806.22,1109.46 806.71,1109.72 807.21,1109.42 807.71,1108.59 808.20,1109.22 808.70,1109.88 809.20,1110.28 809.69,1110.67 810.19,1110.95 810.69,1111.35 811.18,1111.67 811.68,1111.89 812.18,1111.57 812.67,1111.11 813.17,1110.82 813.67,1109.81 814.16,1109.58 814.66,1109.32 815.15,1108.46 815.65,1108.71 816.15,1108.24 816.64,1109.13 817.14,1109.95 817.64,1110.72 818.13,1110.81 818.63,1111.10 819.13,1111.32 819.62,1111.83 820.12,1111.13 820.62,1110.04 821.11,1109.72 821.61,1109.15 822.10,1108.98 822.60,1107.51 823.10,1106.83 823.59,1106.52 824.09,1106.49 824.59,1106.05 825.08,1106.96 825.58,1107.49 826.08,1109.34 826.57,1109.64 827.07,1110.37 827.57,1111.29 828.06,1111.37 828.56,1110.95 829.05,1111.43 829.55,1110.60 830.05,1111.09 830.54,1110.87 831.04,1110.30 831.54,1110.73 832.03,1110.62 832.53,1110.19 833.03,1110.78 833.52,1110.98 834.02,1109.90 834.52,1110.18 835.01,1110.00 835.51,1109.96 836.00,1110.33 836.50,1109.32 837.00,1109.87 837.49,1110.42 837.99,1110.74 838.49,1110.70 838.98,1110.55 839.48,1110.09 839.98,1110.83 840.47,1110.36 840.97,1110.96 841.47,1110.08 841.96,1110.27 842.46,1111.00 842.96,1110.87 843.45,1110.42 843.95,1109.89 844.44,1109.78 844.94,1110.38 845.44,1109.91 845.93,1109.18 846.43,1109.71 846.93,1109.50 847.42,1109.89 847.92,1109.34 848.42,1108.44 848.91,1108.77 849.41,1109.18 849.91,1109.25 850.40,1110.60 850.90,1110.48 851.39,1111.13 851.89,1112.12 852.39,1111.89 852.88,1111.65 853.38,1111.71 853.88,1110.78 854.37,1110.83 854.87,1110.37 855.37,1109.95 855.86,1109.92 856.36,1110.49 856.86,1110.37 857.35,1110.37 857.85,1109.89 858.34,1110.01 858.84,1109.53 859.34,1109.52 859.83,1109.69 860.33,1110.06 860.83,1110.33 861.32,1110.44 861.82,1110.70 862.32,1110.43 862.81,1110.41 863.31,1110.51 863.81,1109.95 864.30,1109.33 864.80,1109.12 865.29,1109.15 865.79,1109.93 866.29,1109.96 866.78,1109.57 867.28,1109.10 867.78,1108.91 868.27,1109.79 868.77,1109.25 869.27,1108.92 869.76,1108.65 870.26,1108.60 870.76,1108.52 871.25,1109.42 871.75,1109.04 872.25,1109.65 872.74,1109.86 873.24,1110.10 873.73,1109.32 874.23,1109.22 874.73,1109.25 875.22,1110.43 875.72,1109.60 876.22,1109.37 876.71,1109.72 877.21,1110.59 877.71,1110.74 878.20,1110.51 878.70,1108.86 879.20,1109.20 879.69,1109.88 880.19,1110.34 880.68,1110.11 881.18,1110.26 881.68,1110.39 882.17,1111.35 882.67,1111.63 883.17,1111.05 883.66,1110.60 884.16,1111.00 884.66,1110.84 885.15,1110.21 885.65,1109.99 886.15,1109.95 886.64,1110.56 887.14,1110.46 887.63,1109.90 888.13,1109.99 888.63,1110.10 889.12,1109.59 889.62,1109.26 890.12,1108.75 890.61,1109.11 891.11,1108.91 891.61,1109.04 892.10,1109.20 892.60,1110.06 893.10,1110.35 893.59,1110.39 894.09,1110.29 894.58,1110.75 895.08,1110.60 895.58,1111.35 896.07,1111.07 896.57,1111.59 897.07,1112.13 897.56,1112.12 898.06,1112.14 898.56,1111.93 899.05,1111.64 899.55,1111.41 900.05,1111.04 900.54,1110.63 901.04,1110.12 901.53,1109.71 902.03,1110.34 902.53,1110.55 903.02,1110.43 903.52,1110.35 904.02,1110.84 904.51,1110.79 905.01,1111.03 905.51,1110.38 906.00,1110.34 906.50,1110.54 907.00,1110.22 907.49,1109.14 907.99,1109.38 908.49,1109.85 908.98,1110.14 909.48,1109.57 909.97,1109.71 910.47,1109.44 910.97,1110.04 911.46,1110.32 911.96,1109.69 912.46,1109.50 912.95,1109.74 913.45,1109.48 913.95,1109.83 914.44,1109.89 914.94,1109.75 915.44,1109.70 915.93,1109.76 916.43,1109.83 916.92,1110.26 917.42,1110.83 917.92,1110.45 918.41,1110.76 918.91,1111.36 919.41,1111.58 919.90,1111.60 920.40,1111.49 920.90,1111.65 921.39,1111.58 921.89,1111.40 922.39,1111.09 922.88,1111.02 923.38,1111.26 923.87,1111.25 924.37,1110.27 924.87,1110.54 925.36,1110.41 925.86,1109.96 926.36,1110.34 926.85,1109.91 927.35,1109.68 927.85,1110.15 928.34,1110.89 928.84,1110.82 929.34,1111.20 929.83,1111.50 930.33,1111.36 930.82,1111.11 931.32,1110.51 931.82,1110.25 932.31,1110.34 932.81,1110.63 933.31,1110.07 933.80,1110.20 934.30,1110.11 934.80,1110.33 935.29,1110.10 935.79,1110.05 936.29,1110.45 936.78,1110.13 937.28,1110.01 937.78,1109.92 938.27,1110.68 938.77,1110.10 939.26,1110.33 939.76,1110.26 940.26,1110.48 940.75,1110.90 941.25,1110.52 941.75,1109.90 942.24,1109.75 942.74,1109.54 943.24,1109.03 943.73,1108.81 944.23,1108.89 944.73,1109.76 945.22,1109.72 945.72,1110.12 946.21,1109.54 946.71,1109.47 947.21,1110.49 947.70,1109.91 948.20,1109.93 948.70,1109.92 949.19,1110.39 949.69,1111.06 950.19,1111.04 950.68,1109.67 951.18,1109.74 951.68,1110.01 952.17,1110.12 952.67,1110.06 953.16,1109.74 953.66,1109.16 954.16,1109.94 954.65,1110.23 955.15,1109.61 955.65,1109.56 956.14,1109.44 956.64,1109.41 957.14,1110.18 957.63,1109.96 958.13,1109.02 958.63,1109.17 959.12,1109.09 959.62,1108.70 960.11,1109.05 960.61,1108.76 961.11,1109.02 961.60,1110.23 962.10,1110.33 962.60,1110.00 963.09,1110.03 963.59,1110.21 964.09,1110.30 964.58,1109.82 965.08,1109.41 965.58,1109.53 966.07,1110.17 966.57,1110.65 967.07,1110.04 967.56,1110.04 968.06,1110.23 968.55,1110.26 969.05,1109.35 969.55,1109.17 970.04,1108.47 970.54,1109.25 971.04,1109.90 971.53,1110.58 972.03,1110.87 972.53,1111.43 973.02,1111.85 973.52,1112.26 974.02,1111.98 974.51,1111.12 975.01,1110.32 975.50,1110.20 976.00,1111.00 976.50,1110.65 976.99,1111.51 977.49,1112.27 977.99,1112.13 978.48,1112.33 978.98,1111.83 979.48,1111.16 979.97,1110.98 980.47,1110.17 980.97,1109.54 981.46,1110.32 981.96,1110.42 982.45,1110.76 982.95,1110.85 983.45,1111.08 983.94,1111.31 984.44,1110.97 984.94,1110.82 985.43,1110.27 985.93,1110.55 986.43,1111.12 986.92,1111.14 987.42,1110.44 987.92,1110.91 988.41,1110.62 988.91,1110.03 989.40,1109.68 989.90,1109.28 990.40,1109.35 990.89,1110.28 991.39,1110.02 991.89,1110.18 992.38,1110.54 992.88,1110.23 993.38,1110.08 993.87,1110.18 994.37,1109.38 994.87,1108.95 995.36,1109.07 995.86,1109.09 996.36,1108.80 996.85,1108.66 997.35,1108.51 997.84,1108.70 998.34,1108.11 998.84,1107.95 999.33,1108.16 999.83,1109.07 1000.33,1109.12 1000.82,1109.12 1001.32,1109.52 1001.82,1110.14 1002.31,1110.42 1002.81,1111.32 1003.31,1111.23 1003.80,1111.74 1004.30,1111.42 1004.79,1111.52 1005.29,1111.80 1005.79,1111.16 1006.28,1110.70 1006.78,1110.37 1007.28,1109.71 1007.77,1109.96 1008.27,1110.01 1008.77,1109.81 1009.26,1110.20 1009.76,1109.71 1010.26,1109.93 1010.75,1110.53" fill="none" stroke="#555555" stroke-width="1.0" stroke-dasharray="2,1.2" stroke-linejoin="round"/>
<text x="608.8" y="881.4" font-size="25" font-family='"Liberation Serif", serif'>·OH<tspan baseline-shift="super" font-size="65%">-</tspan></text>
<text x="969.7" y="862.1" font-size="34" font-family='"Liberation Sans", sans-serif' font-weight="bold">(f)</text>
<text x="1004.9" y="888.3" font-size="19.5" font-family='"Liberation Serif", serif' text-anchor="end" textLength="54.1" lengthAdjust="spacingAndGlyphs">12 min</text>
<text x="1006.1" y="989.1" font-size="19.5" font-family='"Liberation Serif", serif' text-anchor="end" textLength="44.2" lengthAdjust="spacingAndGlyphs">8 min</text>
<text x="1001.2" y="1059.0" font-size="19.5" font-family='"Liberation Serif", serif' text-anchor="end" textLength="45.5" lengthAdjust="spacingAndGlyphs">4 min</text>
<text x="998.2" y="1100.8" font-size="19" font-family='"Liberation Serif", serif' text-anchor="end" textLength="37.6" lengthAdjust="spacingAndGlyphs">Dark</text>
<rect x="64.30" y="1242.80" width="415.80" height="306.70" fill="none" stroke="#333" stroke-width="1.4"/>
<line x1="64.20" y1="1549.50" x2="64.20" y2="1543.50" stroke="#333" stroke-width="1.2" />
<text x="64.2" y="1572.2" font-size="20.8" font-family='"Liberation Serif", serif' text-anchor="middle">3460</text>
<line x1="147.38" y1="1549.50" x2="147.38" y2="1543.50" stroke="#333" stroke-width="1.2" />
<text x="147.4" y="1572.2" font-size="20.8" font-family='"Liberation Serif", serif' text-anchor="middle">3480</text>
<line x1="230.56" y1="1549.50" x2="230.56" y2="1543.50" stroke="#333" stroke-width="1.2" />
<text x="230.6" y="1572.2" font-size="20.8" font-family='"Liberation Serif", serif' text-anchor="middle">3500</text>
<line x1="313.74" y1="1549.50" x2="313.74" y2="1543.50" stroke="#333" stroke-width="1.2" />
<text x="313.7" y="1572.2" font-size="20.8" font-family='"Liberation Serif", serif' text-anchor="middle">3520</text>
<line x1="396.92" y1="1549.50" x2="396.92" y2="1543.50" stroke="#333" stroke-width="1.2" />
<text x="396.9" y="1572.2" font-size="20.8" font-family='"Liberation Serif", serif' text-anchor="middle">3540</text>
<line x1="480.10" y1="1549.50" x2="480.10" y2="1543.50" stroke="#333" stroke-width="1.2" />
<text x="480.1" y="1572.2" font-size="20.8" font-family='"Liberation Serif", serif' text-anchor="middle">3560</text>
<line x1="105.79" y1="1549.50" x2="105.79" y2="1546.00" stroke="#333" stroke-width="1.2" />
<line x1="188.97" y1="1549.50" x2="188.97" y2="1546.00" stroke="#333" stroke-width="1.2" />
<line x1="272.15" y1="1549.50" x2="272.15" y2="1546.00" stroke="#333" stroke-width="1.2" />
<line x1="355.33" y1="1549.50" x2="355.33" y2="1546.00" stroke="#333" stroke-width="1.2" />
<line x1="438.51" y1="1549.50" x2="438.51" y2="1546.00" stroke="#333" stroke-width="1.2" />
<line x1="64.30" y1="1253.40" x2="70.30" y2="1253.40" stroke="#333" stroke-width="1.2" />
<line x1="64.30" y1="1363.80" x2="70.30" y2="1363.80" stroke="#333" stroke-width="1.2" />
<line x1="64.30" y1="1473.30" x2="70.30" y2="1473.30" stroke="#333" stroke-width="1.2" />
<line x1="64.30" y1="1308.70" x2="67.80" y2="1308.70" stroke="#333" stroke-width="1.2" />
<line x1="64.30" y1="1418.30" x2="67.80" y2="1418.30" stroke="#333" stroke-width="1.2" />
<line x1="64.30" y1="1527.90" x2="67.80" y2="1527.90" stroke="#333" stroke-width="1.2" />
<text x="276.0" y="1601.7" font-size="25.5" font-family='"Liberation Serif", serif' text-anchor="middle" textLength="192.1" lengthAdjust="spacingAndGlyphs">Magnetic field (G)</text>
<text x="35.3" y="1401.0" font-size="26" font-family='"Liberation Serif", serif' text-anchor="middle" textLength="149.7" lengthAdjust="spacingAndGlyphs" transform="rotate(-90 35.3 1401.0)">Intensity (a.u.)</text>
<polyline points="64.62,1297.00 65.11,1297.01 65.61,1296.87 66.11,1297.11 66.61,1297.06 67.11,1297.11 67.61,1297.13 68.11,1297.27 68.61,1297.07 69.11,1297.17 69.61,1296.97 70.11,1297.07 70.60,1297.08 71.10,1297.35 71.60,1297.27 72.10,1297.47 72.60,1297.48 73.10,1297.49 73.60,1297.76 74.10,1297.48 74.60,1297.26 75.10,1297.13 75.60,1297.01 76.09,1296.98 76.59,1297.37 77.09,1297.18 77.59,1297.59 78.09,1297.79 78.59,1297.93 79.09,1298.02 79.59,1298.21 80.09,1297.84 80.59,1297.82 81.09,1297.69 81.58,1297.40 82.08,1297.37 82.58,1297.35 83.08,1297.24 83.58,1297.12 84.08,1297.07 84.58,1297.00 85.08,1297.14 85.58,1297.30 86.08,1297.27 86.58,1297.23 87.07,1297.18 87.57,1297.11 88.07,1297.15 88.57,1297.01 89.07,1296.96 89.57,1296.88 90.07,1296.78 90.57,1296.99 91.07,1297.03 91.57,1296.91 92.07,1297.01 92.56,1296.98 93.06,1297.33 93.56,1297.20 94.06,1297.13 94.56,1297.17 95.06,1297.36 95.56,1297.39 96.06,1297.13 96.56,1296.98 97.06,1297.09 97.56,1297.09 98.05,1296.97 98.55,1296.76 99.05,1296.75 99.55,1297.09 100.05,1297.04 100.55,1297.09 101.05,1297.15 101.55,1297.25 102.05,1297.37 102.55,1297.44 103.05,1297.41 103.54,1297.26 104.04,1297.31 104.54,1297.28 105.04,1297.33 105.54,1297.23 106.04,1297.40 106.54,1297.28 107.04,1297.43 107.54,1297.46 108.04,1297.56 108.53,1297.33 109.03,1297.62 109.53,1297.42 110.03,1297.34 110.53,1297.28 111.03,1297.49 111.53,1297.41 112.03,1297.51 112.53,1297.25 113.03,1297.41 113.53,1297.40 114.02,1297.36 114.52,1297.10 115.02,1297.27 115.52,1297.37 116.02,1297.55 116.52,1297.34 117.02,1297.41 117.52,1297.53 118.02,1297.62 118.52,1297.22 119.02,1297.32 119.51,1297.25 120.01,1297.25 120.51,1297.36 121.01,1297.28 121.51,1297.17 122.01,1297.29 122.51,1297.15 123.01,1297.06 123.51,1296.98 124.01,1296.96 124.51,1296.78 125.00,1296.83 125.50,1296.88 126.00,1296.85 126.50,1296.96 127.00,1297.30 127.50,1297.44 128.00,1297.45 128.50,1297.57 129.00,1297.61 129.50,1297.71 130.00,1297.56 130.49,1297.36 130.99,1297.36 131.49,1297.56 131.99,1297.39 132.49,1297.30 132.99,1297.26 133.49,1297.38 133.99,1297.57 134.49,1297.32 134.99,1297.26 135.49,1297.27 135.98,1297.26 136.48,1297.34 136.98,1297.34 137.48,1297.00 137.98,1297.00 138.48,1297.13 138.98,1297.20 139.48,1297.33 139.98,1297.24 140.48,1297.14 140.98,1297.33 141.47,1297.39 141.97,1297.15 142.47,1297.12 142.97,1297.16 143.47,1297.11 143.97,1297.25 144.47,1297.28 144.97,1297.24 145.47,1297.36 145.97,1297.35 146.47,1297.32 146.96,1297.50 147.46,1297.25 147.96,1297.04 148.46,1297.24 148.96,1297.25 149.46,1297.30 149.96,1297.27 150.46,1297.35 150.96,1297.36 151.46,1297.61 151.95,1297.42 152.45,1297.49 152.95,1297.58 153.45,1297.41 153.95,1297.29 154.45,1297.39 154.95,1297.24 155.45,1297.33 155.95,1297.15 156.45,1296.91 156.95,1297.12 157.44,1297.17 157.94,1297.14 158.44,1297.02 158.94,1297.25 159.44,1297.47 159.94,1297.61 160.44,1297.44 160.94,1297.29 161.44,1297.37 161.94,1297.42 162.44,1297.35 162.93,1297.25 163.43,1297.25 163.93,1297.26 164.43,1297.22 164.93,1297.12 165.43,1297.24 165.93,1297.05 166.43,1297.01 166.93,1297.00 167.43,1297.13 167.93,1297.37 168.42,1297.43 168.92,1297.30 169.42,1297.33 169.92,1297.51 170.42,1297.42 170.92,1297.40 171.42,1297.21 171.92,1297.27 172.42,1297.40 172.92,1297.32 173.42,1297.15 173.91,1297.30 174.41,1297.41 174.91,1297.54 175.41,1297.59 175.91,1297.53 176.41,1297.57 176.91,1297.69 177.41,1297.47 177.91,1297.36 178.41,1297.07 178.91,1296.94 179.40,1296.90 179.90,1296.81 180.40,1296.77 180.90,1296.80 181.40,1296.74 181.90,1296.86 182.40,1296.77 182.90,1296.90 183.40,1296.85 183.90,1296.63 184.40,1296.34 184.89,1296.02 185.39,1295.63 185.89,1295.20 186.39,1294.45 186.89,1293.90 187.39,1293.40 187.89,1292.89 188.39,1292.35 188.89,1291.90 189.39,1291.92 189.88,1292.13 190.38,1292.43 190.88,1292.91 191.38,1293.72 191.88,1294.84 192.38,1296.22 192.88,1297.39 193.38,1298.46 193.88,1299.55 194.38,1300.59 194.88,1301.52 195.37,1301.89 195.87,1302.16 196.37,1302.30 196.87,1302.11 197.37,1301.83 197.87,1301.13 198.37,1300.61 198.87,1300.13 199.37,1299.43 199.87,1298.76 200.37,1298.62 200.86,1298.17 201.36,1297.89 201.86,1297.63 202.36,1297.60 202.86,1297.77 203.36,1297.59 203.86,1297.13 204.36,1297.13 204.86,1297.27 205.36,1297.24 205.86,1297.32 206.35,1297.00 206.85,1297.04 207.35,1297.18 207.85,1297.30 208.35,1297.31 208.85,1297.23 209.35,1297.02 209.85,1297.26 210.35,1297.44 210.85,1297.73 211.35,1297.62 211.84,1297.74 212.34,1297.66 212.84,1297.71 213.34,1297.55 213.84,1297.41 214.34,1297.04 214.84,1297.01 215.34,1296.84 215.84,1296.91 216.34,1297.03 216.84,1297.09 217.33,1297.14 217.83,1297.38 218.33,1297.47 218.83,1297.49 219.33,1297.53 219.83,1297.47 220.33,1297.54 220.83,1297.46 221.33,1297.42 221.83,1297.55 222.33,1297.65 222.82,1297.60 223.32,1297.44 223.82,1297.33 224.32,1297.43 224.82,1297.40 225.32,1297.22 225.82,1297.07 226.32,1297.28 226.82,1297.37 227.32,1297.52 227.82,1297.60 228.31,1297.38 228.81,1297.43 229.31,1297.40 229.81,1297.15 230.31,1297.03 230.81,1296.76 231.31,1296.71 231.81,1296.81 232.31,1296.81 232.81,1296.76 233.30,1296.82 233.80,1296.98 234.30,1296.98 234.80,1296.77 235.30,1296.86 235.80,1296.85 236.30,1296.86 236.80,1296.88 237.30,1296.98 237.80,1297.32 238.30,1297.40 238.79,1297.41 239.29,1297.61 239.79,1297.72 240.29,1297.87 240.79,1297.55 241.29,1297.51 241.79,1297.60 242.29,1297.34 242.79,1297.21 243.29,1297.31 243.79,1297.28 244.28,1297.66 244.78,1297.51 245.28,1297.44 245.78,1297.58 246.28,1297.50 246.78,1297.44 247.28,1297.26 247.78,1297.15 248.28,1297.24 248.78,1297.35 249.28,1297.63 249.77,1297.85 250.27,1297.69 250.77,1297.68 251.27,1297.54 251.77,1297.32 252.27,1297.33 252.77,1296.98 253.27,1296.62 253.77,1296.65 254.27,1296.72 254.77,1296.70 255.26,1296.63 255.76,1296.45 256.26,1296.32 256.76,1296.11 257.26,1295.79 257.76,1295.08 258.26,1294.55 258.76,1293.89 259.26,1293.26 259.76,1292.70 260.26,1292.05 260.75,1291.76 261.25,1291.64 261.75,1291.90 262.25,1292.45 262.75,1293.02 263.25,1293.87 263.75,1295.20 264.25,1296.46 264.75,1297.88 265.25,1299.08 265.75,1300.03 266.24,1301.03 266.74,1301.80 267.24,1302.02 267.74,1302.16 268.24,1301.97 268.74,1301.33 269.24,1300.94 269.74,1300.36 270.24,1299.87 270.74,1299.43 271.24,1299.02 271.73,1298.83 272.23,1298.80 272.73,1298.69 273.23,1298.50 273.73,1298.16 274.23,1298.14 274.73,1298.00 275.23,1297.81 275.73,1297.63 276.23,1297.30 276.72,1297.32 277.22,1297.40 277.72,1297.20 278.22,1297.10 278.72,1297.15 279.22,1297.16 279.72,1297.40 280.22,1297.41 280.72,1297.22 281.22,1297.33 281.72,1297.37 282.21,1297.39 282.71,1297.54 283.21,1297.26 283.71,1297.18 284.21,1297.40 284.71,1297.56 285.21,1297.68 285.71,1297.49 286.21,1297.31 286.71,1297.40 287.21,1297.49 287.70,1297.28 288.20,1297.28 288.70,1297.20 289.20,1297.35 289.70,1297.16 290.20,1297.20 290.70,1297.19 291.20,1297.18 291.70,1297.04 292.20,1296.93 292.70,1296.97 293.19,1297.23 293.69,1297.32 294.19,1297.20 294.69,1297.35 295.19,1297.36 295.69,1297.44 296.19,1297.33 296.69,1297.41 297.19,1297.21 297.69,1297.38 298.19,1297.36 298.68,1297.49 299.18,1297.42 299.68,1297.53 300.18,1297.57 300.68,1297.69 301.18,1297.58 301.68,1297.58 302.18,1297.48 302.68,1297.31 303.18,1297.20 303.68,1297.02 304.17,1297.00 304.67,1296.97 305.17,1296.83 305.67,1296.95 306.17,1297.16 306.67,1297.37 307.17,1297.31 307.67,1297.27 308.17,1297.32 308.67,1297.31 309.17,1297.19 309.66,1297.07 310.16,1296.84 310.66,1296.96 311.16,1297.08 311.66,1297.24 312.16,1297.48 312.66,1297.32 313.16,1297.50 313.66,1297.39 314.16,1297.38 314.65,1297.24 315.15,1296.97 315.65,1297.04 316.15,1297.11 316.65,1296.95 317.15,1297.03 317.65,1296.98 318.15,1297.26 318.65,1297.22 319.15,1296.96 319.65,1297.08 320.14,1296.98 320.64,1297.00 321.14,1297.15 321.64,1297.00 322.14,1297.07 322.64,1297.12 323.14,1296.96 323.64,1297.05 324.14,1297.09 324.64,1297.08 325.14,1297.14 325.63,1297.07 326.13,1296.99 326.63,1297.03 327.13,1296.73 327.63,1296.44 328.13,1295.98 328.63,1295.39 329.13,1294.88 329.63,1294.45 330.13,1293.60 330.63,1293.05 331.12,1292.40 331.62,1291.86 332.12,1291.37 332.62,1291.31 333.12,1291.20 333.62,1291.58 334.12,1292.17 334.62,1293.01 335.12,1294.00 335.62,1295.56 336.12,1296.89 336.61,1298.24 337.11,1299.60 337.61,1300.64 338.11,1301.63 338.61,1302.31 339.11,1302.41 339.61,1302.51 340.11,1302.18 340.61,1301.78 341.11,1301.26 341.61,1300.67 342.10,1300.22 342.60,1299.80 343.10,1299.15 343.60,1298.85 344.10,1298.37 344.60,1298.05 345.10,1297.66 345.60,1297.35 346.10,1297.22 346.60,1297.02 347.10,1296.95 347.59,1297.00 348.09,1297.11 348.59,1297.10 349.09,1297.19 349.59,1297.01 350.09,1297.25 350.59,1297.42 351.09,1297.15 351.59,1297.17 352.09,1297.30 352.59,1297.22 353.08,1297.26 353.58,1297.17 354.08,1296.86 354.58,1297.08 355.08,1297.11 355.58,1297.01 356.08,1296.89 356.58,1296.92 357.08,1296.95 357.58,1297.10 358.07,1297.07 358.57,1297.03 359.07,1296.96 359.57,1296.78 360.07,1296.89 360.57,1297.03 361.07,1296.88 361.57,1296.82 362.07,1296.85 362.57,1297.08 363.07,1297.42 363.56,1297.49 364.06,1297.34 364.56,1297.52 365.06,1297.63 365.56,1297.56 366.06,1297.58 366.56,1297.58 367.06,1297.55 367.56,1297.52 368.06,1297.58 368.56,1297.43 369.05,1297.51 369.55,1297.13 370.05,1296.96 370.55,1296.93 371.05,1296.93 371.55,1296.84 372.05,1296.78 372.55,1296.90 373.05,1297.23 373.55,1297.33 374.05,1297.29 374.54,1297.37 375.04,1297.50 375.54,1297.68 376.04,1297.38 376.54,1297.29 377.04,1297.42 377.54,1297.44 378.04,1297.36 378.54,1297.28 379.04,1297.27 379.54,1297.48 380.03,1297.35 380.53,1297.13 381.03,1297.14 381.53,1297.16 382.03,1297.13 382.53,1297.32 383.03,1297.22 383.53,1297.41 384.03,1297.44 384.53,1297.31 385.03,1297.33 385.52,1297.14 386.02,1296.73 386.52,1296.90 387.02,1296.87 387.52,1297.04 388.02,1297.11 388.52,1297.14 389.02,1297.35 389.52,1297.64 390.02,1297.38 390.52,1297.51 391.01,1297.30 391.51,1297.31 392.01,1297.55 392.51,1297.49 393.01,1297.59 393.51,1297.67 394.01,1297.61 394.51,1297.72 395.01,1297.74 395.51,1297.39 396.01,1297.29 396.50,1297.16 397.00,1297.03 397.50,1296.89 398.00,1296.95 398.50,1296.84 399.00,1296.84 399.50,1296.82 400.00,1296.80 400.50,1296.92 401.00,1297.02 401.49,1296.94 401.99,1297.19 402.49,1297.23 402.99,1297.15 403.49,1297.14 403.99,1297.18 404.49,1297.18 404.99,1297.04 405.49,1296.97 405.99,1297.01 406.49,1297.20 406.98,1297.03 407.48,1297.08 407.98,1297.05 408.48,1297.35 408.98,1297.20 409.48,1297.08 409.98,1297.09 410.48,1297.16 410.98,1297.15 411.48,1297.05 411.98,1296.90 412.47,1296.92 412.97,1297.04 413.47,1296.98 413.97,1296.99 414.47,1296.94 414.97,1296.99 415.47,1297.02 415.97,1297.02 416.47,1296.79 416.97,1296.84 417.47,1297.06 417.96,1297.10 418.46,1297.22 418.96,1297.25 419.46,1297.23 419.96,1297.32 420.46,1297.41 420.96,1297.37 421.46,1297.40 421.96,1297.38 422.46,1297.37 422.96,1297.42 423.45,1297.58 423.95,1297.50 424.45,1297.43 424.95,1297.28 425.45,1297.17 425.95,1297.19 426.45,1297.16 426.95,1296.89 427.45,1296.90 427.95,1296.64 428.45,1296.92 428.94,1297.06 429.44,1297.07 429.94,1297.04 430.44,1297.17 430.94,1297.13 431.44,1297.36 431.94,1297.09 432.44,1297.04 432.94,1297.04 433.44,1297.17 433.94,1297.18 434.43,1296.98 434.93,1296.98 435.43,1296.99 435.93,1297.02 436.43,1297.12 436.93,1297.22 437.43,1297.35 437.93,1297.68 438.43,1297.84 438.93,1297.91 439.42,1297.89 439.92,1297.82 440.42,1297.65 440.92,1297.57 441.42,1297.39 441.92,1297.23 442.42,1297.16 442.92,1297.21 443.42,1297.09 443.92,1297.24 444.42,1297.41 444.91,1297.37 445.41,1297.47 445.91,1297.49 446.41,1297.55 446.91,1297.64 447.41,1297.49 447.91,1297.43 448.41,1297.50 448.91,1297.43 449.41,1297.51 449.91,1297.36 450.40,1297.34 450.90,1297.25 451.40,1297.24 451.90,1297.18 452.40,1297.21 452.90,1297.21 453.40,1297.30 453.90,1297.21 454.40,1297.61 454.90,1297.53 455.40,1297.66 455.89,1297.53 456.39,1297.62 456.89,1297.51 457.39,1297.66 457.89,1297.27 458.39,1297.32 458.89,1297.27 459.39,1297.44 459.89,1297.27 460.39,1297.23 460.89,1297.18 461.38,1297.16 461.88,1297.03 462.38,1297.14 462.88,1296.87 463.38,1296.97 463.88,1297.02 464.38,1296.89 464.88,1297.03 465.38,1297.18 465.88,1297.05 466.38,1297.22 466.87,1297.22 467.37,1297.34 467.87,1297.42 468.37,1297.32 468.87,1297.17 469.37,1297.17 469.87,1297.25 470.37,1297.23 470.87,1297.19 471.37,1297.33 471.87,1297.38 472.36,1297.43 472.86,1297.45 473.36,1297.58 473.86,1297.32 474.36,1297.32 474.86,1297.23 475.36,1297.26 475.86,1297.53 476.36,1297.68 476.86,1297.57 477.36,1297.68 477.85,1297.70 478.35,1297.63 478.85,1297.62 479.35,1297.42 479.85,1297.26" fill="none" stroke="#2bb37c" stroke-width="1.15" stroke-dasharray="6,1.5,1.5,1.5" stroke-linejoin="round"/>
<polyline points="64.62,1327.90 65.11,1327.81 65.61,1327.57 66.11,1327.53 66.61,1327.42 67.11,1327.72 67.61,1327.48 68.11,1327.26 68.61,1327.28 69.11,1327.17 69.61,1327.10 70.11,1327.25 70.60,1327.01 71.10,1327.24 71.60,1327.28 72.10,1327.34 72.60,1327.53 73.10,1327.48 73.60,1327.36 74.10,1327.32 74.60,1327.13 75.10,1327.11 75.60,1327.23 76.09,1327.32 76.59,1327.22 77.09,1327.37 77.59,1327.59 78.09,1327.62 78.59,1327.76 79.09,1327.67 79.59,1327.49 80.09,1327.61 80.59,1327.54 81.09,1327.41 81.58,1327.47 82.08,1327.41 82.58,1327.24 83.08,1327.21 83.58,1327.28 84.08,1327.36 84.58,1327.51 85.08,1327.39 85.58,1327.48 86.08,1327.58 86.58,1327.74 87.07,1327.83 87.57,1327.64 88.07,1327.58 88.57,1327.61 89.07,1327.43 89.57,1327.64 90.07,1327.67 90.57,1327.35 91.07,1327.50 91.57,1327.45 92.07,1327.64 92.56,1327.75 93.06,1327.51 93.56,1327.42 94.06,1327.66 94.56,1327.62 95.06,1327.65 95.56,1327.51 96.06,1327.56 96.56,1327.45 97.06,1327.44 97.56,1327.38 98.05,1327.32 98.55,1327.43 99.05,1327.30 99.55,1327.20 100.05,1327.23 100.55,1327.29 101.05,1327.26 101.55,1327.32 102.05,1327.28 102.55,1327.24 103.05,1327.33 103.54,1327.35 104.04,1327.26 104.54,1327.30 105.04,1327.38 105.54,1327.42 106.04,1327.79 106.54,1327.76 107.04,1327.79 107.54,1327.77 108.04,1327.85 108.53,1327.94 109.03,1327.90 109.53,1327.64 110.03,1327.65 110.53,1327.73 111.03,1327.79 111.53,1327.63 112.03,1327.17 112.53,1327.07 113.03,1327.25 113.53,1327.25 114.02,1326.97 114.52,1326.97 115.02,1326.85 115.52,1327.35 116.02,1327.43 116.52,1327.18 117.02,1327.25 117.52,1327.41 118.02,1327.47 118.52,1327.68 119.02,1327.32 119.51,1327.38 120.01,1327.36 120.51,1327.42 121.01,1327.51 121.51,1327.34 122.01,1327.13 122.51,1327.44 123.01,1327.53 123.51,1327.54 124.01,1327.58 124.51,1327.59 125.00,1327.68 125.50,1327.87 126.00,1327.66 126.50,1327.66 127.00,1327.81 127.50,1327.43 128.00,1327.64 128.50,1327.76 129.00,1327.65 129.50,1327.64 130.00,1327.38 130.49,1327.37 130.99,1327.62 131.49,1327.41 131.99,1327.25 132.49,1327.28 132.99,1327.41 133.49,1327.50 133.99,1327.75 134.49,1327.61 134.99,1327.68 135.49,1327.75 135.98,1327.75 136.48,1327.81 136.98,1327.83 137.48,1327.48 137.98,1327.54 138.48,1327.56 138.98,1327.42 139.48,1327.66 139.98,1327.59 140.48,1327.54 140.98,1327.79 141.47,1328.02 141.97,1327.97 142.47,1328.13 142.97,1328.18 143.47,1328.27 143.97,1328.20 144.47,1328.03 144.97,1327.81 145.47,1327.70 145.97,1327.51 146.47,1327.40 146.96,1327.25 147.46,1327.36 147.96,1327.54 148.46,1327.50 148.96,1327.54 149.46,1327.74 149.96,1327.59 150.46,1327.57 150.96,1327.64 151.46,1327.49 151.95,1327.70 152.45,1327.62 152.95,1327.61 153.45,1327.50 153.95,1327.50 154.45,1327.34 154.95,1327.49 155.45,1327.42 155.95,1327.56 156.45,1327.75 156.95,1328.07 157.44,1328.16 157.94,1328.16 158.44,1327.85 158.94,1327.76 159.44,1327.67 159.94,1327.39 160.44,1327.19 160.94,1326.93 161.44,1327.17 161.94,1327.21 162.44,1327.13 162.93,1327.24 163.43,1327.13 163.93,1327.26 164.43,1327.55 164.93,1327.35 165.43,1327.36 165.93,1327.38 166.43,1327.11 166.93,1327.45 167.43,1327.35 167.93,1327.16 168.42,1327.10 168.92,1327.28 169.42,1327.50 169.92,1327.57 170.42,1327.35 170.92,1327.14 171.42,1327.30 171.92,1327.42 172.42,1327.61 172.92,1327.43 173.42,1327.52 173.91,1327.51 174.41,1327.80 174.91,1327.54 175.41,1327.61 175.91,1327.38 176.41,1327.34 176.91,1327.29 177.41,1327.48 177.91,1327.60 178.41,1327.73 178.91,1327.70 179.40,1327.86 179.90,1327.84 180.40,1327.89 180.90,1327.61 181.40,1327.33 181.90,1327.30 182.40,1327.07 182.90,1326.62 183.40,1326.26 183.90,1325.79 184.40,1325.35 184.89,1324.83 185.39,1324.01 185.89,1323.03 186.39,1322.11 186.89,1321.14 187.39,1319.94 187.89,1318.72 188.39,1317.60 188.89,1316.81 189.39,1316.29 189.88,1316.20 190.38,1316.66 190.88,1317.99 191.38,1319.68 191.88,1321.93 192.38,1324.54 192.88,1327.35 193.38,1329.77 193.88,1332.02 194.38,1333.60 194.88,1335.37 195.37,1336.13 195.87,1336.47 196.37,1336.59 196.87,1336.20 197.37,1335.49 197.87,1334.75 198.37,1333.68 198.87,1332.83 199.37,1332.11 199.87,1331.57 200.37,1330.73 200.86,1329.73 201.36,1329.18 201.86,1328.51 202.36,1328.18 202.86,1327.82 203.36,1327.21 203.86,1326.95 204.36,1327.15 204.86,1327.14 205.36,1326.94 205.86,1327.02 206.35,1327.00 206.85,1327.14 207.35,1327.30 207.85,1327.21 208.35,1327.23 208.85,1327.64 209.35,1327.66 209.85,1327.71 210.35,1327.67 210.85,1327.55 211.35,1327.82 211.84,1327.88 212.34,1327.71 212.84,1327.34 213.34,1327.19 213.84,1327.00 214.34,1327.23 214.84,1327.10 215.34,1326.96 215.84,1326.97 216.34,1327.53 216.84,1327.77 217.33,1327.83 217.83,1327.67 218.33,1327.51 218.83,1327.40 219.33,1327.45 219.83,1327.43 220.33,1327.47 220.83,1327.63 221.33,1327.60 221.83,1327.77 222.33,1328.09 222.82,1327.90 223.32,1327.40 223.82,1327.44 224.32,1327.46 224.82,1327.70 225.32,1327.70 225.82,1327.75 226.32,1327.85 226.82,1328.13 227.32,1328.09 227.82,1328.18 228.31,1327.93 228.81,1328.01 229.31,1327.76 229.81,1327.67 230.31,1327.67 230.81,1327.65 231.31,1327.63 231.81,1327.54 232.31,1327.53 232.81,1327.69 233.30,1327.81 233.80,1327.45 234.30,1327.41 234.80,1327.41 235.30,1327.62 235.80,1327.31 236.30,1327.06 236.80,1327.23 237.30,1327.62 237.80,1327.56 238.30,1327.42 238.79,1327.41 239.29,1327.55 239.79,1327.69 240.29,1327.47 240.79,1327.40 241.29,1327.29 241.79,1327.44 242.29,1327.48 242.79,1327.44 243.29,1327.70 243.79,1327.67 244.28,1327.69 244.78,1327.87 245.28,1327.91 245.78,1327.56 246.28,1327.78 246.78,1327.70 247.28,1328.01 247.78,1327.69 248.28,1327.48 248.78,1327.32 249.28,1327.52 249.77,1327.56 250.27,1327.33 250.77,1327.30 251.27,1327.63 251.77,1327.52 252.27,1327.39 252.77,1327.34 253.27,1327.13 253.77,1327.23 254.27,1326.91 254.77,1326.73 255.26,1326.40 255.76,1325.73 256.26,1325.19 256.76,1324.52 257.26,1323.48 257.76,1322.34 258.26,1321.11 258.76,1320.27 259.26,1319.35 259.76,1318.12 260.26,1316.99 260.75,1316.61 261.25,1316.51 261.75,1316.86 262.25,1317.70 262.75,1319.36 263.25,1321.40 263.75,1324.11 264.25,1326.75 264.75,1329.35 265.25,1331.60 265.75,1333.35 266.24,1334.81 266.74,1336.01 267.24,1336.64 267.74,1336.65 268.24,1336.40 268.74,1335.58 269.24,1334.80 269.74,1333.80 270.24,1332.82 270.74,1331.74 271.24,1330.87 271.73,1329.98 272.23,1329.18 272.73,1328.77 273.23,1328.31 273.73,1327.97 274.23,1327.62 274.73,1327.59 275.23,1327.40 275.73,1327.63 276.23,1327.59 276.72,1327.82 277.22,1327.98 277.72,1328.14 278.22,1327.87 278.72,1328.13 279.22,1328.21 279.72,1328.17 280.22,1328.06 280.72,1327.93 281.22,1327.80 281.72,1328.07 282.21,1328.07 282.71,1327.80 283.21,1327.81 283.71,1327.75 284.21,1327.84 284.71,1327.94 285.21,1327.94 285.71,1327.91 286.21,1328.14 286.71,1327.87 287.21,1327.94 287.70,1327.84 288.20,1327.67 288.70,1327.63 289.20,1327.34 289.70,1327.34 290.20,1327.71 290.70,1327.55 291.20,1327.66 291.70,1327.84 292.20,1327.84 292.70,1327.84 293.19,1327.81 293.69,1327.62 294.19,1327.77 294.69,1327.66 295.19,1327.74 295.69,1327.70 296.19,1327.94 296.69,1328.03 297.19,1328.03 297.69,1328.06 298.19,1328.09 298.68,1328.02 299.18,1327.93 299.68,1327.94 300.18,1327.92 300.68,1327.89 301.18,1327.87 301.68,1327.89 302.18,1327.70 302.68,1327.81 303.18,1327.87 303.68,1327.67 304.17,1327.47 304.67,1327.40 305.17,1327.27 305.67,1327.63 306.17,1327.58 306.67,1327.43 307.17,1327.41 307.67,1327.65 308.17,1327.56 308.67,1327.53 309.17,1327.30 309.66,1327.21 310.16,1327.36 310.66,1327.30 311.16,1327.26 311.66,1327.25 312.16,1327.19 312.66,1327.40 313.16,1327.24 313.66,1327.26 314.16,1327.23 314.65,1327.25 315.15,1327.60 315.65,1327.51 316.15,1327.15 316.65,1327.55 317.15,1327.40 317.65,1327.51 318.15,1327.49 318.65,1327.11 319.15,1327.38 319.65,1327.71 320.14,1327.51 320.64,1327.51 321.14,1327.71 321.64,1327.95 322.14,1327.99 322.64,1328.00 323.14,1327.75 323.64,1327.70 324.14,1327.61 324.64,1327.35 325.14,1326.84 325.63,1326.57 326.13,1326.28 326.63,1326.12 327.13,1326.00 327.63,1325.53 328.13,1324.98 328.63,1324.51 329.13,1323.91 329.63,1322.90 330.13,1321.68 330.63,1320.49 331.12,1319.26 331.62,1318.08 332.12,1316.90 332.62,1316.31 333.12,1316.21 333.62,1316.91 334.12,1317.72 334.62,1319.52 335.12,1321.87 335.62,1324.84 336.12,1327.45 336.61,1330.05 337.11,1331.98 337.61,1333.89 338.11,1335.25 338.61,1336.12 339.11,1336.43 339.61,1336.38 340.11,1335.93 340.61,1335.29 341.11,1334.32 341.61,1333.36 342.10,1332.64 342.60,1331.74 343.10,1331.06 343.60,1330.42 344.10,1329.67 344.60,1329.24 345.10,1328.78 345.60,1328.18 346.10,1328.00 346.60,1327.96 347.10,1327.57 347.59,1327.58 348.09,1327.57 348.59,1327.55 349.09,1327.56 349.59,1327.38 350.09,1327.22 350.59,1327.31 351.09,1327.20 351.59,1327.24 352.09,1327.27 352.59,1327.16 353.08,1327.18 353.58,1327.20 354.08,1327.18 354.58,1327.31 355.08,1327.24 355.58,1327.16 356.08,1327.44 356.58,1327.61 357.08,1327.68 357.58,1327.81 358.07,1327.83 358.57,1327.83 359.07,1327.94 359.57,1328.08 360.07,1328.09 360.57,1328.20 361.07,1328.04 361.57,1328.07 362.07,1328.36 362.57,1328.40 363.07,1328.22 363.56,1328.25 364.06,1328.20 364.56,1328.43 365.06,1328.39 365.56,1328.18 366.06,1328.06 366.56,1328.24 367.06,1328.13 367.56,1328.07 368.06,1328.05 368.56,1327.97 369.05,1327.91 369.55,1327.89 370.05,1327.59 370.55,1327.51 371.05,1327.56 371.55,1327.38 372.05,1327.37 372.55,1327.34 373.05,1327.41 373.55,1327.35 374.05,1327.50 374.54,1327.52 375.04,1327.55 375.54,1327.48 376.04,1327.58 376.54,1327.44 377.04,1327.52 377.54,1327.42 378.04,1327.27 378.54,1327.16 379.04,1327.22 379.54,1327.40 380.03,1327.51 380.53,1327.47 381.03,1327.57 381.53,1327.69 382.03,1327.91 382.53,1327.84 383.03,1327.48 383.53,1327.90 384.03,1327.91 384.53,1327.77 385.03,1327.74 385.52,1327.73 386.02,1327.74 386.52,1327.90 387.02,1327.51 387.52,1327.59 388.02,1327.64 388.52,1327.57 389.02,1327.35 389.52,1327.21 390.02,1327.29 390.52,1327.12 391.01,1327.00 391.51,1327.17 392.01,1327.18 392.51,1327.35 393.01,1327.61 393.51,1327.58 394.01,1327.75 394.51,1327.74 395.01,1327.70 395.51,1327.72 396.01,1327.49 396.50,1327.48 397.00,1327.46 397.50,1327.33 398.00,1327.48 398.50,1327.41 399.00,1327.69 399.50,1327.77 400.00,1327.88 400.50,1327.63 401.00,1327.71 401.49,1327.63 401.99,1327.59 402.49,1327.34 402.99,1327.40 403.49,1327.25 403.99,1327.39 404.49,1327.48 404.99,1327.53 405.49,1327.56 405.99,1327.68 406.49,1327.82 406.98,1327.69 407.48,1327.68 407.98,1327.62 408.48,1327.49 408.98,1327.53 409.48,1327.50 409.98,1327.36 410.48,1327.58 410.98,1327.78 411.48,1327.76 411.98,1327.80 412.47,1327.78 412.97,1327.75 413.47,1327.92 413.97,1327.95 414.47,1327.89 414.97,1327.87 415.47,1327.80 415.97,1327.69 416.47,1327.34 416.97,1327.22 417.47,1327.29 417.96,1327.21 418.46,1327.25 418.96,1327.48 419.46,1327.48 419.96,1327.89 420.46,1328.10 420.96,1328.07 421.46,1328.17 421.96,1328.25 422.46,1328.15 422.96,1328.19 423.45,1328.09 423.95,1327.96 424.45,1327.69 424.95,1327.56 425.45,1327.57 425.95,1327.45 426.45,1327.41 426.95,1327.32 427.45,1327.25 427.95,1327.53 428.45,1327.72 428.94,1327.71 429.44,1327.72 429.94,1327.76 430.44,1327.91 430.94,1328.02 431.44,1327.67 431.94,1327.55 432.44,1327.28 432.94,1327.45 433.44,1327.47 433.94,1327.46 434.43,1327.40 434.93,1327.69 435.43,1327.57 435.93,1327.82 436.43,1327.88 436.93,1327.81 437.43,1327.76 437.93,1327.52 438.43,1327.61 438.93,1327.63 439.42,1327.50 439.92,1327.31 440.42,1327.23 440.92,1327.20 441.42,1327.48 441.92,1327.44 442.42,1327.66 442.92,1327.91 443.42,1327.86 443.92,1328.01 444.42,1328.21 444.91,1328.33 445.41,1328.08 445.91,1327.75 446.41,1327.64 446.91,1327.70 447.41,1327.53 447.91,1327.41 448.41,1327.05 448.91,1326.96 449.41,1327.12 449.91,1327.08 450.40,1327.19 450.90,1327.41 451.40,1327.38 451.90,1327.45 452.40,1327.63 452.90,1327.44 453.40,1327.38 453.90,1327.42 454.40,1327.39 454.90,1327.60 455.40,1327.61 455.89,1327.48 456.39,1327.76 456.89,1327.93 457.39,1327.69 457.89,1327.43 458.39,1327.21 458.89,1327.31 459.39,1327.38 459.89,1327.25 460.39,1327.05 460.89,1327.04 461.38,1327.08 461.88,1327.08 462.38,1326.95 462.88,1327.00 463.38,1326.74 463.88,1327.03 464.38,1327.06 464.88,1327.19 465.38,1327.05 465.88,1327.13 466.38,1327.04 466.87,1327.34 467.37,1327.12 467.87,1327.33 468.37,1327.23 468.87,1327.28 469.37,1327.21 469.87,1327.62 470.37,1327.44 470.87,1327.50 471.37,1327.32 471.87,1327.48 472.36,1327.62 472.86,1327.67 473.36,1327.46 473.86,1327.66 474.36,1327.56 474.86,1327.61 475.36,1327.38 475.86,1327.27 476.36,1327.16 476.86,1327.10 477.36,1327.16 477.85,1327.27 478.35,1327.34 478.85,1327.66 479.35,1327.43 479.85,1327.56" fill="none" stroke="#2f87e8" stroke-width="1.15" stroke-dasharray="6,1.5,1.5,1.5" stroke-linejoin="round"/>
<polyline points="64.62,1372.61 65.11,1372.66 65.61,1372.75 66.11,1373.02 66.61,1373.08 67.11,1372.99 67.61,1372.91 68.11,1372.93 68.61,1372.90 69.11,1372.78 69.61,1372.69 70.11,1372.52 70.60,1372.44 71.10,1372.46 71.60,1372.40 72.10,1372.36 72.60,1372.22 73.10,1372.23 73.60,1372.29 74.10,1372.34 74.60,1372.35 75.10,1372.42 75.60,1372.38 76.09,1372.73 76.59,1372.62 77.09,1372.70 77.59,1372.87 78.09,1372.78 78.59,1372.77 79.09,1372.76 79.59,1372.68 80.09,1372.69 80.59,1372.51 81.09,1372.47 81.58,1372.60 82.08,1372.51 82.58,1372.68 83.08,1372.61 83.58,1372.87 84.08,1373.11 84.58,1372.95 85.08,1372.85 85.58,1372.85 86.08,1372.76 86.58,1372.75 87.07,1372.58 87.57,1372.44 88.07,1372.36 88.57,1372.32 89.07,1372.51 89.57,1372.60 90.07,1372.58 90.57,1372.51 91.07,1372.49 91.57,1372.61 92.07,1372.54 92.56,1372.49 93.06,1372.34 93.56,1372.37 94.06,1372.16 94.56,1372.20 95.06,1372.31 95.56,1372.26 96.06,1372.31 96.56,1372.41 97.06,1372.34 97.56,1372.42 98.05,1372.49 98.55,1372.40 99.05,1372.64 99.55,1372.49 100.05,1372.38 100.55,1372.52 101.05,1372.57 101.55,1372.55 102.05,1372.39 102.55,1372.26 103.05,1372.16 103.54,1372.34 104.04,1372.11 104.54,1372.10 105.04,1372.08 105.54,1372.24 106.04,1372.50 106.54,1372.79 107.04,1372.73 107.54,1372.93 108.04,1372.88 108.53,1372.74 109.03,1372.70 109.53,1372.49 110.03,1372.22 110.53,1372.09 111.03,1371.96 111.53,1372.20 112.03,1372.31 112.53,1372.31 113.03,1372.31 113.53,1372.45 114.02,1372.47 114.52,1372.52 115.02,1372.28 115.52,1372.30 116.02,1372.41 116.52,1372.47 117.02,1372.48 117.52,1372.57 118.02,1372.77 118.52,1372.93 119.02,1372.76 119.51,1372.59 120.01,1372.62 120.51,1372.67 121.01,1372.71 121.51,1372.60 122.01,1372.60 122.51,1372.59 123.01,1372.62 123.51,1372.40 124.01,1372.28 124.51,1372.09 125.00,1372.03 125.50,1372.00 126.00,1371.96 126.50,1372.08 127.00,1372.30 127.50,1372.22 128.00,1372.35 128.50,1372.40 129.00,1372.39 129.50,1372.63 130.00,1372.58 130.49,1372.61 130.99,1372.74 131.49,1372.72 131.99,1372.70 132.49,1372.79 132.99,1372.74 133.49,1372.68 133.99,1372.52 134.49,1372.48 134.99,1372.44 135.49,1372.41 135.98,1372.36 136.48,1372.33 136.98,1372.37 137.48,1372.45 137.98,1372.62 138.48,1372.77 138.98,1372.70 139.48,1372.72 139.98,1372.70 140.48,1372.70 140.98,1372.66 141.47,1372.47 141.97,1372.25 142.47,1372.09 142.97,1372.07 143.47,1372.20 143.97,1372.13 144.47,1372.19 144.97,1372.21 145.47,1372.35 145.97,1372.50 146.47,1372.46 146.96,1372.35 147.46,1372.22 147.96,1372.19 148.46,1372.22 148.96,1371.98 149.46,1372.10 149.96,1372.12 150.46,1372.15 150.96,1372.38 151.46,1372.33 151.95,1372.25 152.45,1372.42 152.95,1372.33 153.45,1372.52 153.95,1372.66 154.45,1372.59 154.95,1372.59 155.45,1372.71 155.95,1372.80 156.45,1372.78 156.95,1372.50 157.44,1372.51 157.94,1372.64 158.44,1372.54 158.94,1372.36 159.44,1372.24 159.94,1372.32 160.44,1372.45 160.94,1372.25 161.44,1372.02 161.94,1372.18 162.44,1372.38 162.93,1372.45 163.43,1372.39 163.93,1372.39 164.43,1372.42 164.93,1372.46 165.43,1372.45 165.93,1372.28 166.43,1372.37 166.93,1372.45 167.43,1372.31 167.93,1372.34 168.42,1372.54 168.92,1372.35 169.42,1372.45 169.92,1372.51 170.42,1372.33 170.92,1372.40 171.42,1372.26 171.92,1372.15 172.42,1372.12 172.92,1371.99 173.42,1371.80 173.91,1371.95 174.41,1372.00 174.91,1372.16 175.41,1372.27 175.91,1372.54 176.41,1372.74 176.91,1372.70 177.41,1372.68 177.91,1372.92 178.41,1373.08 178.91,1373.05 179.40,1373.05 179.90,1373.06 180.40,1373.09 180.90,1373.24 181.40,1372.87 181.90,1372.56 182.40,1372.52 182.90,1372.03 183.40,1371.62 183.90,1370.98 184.40,1370.01 184.89,1369.05 185.39,1367.73 185.89,1365.94 186.39,1364.11 186.89,1361.84 187.39,1359.48 187.89,1357.04 188.39,1354.63 188.89,1352.81 189.39,1351.44 189.88,1351.23 190.38,1351.96 190.88,1353.99 191.38,1357.28 191.88,1361.62 192.38,1366.40 192.88,1372.01 193.38,1376.87 193.88,1381.72 194.38,1385.80 194.88,1388.70 195.37,1390.73 195.87,1391.76 196.37,1391.73 196.87,1390.91 197.37,1389.36 197.87,1387.41 198.37,1385.18 198.87,1382.82 199.37,1380.84 199.87,1378.78 200.37,1377.26 200.86,1375.80 201.36,1374.60 201.86,1373.89 202.36,1373.36 202.86,1372.75 203.36,1372.49 203.86,1372.47 204.36,1372.54 204.86,1372.58 205.36,1372.59 205.86,1372.70 206.35,1372.94 206.85,1372.99 207.35,1372.79 207.85,1372.61 208.35,1372.71 208.85,1372.93 209.35,1372.83 209.85,1372.53 210.35,1372.57 210.85,1372.61 211.35,1372.65 211.84,1372.66 212.34,1372.44 212.84,1372.37 213.34,1372.38 213.84,1372.31 214.34,1372.21 214.84,1372.22 215.34,1372.00 215.84,1371.96 216.34,1371.95 216.84,1372.09 217.33,1372.06 217.83,1372.21 218.33,1372.31 218.83,1372.40 219.33,1372.36 219.83,1372.66 220.33,1372.73 220.83,1372.82 221.33,1372.82 221.83,1372.83 222.33,1372.94 222.82,1373.08 223.32,1372.97 223.82,1372.86 224.32,1372.75 224.82,1372.69 225.32,1372.57 225.82,1372.48 226.32,1372.45 226.82,1372.38 227.32,1372.42 227.82,1372.33 228.31,1372.42 228.81,1372.46 229.31,1372.38 229.81,1372.40 230.31,1372.43 230.81,1372.47 231.31,1372.45 231.81,1372.27 232.31,1372.17 232.81,1372.39 233.30,1372.27 233.80,1372.20 234.30,1372.10 234.80,1372.22 235.30,1372.35 235.80,1372.22 236.30,1371.83 236.80,1371.96 237.30,1372.00 237.80,1372.04 238.30,1372.17 238.79,1372.23 239.29,1372.23 239.79,1372.46 240.29,1372.50 240.79,1372.44 241.29,1372.47 241.79,1372.46 242.29,1372.35 242.79,1372.43 243.29,1372.39 243.79,1372.17 244.28,1372.28 244.78,1372.15 245.28,1372.16 245.78,1372.04 246.28,1372.15 246.78,1372.08 247.28,1372.17 247.78,1372.21 248.28,1372.46 248.78,1372.49 249.28,1372.63 249.77,1372.63 250.27,1372.78 250.77,1372.86 251.27,1372.72 251.77,1372.70 252.27,1372.59 252.77,1372.65 253.27,1372.60 253.77,1372.50 254.27,1372.17 254.77,1371.85 255.26,1371.17 255.76,1370.46 256.26,1369.44 256.76,1368.28 257.26,1366.60 257.76,1365.12 258.26,1363.01 258.76,1360.87 259.26,1358.52 259.76,1355.94 260.26,1353.78 260.75,1352.53 261.25,1351.36 261.75,1351.81 262.25,1353.17 262.75,1355.79 263.25,1359.92 263.75,1364.55 264.25,1369.78 264.75,1375.26 265.25,1380.07 265.75,1384.58 266.24,1388.41 266.74,1390.82 267.24,1392.30 267.74,1392.46 268.24,1391.68 268.74,1390.27 269.24,1388.34 269.74,1385.78 270.24,1383.53 270.74,1381.27 271.24,1379.53 271.73,1377.78 272.23,1376.44 272.73,1375.29 273.23,1374.49 273.73,1373.73 274.23,1373.23 274.73,1372.71 275.23,1372.68 275.73,1372.40 276.23,1372.19 276.72,1372.17 277.22,1372.34 277.72,1372.37 278.22,1372.32 278.72,1372.25 279.22,1372.57 279.72,1372.71 280.22,1372.65 280.72,1372.65 281.22,1372.91 281.72,1373.07 282.21,1373.01 282.71,1372.78 283.21,1372.70 283.71,1372.68 284.21,1372.48 284.71,1372.24 285.21,1372.03 285.71,1372.19 286.21,1372.20 286.71,1372.11 287.21,1371.99 287.70,1372.06 288.20,1372.15 288.70,1372.29 289.20,1372.25 289.70,1371.95 290.20,1372.04 290.70,1372.12 291.20,1372.14 291.70,1371.97 292.20,1371.88 292.70,1371.83 293.19,1372.37 293.69,1372.48 294.19,1372.53 294.69,1372.55 295.19,1372.65 295.69,1372.71 296.19,1372.73 296.69,1372.48 297.19,1372.51 297.69,1372.61 298.19,1372.64 298.68,1372.77 299.18,1372.77 299.68,1372.72 300.18,1372.56 300.68,1372.41 301.18,1372.33 301.68,1372.34 302.18,1372.31 302.68,1372.24 303.18,1372.26 303.68,1372.48 304.17,1372.65 304.67,1372.62 305.17,1372.61 305.67,1372.64 306.17,1372.72 306.67,1372.78 307.17,1372.53 307.67,1372.54 308.17,1372.64 308.67,1372.62 309.17,1372.46 309.66,1372.32 310.16,1372.31 310.66,1372.49 311.16,1372.47 311.66,1372.30 312.16,1372.42 312.66,1372.47 313.16,1372.68 313.66,1372.61 314.16,1372.65 314.65,1372.66 315.15,1372.78 315.65,1372.52 316.15,1372.48 316.65,1372.43 317.15,1372.39 317.65,1372.23 318.15,1372.14 318.65,1372.04 319.15,1372.24 319.65,1372.16 320.14,1371.95 320.64,1372.00 321.14,1372.26 321.64,1372.16 322.14,1372.25 322.64,1372.20 323.14,1372.21 323.64,1372.45 324.14,1372.51 324.64,1372.35 325.14,1372.19 325.63,1371.88 326.13,1371.38 326.63,1371.09 327.13,1370.47 327.63,1369.80 328.13,1368.93 328.63,1367.79 329.13,1366.33 329.63,1364.70 330.13,1362.65 330.63,1360.19 331.12,1357.72 331.62,1355.24 332.12,1353.29 332.62,1352.08 333.12,1351.55 333.62,1351.97 334.12,1353.96 334.62,1356.96 335.12,1361.08 335.62,1366.05 336.12,1371.45 336.61,1376.71 337.11,1381.71 337.61,1385.84 338.11,1389.20 338.61,1391.45 339.11,1392.53 339.61,1392.39 340.11,1391.46 340.61,1389.69 341.11,1387.82 341.61,1385.38 342.10,1383.02 342.60,1380.93 343.10,1378.93 343.60,1377.25 344.10,1375.98 344.60,1374.64 345.10,1373.80 345.60,1373.16 346.10,1372.79 346.60,1372.72 347.10,1372.63 347.59,1372.57 348.09,1372.44 348.59,1372.58 349.09,1372.64 349.59,1372.42 350.09,1372.37 350.59,1372.34 351.09,1372.29 351.59,1372.35 352.09,1372.23 352.59,1372.11 353.08,1372.24 353.58,1372.26 354.08,1372.30 354.58,1372.33 355.08,1372.39 355.58,1372.63 356.08,1372.55 356.58,1372.61 357.08,1372.61 357.58,1372.59 358.07,1372.56 358.57,1372.58 359.07,1372.29 359.57,1372.33 360.07,1372.21 360.57,1372.03 361.07,1372.10 361.57,1372.25 362.07,1371.96 362.57,1371.93 363.07,1372.08 363.56,1372.11 364.06,1372.26 364.56,1372.23 365.06,1372.19 365.56,1372.58 366.06,1372.88 366.56,1372.86 367.06,1372.91 367.56,1372.76 368.06,1372.71 368.56,1372.53 369.05,1372.58 369.55,1372.63 370.05,1372.68 370.55,1372.48 371.05,1372.62 371.55,1372.63 372.05,1372.76 372.55,1372.73 373.05,1372.61 373.55,1372.32 374.05,1372.56 374.54,1372.53 375.04,1372.48 375.54,1372.58 376.04,1372.46 376.54,1372.26 377.04,1372.37 377.54,1372.26 378.04,1372.38 378.54,1372.57 379.04,1372.43 379.54,1372.41 380.03,1372.67 380.53,1372.75 381.03,1372.88 381.53,1372.82 382.03,1372.70 382.53,1372.70 383.03,1372.77 383.53,1372.58 384.03,1372.56 384.53,1372.42 385.03,1372.34 385.52,1372.35 386.02,1372.37 386.52,1372.32 387.02,1372.35 387.52,1372.39 388.02,1372.56 388.52,1372.61 389.02,1372.53 389.52,1372.50 390.02,1372.58 390.52,1372.58 391.01,1372.59 391.51,1372.41 392.01,1372.43 392.51,1372.51 393.01,1372.58 393.51,1372.37 394.01,1372.30 394.51,1372.08 395.01,1372.17 395.51,1372.25 396.01,1372.34 396.50,1372.31 397.00,1372.56 397.50,1372.65 398.00,1372.87 398.50,1372.66 399.00,1372.50 399.50,1372.33 400.00,1372.40 400.50,1372.44 401.00,1372.40 401.49,1372.45 401.99,1372.61 402.49,1372.61 402.99,1372.51 403.49,1372.36 403.99,1372.08 404.49,1372.10 404.99,1372.05 405.49,1372.01 405.99,1372.06 406.49,1372.26 406.98,1372.24 407.48,1372.45 407.98,1372.33 408.48,1372.35 408.98,1372.40 409.48,1372.34 409.98,1372.16 410.48,1372.30 410.98,1372.16 411.48,1372.38 411.98,1372.44 412.47,1372.40 412.97,1372.48 413.47,1372.71 413.97,1372.68 414.47,1372.66 414.97,1372.60 415.47,1372.59 415.97,1372.60 416.47,1372.62 416.97,1372.52 417.47,1372.48 417.96,1372.48 418.46,1372.33 418.96,1372.38 419.46,1372.31 419.96,1372.31 420.46,1372.19 420.96,1372.22 421.46,1372.23 421.96,1372.62 422.46,1372.43 422.96,1372.40 423.45,1372.46 423.95,1372.70 424.45,1372.49 424.95,1372.59 425.45,1372.40 425.95,1372.39 426.45,1372.53 426.95,1372.40 427.45,1372.21 427.95,1372.37 428.45,1372.30 428.94,1372.10 429.44,1372.41 429.94,1372.31 430.44,1372.29 430.94,1372.45 431.44,1372.48 431.94,1372.64 432.44,1372.74 432.94,1372.57 433.44,1372.62 433.94,1372.70 434.43,1372.61 434.93,1372.60 435.43,1372.63 435.93,1372.60 436.43,1372.52 436.93,1372.48 437.43,1372.51 437.93,1372.57 438.43,1372.66 438.93,1372.39 439.42,1372.48 439.92,1372.51 440.42,1372.51 440.92,1372.48 441.42,1372.27 441.92,1372.21 442.42,1372.34 442.92,1372.19 443.42,1372.20 443.92,1372.36 444.42,1372.31 444.91,1372.54 445.41,1372.50 445.91,1372.41 446.41,1372.46 446.91,1372.43 447.41,1372.41 447.91,1372.51 448.41,1372.40 448.91,1372.51 449.41,1372.57 449.91,1372.59 450.40,1372.66 450.90,1372.47 451.40,1372.25 451.90,1372.43 452.40,1372.18 452.90,1372.24 453.40,1372.17 453.90,1372.13 454.40,1372.19 454.90,1372.29 455.40,1371.98 455.89,1372.13 456.39,1372.08 456.89,1372.14 457.39,1372.13 457.89,1372.24 458.39,1372.22 458.89,1372.43 459.39,1372.34 459.89,1372.38 460.39,1372.51 460.89,1372.74 461.38,1372.73 461.88,1372.83 462.38,1372.93 462.88,1372.95 463.38,1373.01 463.88,1372.90 464.38,1372.63 464.88,1372.65 465.38,1372.63 465.88,1372.62 466.38,1372.58 466.87,1372.51 467.37,1372.51 467.87,1372.55 468.37,1372.28 468.87,1372.34 469.37,1372.24 469.87,1372.29 470.37,1372.14 470.87,1372.11 471.37,1372.26 471.87,1372.42 472.36,1372.31 472.86,1372.33 473.36,1372.42 473.86,1372.56 474.36,1372.70 474.86,1372.61 475.36,1372.70 475.86,1372.62 476.36,1372.58 476.86,1372.55 477.36,1372.54 477.85,1372.47 478.35,1372.39 478.85,1372.28 479.35,1372.47 479.85,1372.41" fill="none" stroke="#f05656" stroke-width="1.15" stroke-dasharray="6,1.5,1.5,1.5" stroke-linejoin="round"/>
<polyline points="64.62,1472.93 65.11,1473.10 65.61,1473.12 66.11,1473.06 66.61,1473.06 67.11,1472.93 67.61,1473.02 68.11,1473.06 68.61,1473.06 69.11,1473.15 69.61,1473.17 70.11,1473.26 70.60,1473.30 71.10,1473.36 71.60,1473.39 72.10,1473.41 72.60,1473.32 73.10,1473.32 73.60,1473.36 74.10,1473.39 74.60,1473.35 75.10,1473.37 75.60,1473.21 76.09,1473.08 76.59,1473.08 77.09,1472.98 77.59,1473.07 78.09,1473.07 78.59,1472.94 79.09,1473.02 79.59,1473.19 80.09,1473.13 80.59,1473.10 81.09,1472.97 81.58,1472.99 82.08,1473.18 82.58,1473.06 83.08,1473.03 83.58,1473.13 84.08,1473.11 84.58,1473.16 85.08,1473.03 85.58,1472.83 86.08,1472.94 86.58,1472.93 87.07,1472.87 87.57,1472.98 88.07,1473.02 88.57,1473.01 89.07,1473.17 89.57,1473.25 90.07,1473.15 90.57,1473.27 91.07,1473.24 91.57,1473.24 92.07,1473.46 92.56,1473.17 93.06,1472.97 93.56,1473.08 94.06,1472.93 94.56,1472.83 95.06,1472.93 95.56,1472.82 96.06,1472.91 96.56,1472.98 97.06,1472.99 97.56,1473.14 98.05,1473.06 98.55,1472.97 99.05,1472.91 99.55,1472.87 100.05,1472.91 100.55,1472.73 101.05,1472.56 101.55,1472.83 102.05,1472.85 102.55,1472.93 103.05,1473.10 103.54,1473.14 104.04,1473.33 104.54,1473.28 105.04,1473.14 105.54,1473.16 106.04,1473.05 106.54,1472.98 107.04,1473.04 107.54,1473.08 108.04,1473.12 108.53,1473.09 109.03,1473.07 109.53,1473.14 110.03,1473.13 110.53,1473.08 111.03,1473.01 111.53,1473.06 112.03,1473.34 112.53,1473.39 113.03,1473.43 113.53,1473.56 114.02,1473.73 114.52,1473.77 115.02,1473.71 115.52,1473.52 116.02,1473.43 116.52,1473.33 117.02,1473.27 117.52,1473.07 118.02,1472.99 118.52,1473.01 119.02,1473.04 119.51,1472.92 120.01,1473.02 120.51,1473.01 121.01,1473.01 121.51,1472.84 122.01,1473.00 122.51,1472.81 123.01,1472.86 123.51,1472.85 124.01,1472.80 124.51,1472.75 125.00,1472.76 125.50,1472.61 126.00,1472.75 126.50,1472.86 127.00,1472.80 127.50,1472.86 128.00,1472.92 128.50,1473.03 129.00,1473.01 129.50,1473.14 130.00,1473.03 130.49,1473.14 130.99,1473.13 131.49,1473.20 131.99,1473.21 132.49,1473.30 132.99,1473.18 133.49,1473.23 133.99,1473.16 134.49,1473.10 134.99,1472.98 135.49,1473.00 135.98,1473.02 136.48,1472.99 136.98,1472.90 137.48,1472.85 137.98,1472.90 138.48,1472.84 138.98,1472.97 139.48,1472.94 139.98,1473.01 140.48,1473.06 140.98,1473.05 141.47,1473.14 141.97,1473.10 142.47,1473.03 142.97,1473.00 143.47,1472.90 143.97,1472.97 144.47,1472.92 144.97,1472.86 145.47,1472.88 145.97,1472.75 146.47,1472.85 146.96,1472.84 147.46,1472.67 147.96,1472.82 148.46,1472.75 148.96,1472.58 149.46,1472.67 149.96,1472.64 150.46,1472.71 150.96,1473.00 151.46,1472.92 151.95,1473.02 152.45,1473.20 152.95,1473.22 153.45,1473.26 153.95,1473.27 154.45,1473.16 154.95,1473.02 155.45,1472.95 155.95,1472.93 156.45,1472.97 156.95,1472.81 157.44,1472.80 157.94,1472.71 158.44,1473.00 158.94,1472.94 159.44,1473.04 159.94,1473.18 160.44,1473.25 160.94,1473.16 161.44,1473.28 161.94,1473.21 162.44,1473.36 162.93,1473.21 163.43,1473.03 163.93,1472.86 164.43,1473.06 164.93,1473.02 165.43,1472.91 165.93,1472.90 166.43,1473.08 166.93,1472.98 167.43,1473.25 167.93,1473.10 168.42,1472.96 168.92,1473.10 169.42,1473.16 169.92,1473.22 170.42,1473.35 170.92,1473.16 171.42,1473.25 171.92,1473.52 172.42,1473.47 172.92,1473.48 173.42,1473.33 173.91,1473.36 174.41,1473.50 174.91,1473.32 175.41,1473.06 175.91,1472.95 176.41,1472.84 176.91,1472.93 177.41,1472.83 177.91,1472.76 178.41,1472.86 178.91,1472.99 179.40,1473.08 179.90,1473.10 180.40,1473.05 180.90,1473.06 181.40,1472.98 181.90,1472.94 182.40,1472.71 182.90,1472.47 183.40,1471.89 183.90,1471.04 184.40,1469.61 184.89,1467.61 185.39,1464.68 185.89,1460.77 186.39,1455.45 186.89,1448.96 187.39,1441.40 187.89,1433.14 188.39,1424.69 188.89,1416.92 189.39,1410.74 189.88,1407.26 190.38,1407.71 190.88,1412.37 191.38,1421.68 191.88,1435.39 192.38,1452.30 192.88,1471.11 193.38,1489.52 193.88,1506.26 194.38,1520.02 194.88,1529.94 195.37,1535.19 195.87,1536.32 196.37,1533.59 196.87,1528.16 197.37,1520.76 197.87,1512.82 198.37,1504.62 198.87,1497.29 199.37,1490.76 199.87,1485.62 200.37,1481.55 200.86,1478.71 201.36,1476.60 201.86,1475.40 202.36,1474.50 202.86,1473.77 203.36,1473.46 203.86,1473.13 204.36,1472.95 204.86,1472.91 205.36,1472.66 205.86,1472.50 206.35,1472.70 206.85,1472.70 207.35,1472.97 207.85,1473.02 208.35,1473.01 208.85,1473.24 209.35,1473.29 209.85,1473.28 210.35,1473.23 210.85,1473.13 211.35,1473.18 211.84,1473.25 212.34,1473.11 212.84,1473.10 213.34,1473.04 213.84,1473.01 214.34,1473.00 214.84,1473.03 215.34,1472.75 215.84,1472.59 216.34,1472.75 216.84,1472.68 217.33,1472.81 217.83,1472.71 218.33,1472.67 218.83,1472.90 219.33,1473.08 219.83,1473.03 220.33,1473.16 220.83,1473.17 221.33,1473.41 221.83,1473.43 222.33,1473.32 222.82,1473.25 223.32,1473.17 223.82,1473.15 224.32,1473.11 224.82,1472.93 225.32,1472.90 225.82,1472.95 226.32,1473.04 226.82,1473.06 227.32,1473.12 227.82,1473.03 228.31,1473.19 228.81,1473.17 229.31,1473.20 229.81,1473.22 230.31,1473.30 230.81,1473.31 231.31,1473.41 231.81,1473.28 232.31,1473.13 232.81,1473.12 233.30,1473.05 233.80,1472.94 234.30,1473.07 234.80,1472.91 235.30,1472.93 235.80,1473.14 236.30,1473.20 236.80,1473.32 237.30,1473.24 237.80,1472.99 238.30,1473.18 238.79,1473.15 239.29,1473.19 239.79,1473.14 240.29,1473.06 240.79,1473.19 241.29,1473.24 241.79,1473.20 242.29,1473.17 242.79,1473.04 243.29,1472.99 243.79,1472.99 244.28,1472.85 244.78,1472.76 245.28,1472.79 245.78,1472.86 246.28,1472.79 246.78,1472.81 247.28,1472.71 247.78,1472.97 248.28,1472.96 248.78,1473.06 249.28,1472.98 249.77,1473.08 250.27,1473.08 250.77,1473.13 251.27,1473.04 251.77,1473.21 252.27,1473.03 252.77,1472.98 253.27,1473.02 253.77,1472.99 254.27,1472.76 254.77,1472.21 255.26,1471.43 255.76,1470.28 256.26,1468.67 256.76,1465.87 257.26,1462.20 257.76,1457.39 258.26,1451.51 258.76,1444.44 259.26,1436.31 259.76,1427.72 260.26,1419.72 260.75,1412.86 261.25,1408.42 261.75,1407.43 262.25,1410.61 262.75,1418.49 263.25,1430.89 263.75,1446.81 264.25,1465.09 264.75,1483.89 265.25,1501.22 265.75,1516.21 266.24,1527.41 266.74,1534.14 267.24,1536.58 267.74,1535.19 268.24,1530.34 268.74,1523.48 269.24,1515.33 269.74,1507.25 270.24,1499.75 270.74,1492.90 271.24,1487.24 271.73,1482.92 272.23,1479.60 272.73,1477.25 273.23,1475.55 273.73,1474.40 274.23,1473.72 274.73,1473.28 275.23,1472.96 275.73,1472.96 276.23,1473.04 276.72,1472.88 277.22,1472.66 277.72,1472.76 278.22,1472.95 278.72,1473.16 279.22,1473.09 279.72,1473.05 280.22,1473.18 280.72,1473.27 281.22,1473.40 281.72,1473.32 282.21,1473.16 282.71,1473.11 283.21,1472.94 283.71,1472.92 284.21,1473.04 284.71,1472.80 285.21,1472.89 285.71,1473.13 286.21,1473.19 286.71,1473.22 287.21,1473.16 287.70,1473.05 288.20,1473.05 288.70,1472.87 289.20,1472.69 289.70,1472.65 290.20,1472.78 290.70,1472.76 291.20,1472.92 291.70,1473.10 292.20,1473.26 292.70,1473.23 293.19,1473.37 293.69,1473.30 294.19,1473.53 294.69,1473.47 295.19,1473.32 295.69,1473.22 296.19,1473.41 296.69,1473.35 297.19,1473.37 297.69,1473.25 298.19,1473.18 298.68,1473.19 299.18,1473.21 299.68,1473.02 300.18,1472.91 300.68,1472.96 301.18,1472.87 301.68,1472.91 302.18,1472.98 302.68,1473.05 303.18,1473.17 303.68,1473.29 304.17,1473.31 304.67,1473.43 305.17,1473.36 305.67,1473.40 306.17,1473.27 306.67,1473.19 307.17,1473.15 307.67,1473.10 308.17,1473.08 308.67,1473.01 309.17,1473.07 309.66,1473.10 310.16,1473.15 310.66,1473.09 311.16,1473.16 311.66,1473.10 312.16,1473.10 312.66,1472.86 313.16,1472.88 313.66,1472.76 314.16,1472.80 314.65,1472.84 315.15,1472.70 315.65,1472.68 316.15,1472.84 316.65,1472.96 317.15,1473.07 317.65,1473.06 318.15,1472.99 318.65,1473.20 319.15,1473.42 319.65,1473.44 320.14,1473.25 320.64,1473.20 321.14,1473.19 321.64,1473.09 322.14,1473.02 322.64,1472.86 323.14,1472.75 323.64,1472.88 324.14,1472.86 324.64,1472.71 325.14,1472.62 325.63,1472.47 326.13,1472.36 326.63,1471.91 327.13,1471.13 327.63,1469.89 328.13,1467.86 328.63,1465.14 329.13,1461.23 329.63,1455.92 330.13,1449.51 330.63,1442.07 331.12,1433.64 331.62,1425.23 332.12,1417.34 332.62,1411.12 333.12,1407.44 333.62,1407.54 334.12,1411.78 334.62,1420.93 335.12,1434.38 335.62,1450.99 336.12,1469.65 336.61,1488.32 337.11,1505.10 337.61,1519.16 338.11,1529.36 338.61,1534.94 339.11,1536.31 339.61,1533.81 340.11,1528.36 340.61,1521.21 341.11,1513.18 341.61,1505.10 342.10,1497.71 342.60,1491.27 343.10,1486.13 343.60,1482.05 344.10,1478.99 344.60,1476.88 345.10,1475.38 345.60,1474.50 346.10,1473.84 346.60,1473.53 347.10,1473.48 347.59,1473.50 348.09,1473.25 348.59,1473.20 349.09,1473.12 349.59,1473.23 350.09,1473.14 350.59,1473.02 351.09,1472.94 351.59,1473.06 352.09,1473.01 352.59,1473.02 353.08,1473.08 353.58,1473.06 354.08,1473.07 354.58,1473.04 355.08,1473.00 355.58,1473.03 356.08,1473.12 356.58,1472.98 357.08,1473.11 357.58,1472.95 358.07,1473.01 358.57,1473.10 359.07,1473.17 359.57,1473.00 360.07,1472.97 360.57,1472.94 361.07,1472.96 361.57,1473.01 362.07,1472.90 362.57,1472.85 363.07,1473.10 363.56,1473.31 364.06,1473.31 364.56,1473.30 365.06,1473.28 365.56,1473.32 366.06,1473.32 366.56,1473.24 367.06,1473.00 367.56,1472.96 368.06,1473.07 368.56,1472.99 369.05,1473.12 369.55,1473.03 370.05,1472.93 370.55,1473.06 371.05,1472.87 371.55,1472.76 372.05,1472.74 372.55,1472.67 373.05,1472.84 373.55,1472.88 374.05,1472.89 374.54,1472.89 375.04,1473.01 375.54,1473.05 376.04,1473.08 376.54,1473.11 377.04,1473.23 377.54,1473.27 378.04,1473.50 378.54,1473.40 379.04,1473.45 379.54,1473.26 380.03,1473.23 380.53,1472.97 381.03,1472.90 381.53,1472.77 382.03,1472.82 382.53,1472.85 383.03,1472.90 383.53,1472.85 384.03,1472.86 384.53,1472.98 385.03,1472.99 385.52,1473.11 386.02,1473.23 386.52,1473.09 387.02,1473.00 387.52,1473.06 388.02,1473.04 388.52,1473.06 389.02,1473.01 389.52,1472.79 390.02,1473.02 390.52,1473.00 391.01,1473.08 391.51,1472.76 392.01,1472.66 392.51,1472.77 393.01,1472.83 393.51,1472.72 394.01,1472.98 394.51,1473.00 395.01,1473.31 395.51,1473.42 396.01,1473.33 396.50,1473.36 397.00,1473.30 397.50,1473.18 398.00,1473.08 398.50,1473.09 399.00,1473.23 399.50,1473.13 400.00,1473.05 400.50,1473.19 401.00,1473.19 401.49,1473.17 401.99,1473.07 402.49,1473.01 402.99,1473.09 403.49,1473.23 403.99,1473.23 404.49,1473.12 404.99,1473.01 405.49,1473.08 405.99,1473.01 406.49,1472.95 406.98,1472.84 407.48,1472.70 407.98,1472.74 408.48,1472.67 408.98,1472.58 409.48,1472.54 409.98,1472.71 410.48,1472.76 410.98,1472.87 411.48,1472.91 411.98,1473.16 412.47,1473.14 412.97,1473.19 413.47,1473.02 413.97,1473.17 414.47,1473.20 414.97,1473.03 415.47,1473.04 415.97,1473.30 416.47,1473.24 416.97,1473.53 417.47,1473.34 417.96,1473.41 418.46,1473.52 418.96,1473.43 419.46,1473.14 419.96,1473.13 420.46,1472.70 420.96,1472.79 421.46,1472.63 421.96,1472.70 422.46,1472.75 422.96,1472.79 423.45,1472.88 423.95,1473.03 424.45,1472.91 424.95,1473.00 425.45,1472.97 425.95,1472.87 426.45,1472.82 426.95,1472.75 427.45,1472.77 427.95,1472.91 428.45,1473.02 428.94,1473.04 429.44,1473.19 429.94,1473.30 430.44,1473.45 430.94,1473.45 431.44,1473.38 431.94,1473.24 432.44,1473.22 432.94,1473.29 433.44,1473.19 433.94,1473.10 434.43,1473.05 434.93,1473.09 435.43,1473.25 435.93,1473.23 436.43,1472.87 436.93,1473.01 437.43,1473.06 437.93,1472.97 438.43,1472.88 438.93,1472.73 439.42,1472.58 439.92,1472.84 440.42,1472.83 440.92,1472.80 441.42,1472.85 441.92,1472.81 442.42,1472.77 442.92,1472.98 443.42,1472.86 443.92,1472.94 444.42,1472.95 444.91,1472.86 445.41,1473.04 445.91,1473.11 446.41,1473.03 446.91,1473.11 447.41,1472.85 447.91,1472.84 448.41,1472.82 448.91,1472.61 449.41,1472.70 449.91,1472.84 450.40,1472.81 450.90,1472.87 451.40,1472.93 451.90,1473.12 452.40,1473.21 452.90,1473.16 453.40,1472.97 453.90,1473.06 454.40,1472.97 454.90,1473.01 455.40,1472.90 455.89,1472.83 456.39,1472.73 456.89,1472.87 457.39,1472.87 457.89,1473.06 458.39,1472.99 458.89,1473.14 459.39,1473.19 459.89,1473.09 460.39,1472.85 460.89,1472.62 461.38,1472.58 461.88,1472.52 462.38,1472.48 462.88,1472.50 463.38,1472.63 463.88,1472.73 464.38,1472.79 464.88,1472.65 465.38,1472.76 465.88,1472.84 466.38,1472.72 466.87,1472.72 467.37,1472.83 467.87,1473.07 468.37,1473.17 468.87,1473.09 469.37,1473.11 469.87,1473.08 470.37,1473.04 470.87,1473.00 471.37,1472.82 471.87,1473.04 472.36,1473.09 472.86,1473.01 473.36,1473.07 473.86,1473.20 474.36,1473.25 474.86,1473.27 475.36,1473.07 475.86,1472.89 476.36,1472.86 476.86,1473.01 477.36,1473.02 477.85,1473.01 478.35,1473.12 478.85,1473.11 479.35,1473.18 479.85,1473.28" fill="none" stroke="#555555" stroke-width="1.05" stroke-dasharray="4,1.5" stroke-linejoin="round"/>
<text x="79.0" y="1285.1" font-size="25" font-family='"Liberation Serif", serif'>h<tspan baseline-shift="super" font-size="65%">+</tspan></text>
<text x="430.5" y="1274.2" font-size="34.5" font-family='"Liberation Sans", sans-serif' font-weight="bold">(g)</text>
<text x="473.4" y="1318.2" font-size="19.5" font-family='"Liberation Serif", serif' text-anchor="end" textLength="54.4" lengthAdjust="spacingAndGlyphs">12 min</text>
<text x="473.4" y="1348.9" font-size="19.5" font-family='"Liberation Serif", serif' text-anchor="end" textLength="46.0" lengthAdjust="spacingAndGlyphs">8 min</text>
<text x="472.1" y="1395.6" font-size="19.5" font-family='"Liberation Serif", serif' text-anchor="end" textLength="45.9" lengthAdjust="spacingAndGlyphs">4 min</text>
<text x="471.4" y="1495.9" font-size="18.5" font-family='"Liberation Serif", serif' text-anchor="end" textLength="37.9" lengthAdjust="spacingAndGlyphs">Dark</text>
<defs>
<marker id="ahk" viewBox="0 0 12 10" refX="11" refY="5" markerWidth="12" markerHeight="10" markerUnits="userSpaceOnUse" orient="auto"><path d="M0,0 L12,5 L0,10 L3.5,5 z" fill="#000"/></marker>
<marker id="ahs" viewBox="0 0 12 10" refX="11" refY="5" markerWidth="9" markerHeight="7.5" markerUnits="userSpaceOnUse" orient="auto"><path d="M0,0 L12,5 L0,10 L3.5,5 z" fill="#000"/></marker>
<marker id="ahg" viewBox="0 0 12 10" refX="11" refY="5" markerWidth="9" markerHeight="7.5" markerUnits="userSpaceOnUse" orient="auto"><path d="M0,0 L12,5 L0,10 L3.5,5 z" fill="#222"/></marker>
<marker id="ahr" viewBox="0 0 12 10" refX="11" refY="5" markerWidth="12" markerHeight="8" markerUnits="userSpaceOnUse" orient="auto"><path d="M0,0 L12,5 L0,10 L2,5 z" fill="#ff0000"/></marker>
</defs>
<ellipse cx="888.8" cy="1384" rx="62.1" ry="90.2" fill="#808000" stroke="#303000" stroke-width="1"/>
<ellipse cx="762" cy="1463" rx="95" ry="140.2" fill="#ff00ff"/>
<rect x="563.2" y="1321.3" width="133.7" height="283" fill="#0082c6" stroke="#0000ff" stroke-width="2.6"/>
<line x1="701.50" y1="1356.70" x2="823.30" y2="1356.70" stroke="#400040" stroke-width="2.2" />
<line x1="700.50" y1="1563.90" x2="825.50" y2="1563.90" stroke="#400040" stroke-width="2.2" />
<line x1="839.10" y1="1329.10" x2="935.20" y2="1329.10" stroke="#101000" stroke-width="2.2" />
<line x1="856.00" y1="1437.80" x2="938.10" y2="1437.80" stroke="#101000" stroke-width="2.2" />
<line x1="734.00" y1="1358.00" x2="734.00" y2="1562.50" stroke="#b4b4b4" stroke-width="1.4" />
<polyline points="719.2,1531.0 734.0,1562.5 748.8,1531.0" fill="none" stroke="#b4b4b4" stroke-width="1.4"/>
<line x1="804.60" y1="1562.50" x2="804.60" y2="1358.50" stroke="#ffa83c" stroke-width="1.6" />
<polyline points="791.3,1391.8 804.6,1358.5 817.9,1391.8" fill="none" stroke="#ffa83c" stroke-width="1.6"/>
<line x1="866.10" y1="1335.90" x2="866.10" y2="1431.50" stroke="#b8b8b8" stroke-width="1.3" />
<polyline points="858.4,1415.5 866.1,1431.5 873.8,1415.5" fill="none" stroke="#b8b8b8" stroke-width="1.3"/>
<line x1="913.40" y1="1433.70" x2="913.40" y2="1330.80" stroke="#ffff00" stroke-width="1.4" />
<polyline points="906.2,1347.3 913.4,1330.8 920.6,1347.3" fill="none" stroke="#ffff00" stroke-width="1.4"/>
<circle cx="663.6" cy="1403.7" r="29.3" fill="#0000ff"/>
<circle cx="597.7" cy="1464.4" r="29.3" fill="#0000ff"/>
<circle cx="664.4" cy="1513.7" r="29.3" fill="#0000ff"/>
<text x="642.9" y="1412.4" font-size="19" font-family='"Liberation Sans", sans-serif' font-weight="bold" fill="#00ffff" textLength="34.3" lengthAdjust="spacingAndGlyphs">Dye</text>
<text x="680.5" y="1405.5" font-size="17" font-family='"Liberation Sans", sans-serif' font-weight="bold" fill="#00ffff">*</text>
<text x="574.7" y="1473.1" font-size="19" font-family='"Liberation Sans", sans-serif' font-weight="bold" fill="#00ffff" textLength="33.7" lengthAdjust="spacingAndGlyphs">Dye</text>
<text x="611.0" y="1467.0" font-size="21" font-family='"Liberation Sans", sans-serif' font-weight="bold" fill="#00ffff">+</text>
<text x="646.7" y="1521.5" font-size="19" font-family='"Liberation Sans", sans-serif' font-weight="bold" fill="#00ffff" textLength="34.3" lengthAdjust="spacingAndGlyphs">Dye</text>
<path d="M723.5,1330.8 C720.6,1330.4 711.6,1328.0 706.0,1328.5 C700.4,1329.0 694.7,1330.4 690.0,1334.0 C685.3,1337.6 682.3,1346.7 678.0,1350.0 C673.7,1353.3 668.7,1354.0 664.0,1354.0 C659.3,1354.0 654.4,1351.3 650.0,1350.0 C645.6,1348.7 639.6,1347.0 637.5,1346.4" fill="none" stroke="#000" stroke-width="1.1" marker-end="url(#ahk)"/>
<path d="M632.3,1403.8 C629.1,1402.6 617.6,1399.0 612.9,1396.5 C608.2,1394.0 605.4,1391.3 604.0,1388.5 C602.6,1385.7 603.5,1383.2 604.6,1379.5 C605.7,1375.8 609.7,1368.7 610.7,1366.5" fill="none" stroke="#000" stroke-width="1.1" marker-end="url(#ahk)"/>
<path d="M639.8,1421.5 C638.6,1423.1 635.6,1430.2 632.6,1431.0 C629.6,1431.8 624.5,1426.6 622.0,1426.5 C619.5,1426.4 618.1,1427.6 617.4,1430.5 C616.7,1433.4 617.6,1441.8 617.6,1444.0" fill="none" stroke="#000" stroke-width="1.1" marker-end="url(#ahs)"/>
<path d="M597.8,1495.8 C598.5,1498.2 599.8,1506.5 602.3,1510.2 C604.8,1514.0 607.5,1516.7 612.9,1518.3 C618.3,1519.9 630.9,1519.7 634.5,1520.0" fill="none" stroke="#000" stroke-width="1.1" marker-end="url(#ahk)"/>
<path d="M676.4,1486.0 C675.4,1484.0 671.5,1477.7 670.4,1473.9 C669.3,1470.1 668.6,1466.8 669.8,1463.3 C671.0,1459.8 676.7,1456.0 677.6,1452.7 C678.5,1449.4 676.5,1446.4 675.0,1443.6 C673.5,1440.8 669.9,1437.3 668.9,1436.0" fill="none" stroke="#000" stroke-width="1.1" marker-end="url(#ahs)"/>
<path d="M681.0,1381.4 C683.6,1381.7 691.9,1383.7 696.9,1383.0 C701.9,1382.3 707.2,1379.8 711.0,1377.0 C714.8,1374.2 717.0,1369.6 719.5,1366.0 C722.0,1362.4 724.8,1357.2 725.8,1355.5" fill="none" stroke="#000" stroke-width="1.1" marker-end="url(#ahk)"/>
<path d="M860.2,1316.0 C857.7,1314.9 850.9,1310.6 845.0,1309.5 C839.1,1308.4 831.8,1308.1 824.8,1309.5 C817.8,1310.9 809.4,1314.0 803.0,1318.0 C796.6,1322.0 789.2,1331.0 786.5,1333.6" fill="none" stroke="#000" stroke-width="1.1" marker-end="url(#ahk)"/>
<path d="M806.3,1348.6 C809.4,1348.9 818.5,1351.4 825.0,1350.5 C831.5,1349.6 838.6,1346.2 845.0,1343.0 C851.4,1339.8 860.4,1333.0 863.5,1331.0" fill="none" stroke="#000" stroke-width="1.1" marker-end="url(#ahk)"/>
<path d="M728.4,1296.7 C730.7,1299.2 736.8,1308.5 742.0,1312.0 C747.2,1315.5 753.2,1317.9 759.5,1318.0 C765.8,1318.1 773.3,1316.9 780.0,1312.5 C786.7,1308.1 796.5,1295.0 799.8,1291.5" fill="none" stroke="#333" stroke-width="1.1" marker-end="url(#ahk)"/>
<path d="M855.4,1282.5 C858.5,1281.2 867.8,1276.5 874.0,1275.0 C880.2,1273.5 886.5,1273.2 892.8,1273.3 C899.1,1273.4 904.9,1274.0 912.0,1275.5 C919.1,1277.0 931.4,1281.2 935.3,1282.3" fill="none" stroke="#333" stroke-width="1.1" marker-end="url(#ahs)"/>
<path d="M968.8,1298.1 C967.9,1299.5 963.9,1303.9 963.7,1306.6 C963.6,1309.3 964.9,1312.4 967.9,1314.3 C970.9,1316.2 978.5,1316.0 981.5,1318.0 C984.5,1320.0 985.2,1322.6 986.0,1326.0 C986.8,1329.4 986.4,1336.4 986.5,1338.5" fill="none" stroke="#ff0000" stroke-width="1.2" marker-end="url(#ahr)"/>
<path d="M907.7,1457.3 C910.1,1457.7 918.1,1458.0 922.0,1459.5 C925.9,1461.0 929.3,1463.6 931.0,1466.0 C932.7,1468.4 930.3,1472.1 932.0,1474.0 C933.7,1475.9 936.4,1476.5 941.0,1477.5 C945.6,1478.5 956.4,1479.4 959.5,1479.8" fill="none" stroke="#ff0000" stroke-width="1.2" marker-end="url(#ahr)"/>
<path d="M813.3,1577.5 C816.5,1577.9 828.4,1578.3 832.6,1579.8 C836.8,1581.3 837.1,1584.5 838.3,1586.6 C839.5,1588.7 838.0,1591.2 840.0,1592.3 C842.0,1593.4 844.4,1593.7 850.0,1593.4 C855.6,1593.1 869.5,1591.2 873.4,1590.7" fill="none" stroke="#ff0000" stroke-width="1.2" marker-end="url(#ahr)"/>
<polygon points="600.6,1561.1 630.9,1544.4 633.4,1549.0 642.4,1534.3 625.2,1534.1 627.7,1538.6 597.4,1555.3" fill="#ffff00" stroke="#404000" stroke-width="0.8" stroke-linejoin="miter"/>
<polygon points="828.5,1516.7 785.3,1537.9 783.1,1533.4 772.5,1548.1 790.6,1548.7 788.4,1544.2 831.5,1522.9" fill="#ffff00" stroke="#404000" stroke-width="0.8" stroke-linejoin="miter"/>
<polygon points="954.8,1404.9 927.7,1417.4 926.1,1414.0 917.2,1425.8 931.9,1426.7 930.3,1423.2 957.4,1410.7" fill="#ffff00" stroke="#404000" stroke-width="0.8" stroke-linejoin="miter"/>
<text x="572.1" y="1283.3" font-size="38.5" font-family='"Liberation Sans", sans-serif' font-weight="bold">(h)</text>
<text x="711.9" y="1291.0" font-size="26" font-family='"Liberation Sans", sans-serif' font-weight="bold" textLength="31.2" lengthAdjust="spacingAndGlyphs">O<tspan font-size="70%">2</tspan></text>
<text x="807.0" y="1288.8" font-size="26" font-family='"Liberation Sans", sans-serif' font-weight="bold">O<tspan font-size="79%" dy="3.8">2</tspan></text>
<rect x="799.6" y="1276.0" width="5.2" height="4.4" fill="#000"/>
<rect x="832.8" y="1266.2" width="6.4" height="3.5" fill="#000"/>
<text x="867.3" y="1268.4" font-size="22" font-family='"Liberation Sans", sans-serif' font-weight="bold" textLength="48.7" lengthAdjust="spacingAndGlyphs">H<tspan font-size="72%">2</tspan>O</text>
<text x="948.0" y="1291.0" font-size="25.5" font-family='"Liberation Sans", sans-serif' font-weight="bold" textLength="36.6" lengthAdjust="spacingAndGlyphs">OH</text>
<rect x="941.6" y="1279.7" width="5.1" height="4.8" fill="#000"/>
<text x="717.3" y="1352.2" font-size="24" font-family='"Liberation Sans", sans-serif' font-weight="bold">e</text>
<rect x="734.6" y="1336.6" width="6" height="2.8" fill="#000"/>
<text x="753.6" y="1352.2" font-size="24" font-family='"Liberation Sans", sans-serif' font-weight="bold">e</text>
<rect x="770.9" y="1336.6" width="6" height="2.8" fill="#000"/>
<text x="789.9" y="1352.2" font-size="24" font-family='"Liberation Sans", sans-serif' font-weight="bold">e</text>
<rect x="807.2" y="1336.6" width="6" height="2.8" fill="#000"/>
<text x="607.3" y="1359.5" font-size="24" font-family='"Liberation Sans", sans-serif' font-weight="bold">e</text>
<rect x="625" y="1342.2" width="5.5" height="2.8" fill="#000"/>
<text x="585.7" y="1537.4" font-size="24" font-family='"Liberation Sans", sans-serif' font-weight="bold">e</text>
<rect x="603.9" y="1520.2" width="5" height="2.6" fill="#000"/>
<text x="879.2" y="1324.5" font-size="24" font-family='"Liberation Sans", sans-serif' font-weight="bold">e</text>
<rect x="897" y="1306.8" width="5" height="2.6" fill="#000"/>
<text x="720.1" y="1589.2" font-size="24.5" font-family='"Liberation Sans", sans-serif' font-weight="bold">h</text>
<text x="735.1" y="1580.0" font-size="16" font-family='"Liberation Sans", sans-serif' font-weight="bold">+</text>
<text x="753.9" y="1589.2" font-size="24.5" font-family='"Liberation Sans", sans-serif' font-weight="bold">h</text>
<text x="768.9" y="1580.0" font-size="16" font-family='"Liberation Sans", sans-serif' font-weight="bold">+</text>
<text x="787.6" y="1589.2" font-size="24.5" font-family='"Liberation Sans", sans-serif' font-weight="bold">h</text>
<text x="802.6" y="1580.0" font-size="16" font-family='"Liberation Sans", sans-serif' font-weight="bold">+</text>
<text x="884.5" y="1461.8" font-size="24.5" font-family='"Liberation Sans", sans-serif' font-weight="bold">h</text>
<text x="898.5" y="1452.5" font-size="16" font-family='"Liberation Sans", sans-serif' font-weight="bold">+</text>
<text x="716.9" y="1465.9" font-size="25" font-family='"Liberation Sans", sans-serif' fill="#00ffff" textLength="101.4" lengthAdjust="spacingAndGlyphs" stroke="#00ffff" stroke-width="0.6">N-doped</text>
<text x="743.1" y="1496.9" font-size="25" font-family='"Liberation Sans", sans-serif' fill="#00ffff" textLength="50.7" lengthAdjust="spacingAndGlyphs" stroke="#00ffff" stroke-width="0.6">TiO<tspan font-size="75%">2</tspan></text>
<text x="872.2" y="1388.7" font-size="22" font-family='"Liberation Sans", sans-serif' font-weight="bold" fill="#00ffff" textLength="33.3" lengthAdjust="spacingAndGlyphs">Ag</text>
<text x="927.5" y="1395.5" font-size="19.5" font-family='"Liberation Sans", sans-serif' font-weight="bold" textLength="80.4" lengthAdjust="spacingAndGlyphs">Plasmon</text>
<text x="836.0" y="1526.5" font-size="24" font-family='"Liberation Sans", sans-serif' font-weight="bold" textLength="143.6" lengthAdjust="spacingAndGlyphs">Visible light</text>
<text x="607.2" y="1594.1" font-size="25" font-family='"Liberation Sans", sans-serif' font-weight="bold" textLength="48.8" lengthAdjust="spacingAndGlyphs">PET</text>
<text x="973.0" y="1360.6" font-size="22.5" font-family='"Liberation Serif", serif' font-weight="bold" textLength="39.3" lengthAdjust="spacingAndGlyphs">MO</text>
<text x="964.0" y="1486.6" font-size="22.5" font-family='"Liberation Serif", serif' font-weight="bold" textLength="39.4" lengthAdjust="spacingAndGlyphs">MO</text>
<text x="878.0" y="1598.0" font-size="22.5" font-family='"Liberation Serif", serif' font-weight="bold" textLength="39.7" lengthAdjust="spacingAndGlyphs">MO</text>
</svg>
</body></html>
